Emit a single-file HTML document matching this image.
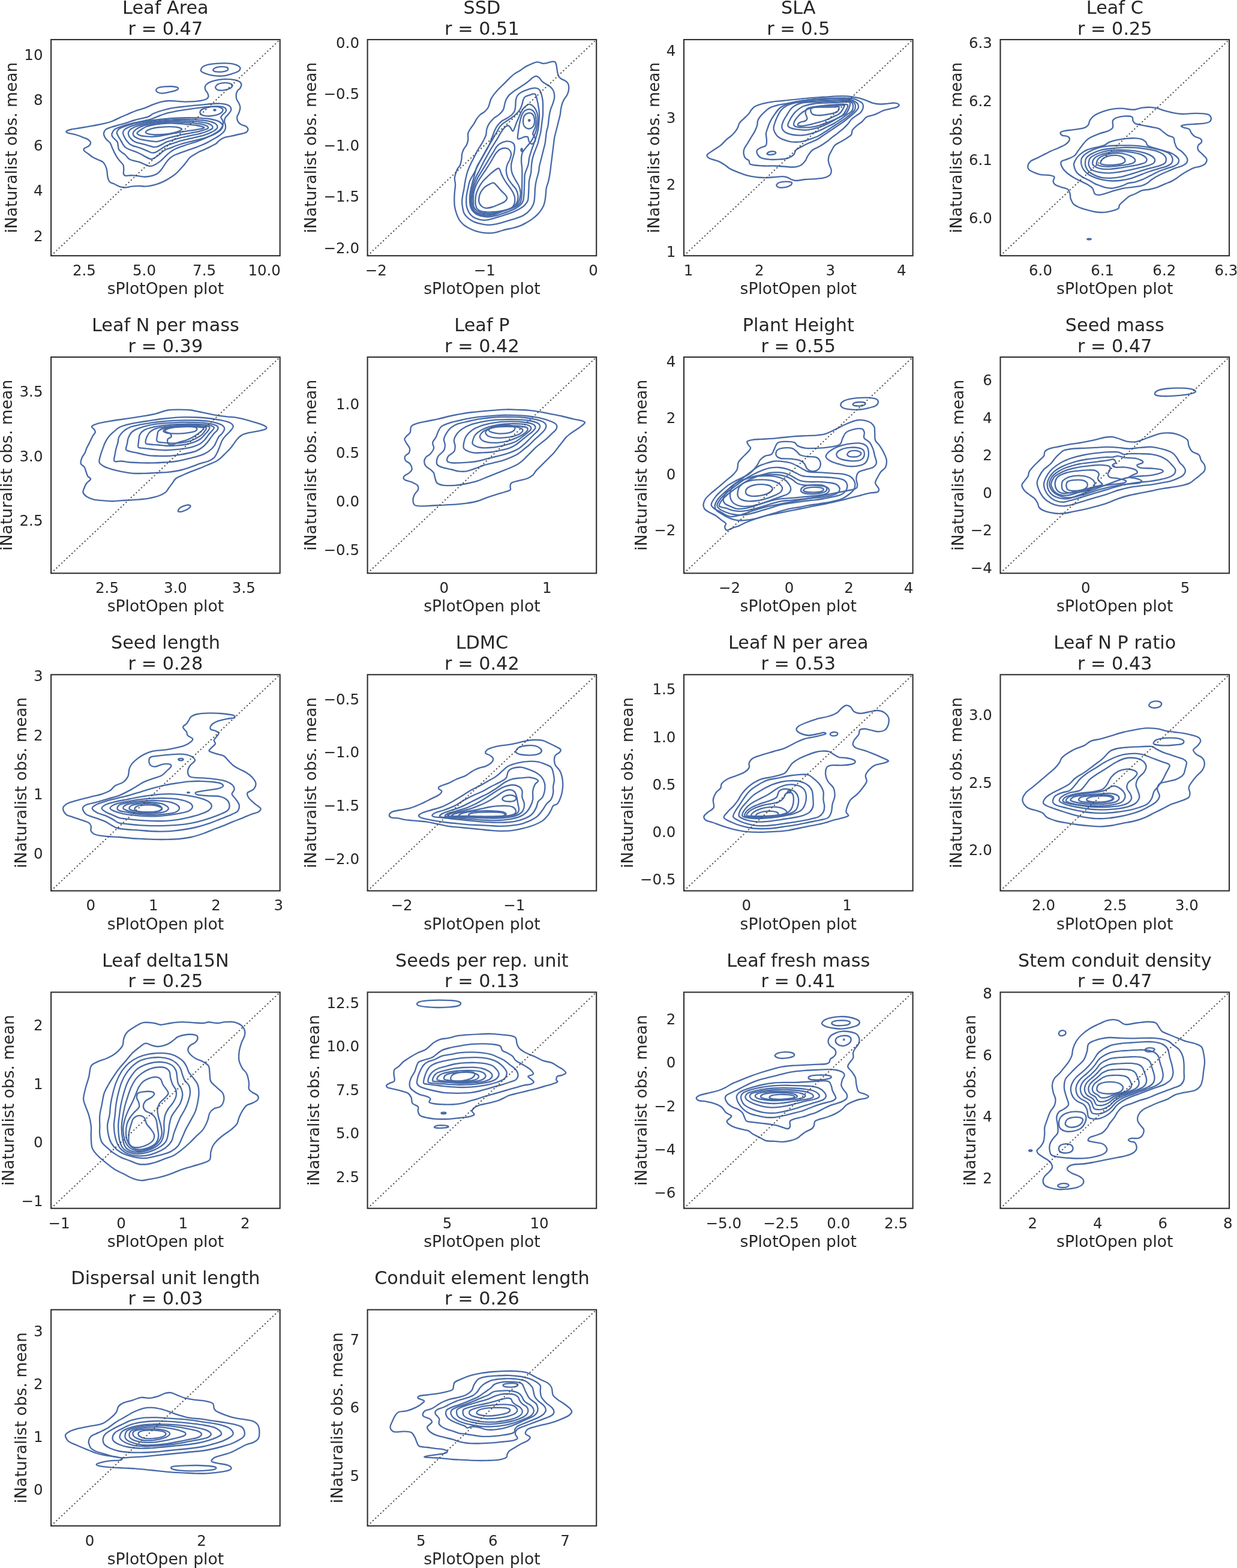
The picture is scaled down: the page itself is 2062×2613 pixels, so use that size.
<!DOCTYPE html>
<html><head><meta charset="utf-8"><title>KDE comparison</title>
<style>html,body{margin:0;padding:0;background:#fff;}svg{display:block;}text{font-family:"DejaVu Sans","Liberation Sans",sans-serif;fill:#262626;}.c{fill:none;stroke:#476aa8;stroke-width:2.35;stroke-linejoin:round;}.fr{fill:none;stroke:#2f2f2f;stroke-width:2.1;}.dg{stroke:#4a4a4a;stroke-width:2.0;stroke-dasharray:2.1 3.8;}.tt{font-size:30.3px;text-anchor:middle;}.lb{font-size:26.6px;text-anchor:middle;}.tx{font-size:24.5px;text-anchor:middle;}.ty{font-size:24.5px;text-anchor:end;}</style></head><body>
<svg xmlns="http://www.w3.org/2000/svg" width="2062" height="2613" viewBox="0 0 2062 2613">
<rect width="2062" height="2613" fill="#fff"/>
<g><path class="c" d="M110.6,218.8C111.6,217.8 115.3,216.5 119.3,215.5C123.3,214.6 129,214 134.8,213C140.6,212.1 147.7,210.9 154.1,209.7C160.5,208.5 167.9,207.2 173.4,205.9C178.9,204.6 182.4,203.7 186.9,202C191.4,200.3 196,197.7 200.5,195.6C205,193.6 209.8,191.6 214,189.8C218.2,188.1 221.1,186.6 225.6,185C230.1,183.4 236.2,181.9 241,180.2C245.9,178.4 250.1,176.1 254.6,174.4C259.1,172.7 263.6,171 268.1,169.9C272.6,168.9 277.1,168.2 281.6,168C286.1,167.8 290.6,168.3 295.1,168.6C299.6,168.8 304.1,169.5 308.7,169.6C313.2,169.6 317.7,169.5 322.2,169.2C326.7,168.8 332.1,168.3 335.7,167.6C339.3,167 341.9,166.3 343.8,165.3C345.7,164.3 346.9,163 347.3,161.4C347.7,159.8 347.1,157.6 346.3,155.6C345.5,153.7 343.2,151.8 342.5,149.8C341.7,147.9 341.4,145.8 341.9,144C342.4,142.3 343.5,141 345.4,139.6C347.2,138.2 349.9,136.9 353.1,135.7C356.3,134.6 360.5,133.5 364.7,132.8C368.9,132.2 373.9,131.8 378.2,131.9C382.6,131.9 387.2,132.5 390.8,133.2C394.3,134 397.5,135 399.5,136.3C401.4,137.6 402.2,139.2 402.4,141C402.5,142.7 401.6,145 400.4,146.8C399.3,148.6 396.7,149.9 395.6,151.8C394.5,153.6 393.8,155.6 393.7,158C393.5,160.3 393.8,163.3 394.6,165.7C395.4,168.1 397.5,170.1 398.5,172.4C399.5,174.8 400.4,177.1 400.4,179.6C400.4,182.1 399.4,184.8 398.5,187.3C397.6,189.9 395.5,192.5 395.2,195.1C394.9,197.6 395.5,200.3 396.6,202.4C397.7,204.5 399.5,206.1 401.8,207.4C404,208.8 408.2,209.3 410.1,210.5C412,211.8 413.1,213.4 413.4,215C413.6,216.5 412.6,218.6 411.4,219.8C410.2,221 408.5,221.4 406.2,222.1C403.9,222.8 400.9,223.3 397.5,224C394.1,224.8 389.8,225.9 385.9,226.7C382.1,227.6 377.6,228 374.3,229.1C371.1,230.2 369,231.6 366.6,233.3C364.2,235 362.4,237.7 359.9,239.5C357.3,241.3 354.2,242.6 351.2,244.1C348.1,245.7 344.7,247.3 341.5,248.8C338.3,250.2 334.7,251.6 331.8,253C328.9,254.5 326.7,255.8 324.1,257.5C321.5,259.1 318.6,260.6 316.4,262.7C314.1,264.8 312.5,267.7 310.6,270C308.7,272.4 307.1,274.5 305.2,276.8C303.2,279 301,281.4 299,283.5C297,285.6 295.5,287.4 293.2,289.3C290.9,291.3 288.7,293 285.5,295.1C282.3,297.2 277.7,300 273.9,301.9C270,303.8 266.2,305.4 262.3,306.7C258.4,308 254.2,309 250.7,309.6C247.2,310.3 244.3,310.6 241,310.6C237.8,310.6 234.9,309.8 231.4,309.8C227.8,309.8 223.6,310.1 219.8,310.6C215.9,311 211.7,312.5 208.2,312.5C204.6,312.5 201.4,311.6 198.5,310.6C195.6,309.6 193.4,307.9 190.8,306.7C188.2,305.5 184.9,305.1 183.1,303.2C181.2,301.4 180.4,298.5 179.6,295.5C178.8,292.6 179,288.5 178.4,285.5C177.9,282.4 177.4,279.9 176.3,277.4C175.2,274.8 174,272.3 171.9,270.4C169.8,268.5 166.6,267.5 163.8,266.2C161,264.8 157.8,263.9 155.1,262.3C152.3,260.7 149.8,258.4 147.3,256.5C144.9,254.6 141.3,252.6 140.2,251.1C139.1,249.5 139.3,248.5 140.6,247.2C141.9,245.9 146.2,245 147.9,243.4C149.7,241.7 151.3,239.4 151,237.6C150.7,235.7 148.4,233.8 146.4,232.3C144.3,230.9 141.2,230.1 138.6,229.1C136.1,228 133.5,226.9 130.9,226C128.3,225.1 126.1,224.4 123.2,223.6C120.3,222.9 115.6,222.5 113.5,221.7C111.4,220.9 109.7,219.8 110.6,218.8Z"/><path class="c" d="M260.4,149.3C260.9,148.3 262,146.8 264.2,146C266.5,145.2 270.3,144.8 273.9,144.4C277.4,144.1 281.9,143.9 285.5,144C289,144.2 293.2,144.8 295.1,145.4C297.1,146 297.4,147 297.1,147.9C296.7,148.8 295.5,149.7 293.2,150.6C290.9,151.5 287.1,152.3 283.5,153.1C280,153.9 275.2,155.2 271.9,155.4C268.7,155.7 266.1,155.1 264.2,154.5C262.4,153.9 261.4,152.6 260.7,151.8C260.1,150.9 259.8,150.2 260.4,149.3Z"/><path class="c" d="M334.7,117C335,115.7 335.5,113.1 337.6,111.6C339.7,110 343.4,108.7 347.3,107.7C351.2,106.8 356,106.2 360.8,105.8C365.6,105.4 371.4,105.2 376.3,105.4C381.1,105.6 386.1,105.9 389.8,106.8C393.5,107.6 396.7,109.2 398.5,110.6C400.3,112 400.7,113.6 400.4,115.1C400.1,116.5 399,118 396.6,119.3C394.1,120.7 389.6,122.1 385.9,123.2C382.2,124.3 378.2,125.5 374.3,126.1C370.5,126.7 366.6,126.8 362.8,126.7C358.9,126.5 354.7,125.9 351.2,125.1C347.6,124.4 344,123.2 341.5,122.2C339,121.3 337.2,120.2 336.1,119.3C335,118.5 334.5,118.3 334.7,117Z"/><path class="c" d="M355.4,115.8C356,114.9 357.7,113.3 359.9,112.6C362,111.8 365.6,111.3 368.5,111.2C371.4,111.1 375.3,111.4 377.2,112C379.2,112.5 380,113.5 380.1,114.5C380.3,115.5 379.8,116.9 378.2,117.8C376.6,118.6 373.2,119.4 370.5,119.7C367.7,120 364.1,119.9 361.8,119.7C359.5,119.5 357.6,119 356.6,118.4C355.5,117.7 354.9,116.8 355.4,115.8Z"/><path class="c" d="M359.3,144.8C359.8,143.7 360.9,141.7 362.8,140.6C364.6,139.5 367.6,138.6 370.5,138.3C373.4,137.9 377.4,137.8 380.1,138.3C382.9,138.7 385.9,139.8 386.9,141C387.9,142.1 387.1,144.1 385.9,145.4C384.8,146.7 382.7,147.8 380.1,148.7C377.6,149.6 373.4,150.4 370.5,150.6C367.6,150.8 364.6,150.4 362.8,149.8C360.9,149.3 360.2,148.2 359.7,147.3C359.1,146.5 358.8,145.9 359.3,144.8Z"/><path class="c" d="M173,221.7C173.4,219.9 174.3,217.5 176.3,215.9C178.3,214.3 181.3,213.3 185,212.1C188.7,210.8 194,209.5 198.5,208.2C203,206.9 207.9,205.6 212.1,204.3C216.2,203 219.8,201.6 223.6,200.5C227.5,199.3 231.4,198.5 235.2,197.6C239.1,196.6 243.6,196 246.8,194.7C250.1,193.4 251.7,191.3 254.6,189.8C257.5,188.4 260.4,187.3 264.2,186C268.1,184.7 272.9,183.2 277.7,182.1C282.6,181 288,180 293.2,179.2C298.4,178.4 303.5,177.9 308.7,177.3C313.8,176.7 319,176.2 324.1,175.7C329.3,175.3 334.7,174.8 339.6,174.4C344.4,173.9 348.6,173.3 353.1,173C357.6,172.7 362.4,172.4 366.6,172.6C370.8,172.9 375.3,173.4 378.2,174.4C381.1,175.3 382.9,176.6 384,178.2C385.1,179.9 385.5,182.1 385,184C384.5,186 382.6,187.9 381.1,189.8C379.6,191.8 377.1,193.5 375.9,195.6C374.7,197.7 374,200.1 374,202.4C374,204.6 375.7,206.9 375.9,209.2C376.1,211.4 376,213.9 375.3,215.9C374.6,217.9 373.2,219.6 371.4,221.3C369.7,223.1 367.4,224.7 364.7,226.5C361.9,228.4 358.2,230.5 355,232.3C351.8,234.2 348.6,235.9 345.4,237.6C342.1,239.2 338.9,240.6 335.7,242C332.5,243.4 329.3,244.7 326,245.9C322.8,247.1 319.6,248 316.4,249.1C313.2,250.3 309.9,251.5 306.7,252.6C303.5,253.8 300.3,254.8 297.1,256.1C293.8,257.4 290.1,258.7 287.4,260.4C284.7,262 282.7,263.9 280.6,266.2C278.5,268.4 276.8,271.1 274.8,273.9C272.9,276.6 271.1,280 269,282.6C267,285.1 265,287.6 262.3,289.3C259.6,291.1 256.2,292.3 252.6,293.2C249.1,294.1 244.9,294.7 241,294.7C237.2,294.7 233.3,293.6 229.4,293.2C225.6,292.8 221.2,292.3 217.9,292.2C214.5,292.2 211.2,293.3 209.2,292.8C207.2,292.3 206.4,291 205.9,289.3C205.4,287.6 206.4,285 206.3,282.6C206.2,280.2 206.4,277.3 205.3,274.8C204.2,272.4 201.3,270.3 199.5,268.1C197.7,265.8 196.2,263.7 194.7,261.3C193.2,258.9 191.7,256.2 190.4,253.6C189.1,251 188.1,248.4 186.9,245.9C185.8,243.3 185.1,240.4 183.5,238.1C181.9,235.9 178.9,234.3 177.3,232.3C175.7,230.4 174.5,228.3 173.8,226.5C173.1,224.8 172.6,223.5 173,221.7Z"/><path class="c" d="M186.6,222.7C187.1,220.7 188.5,217.8 190.8,215.9C193.1,214.1 196.3,213 200.5,211.5C204.6,209.9 210.1,208.2 215.9,206.6C221.7,205.1 229.4,203.7 235.2,202.4C241,201.1 246.2,200.3 250.7,198.9C255.2,197.6 258.1,195.9 262.3,194.3C266.5,192.7 270.7,190.7 275.8,189.3C281,187.8 287.1,186.6 293.2,185.4C299.3,184.2 306.1,183.3 312.5,182.3C319,181.3 325.4,180.4 331.8,179.6C338.3,178.8 345.4,178.1 351.2,177.7C357,177.3 362.6,176.9 366.6,177.3C370.6,177.7 373.6,178.6 375.3,180C377,181.3 377.3,183.6 376.7,185.4C376,187.2 372.9,189.1 371.4,190.8C370,192.5 368.2,193.9 368.2,195.6C368.2,197.4 370.9,199.3 371.4,201.4C372,203.6 372.1,206.3 371.4,208.6C370.8,210.9 369.4,213.3 367.6,215.3C365.8,217.4 363.6,219 360.8,220.7C358.1,222.5 354.7,224.2 351.2,226C347.6,227.7 343.4,229.7 339.6,231.4C335.7,233 331.8,234.5 328,235.8C324.1,237.2 320.2,238.2 316.4,239.5C312.5,240.7 308.7,242 304.8,243.4C300.9,244.7 296.7,246.1 293.2,247.8C289.7,249.5 286.6,251.3 283.5,253.6C280.5,255.8 277.4,258.9 274.8,261.3C272.3,263.7 270.8,265.7 268.1,267.9C265.3,270 261.6,272.8 258.4,274.3C255.2,275.7 253.1,277.5 248.8,276.8C244.4,276.1 237.9,272 232.5,270.2C227.2,268.4 220.5,267.8 216.5,265.8C212.5,263.7 211.8,260.7 208.8,258C205.8,255.4 200.7,253.2 198.5,249.7C196.4,246.2 197.1,240 195.8,237C194.5,233.9 192.2,233 190.8,231.4C189.4,229.8 188,229 187.3,227.5C186.6,226.1 186,224.6 186.6,222.7Z"/><path class="c" d="M194.9,221.9C194.2,219 195.7,217.7 197.2,216.1C198.6,214.5 200.3,213.6 203.6,212.2C206.8,210.9 211.2,209.3 216.5,207.8C221.8,206.3 228.9,204.6 235.2,203.4C241.6,202.1 248.1,201.3 254.6,200.5C261,199.6 267.4,198.8 273.9,198.1C280.3,197.5 286.8,196.9 293.2,196.6C299.6,196.3 306.1,196.2 312.5,196.2C319,196.2 325.4,196.2 331.8,196.6C338.3,197 345.7,197.6 351.2,198.5C356.6,199.5 361.3,200.6 364.7,202.4C368,204.2 370.6,206.9 371.3,209.2C371.9,211.4 370.3,213.8 368.5,215.9C366.8,218 363.7,219.9 360.8,221.7C357.9,223.5 354.7,225.1 351.2,226.5C347.6,228 343.4,229.3 339.6,230.4C335.7,231.5 331.8,232.3 328,233.3C324.1,234.3 320.2,235.2 316.4,236.2C312.5,237.2 308.7,238 304.8,239.1C300.9,240.2 296.7,241.7 293.2,243C289.7,244.3 286.7,245.6 283.5,246.8C280.4,248.1 277.6,248.4 274.5,250.3C271.3,252.2 268,255.7 264.8,258C261.6,260.4 257.8,263.4 255.1,264.4C252.5,265.5 253,266.1 248.8,264.4C244.5,262.7 235.9,257.2 229.4,254.2C223,251.2 214.9,249.9 210.1,246.4C205.4,243 203.6,237.6 201,233.5C198.5,229.4 195.5,224.8 194.9,221.9Z"/><path class="c" d="M205,220.8C205.2,219.2 206.3,217.3 207.6,216C208.8,214.7 210.8,213.8 212.5,212.9C214.2,212 216.1,211.3 217.9,210.6C219.8,209.9 221.7,209.3 223.5,208.8C225.4,208.2 227.3,207.7 229.2,207.2C231.1,206.7 233,206.3 235,205.9C236.9,205.4 238.8,205 240.7,204.6C242.7,204.3 244.6,203.9 246.5,203.6C248.5,203.3 250.4,203 252.4,202.8C254.3,202.5 256.3,202.3 258.2,202C260.2,201.8 262.1,201.5 264.1,201.3C266,201.1 268,200.9 269.9,200.7C271.9,200.5 273.8,200.3 275.8,200.1C277.7,199.9 279.7,199.8 281.6,199.6C283.6,199.5 285.6,199.4 287.5,199.3C289.5,199.1 291.4,199.1 293.4,199C295.4,198.9 297.3,198.9 299.3,198.9C301.3,198.9 303.2,198.9 305.2,198.9C307.2,198.9 309.1,198.9 311.1,199C313,199 315,199 317,199.1C318.9,199.1 320.9,199.2 322.9,199.3C324.8,199.4 326.8,199.5 328.7,199.6C330.7,199.8 332.7,199.9 334.6,200.1C336.6,200.3 338.5,200.4 340.5,200.7C342.4,201 344.4,201.2 346.3,201.6C348.2,202 350.2,202.4 352,203C353.9,203.5 355.8,204.2 357.5,205.1C359.1,206.1 361.1,207.3 361.9,208.8C362.6,210.3 362.5,212.4 361.8,213.9C361.1,215.3 359,216.5 357.4,217.6C355.8,218.7 354.1,219.6 352.3,220.4C350.6,221.3 348.8,222.1 347,222.9C345.2,223.6 343.3,224.2 341.4,224.8C339.6,225.4 337.7,225.9 335.8,226.5C333.9,227 332,227.4 330.1,227.9C328.2,228.3 326.2,228.7 324.3,229.1C322.4,229.6 320.5,230 318.6,230.5C316.7,230.9 314.8,231.4 312.9,231.8C310.9,232.3 309,232.7 307.1,233.1C305.2,233.6 303.3,234.1 301.4,234.6C299.5,235.1 297.7,235.7 295.8,236.3C293.9,236.9 292.1,237.5 290.2,238.2C288.4,238.8 286.5,239.6 284.7,240.2C282.8,240.8 280.9,241.2 279.1,242C277.3,242.7 275.5,243.6 273.9,244.6C272.2,245.6 270.7,246.8 269.1,247.9C267.5,249 265.9,250 264.3,251C262.6,252 260.9,253.2 259.2,253.8C257.4,254.4 255.4,254.8 253.6,254.6C251.7,254.4 249.9,253.4 248.2,252.7C246.4,251.9 244.6,251.1 242.9,250.4C241.1,249.6 239.4,248.8 237.6,248.1C235.8,247.4 234,246.7 232.1,246.1C230.3,245.4 228.4,245 226.5,244.4C224.6,243.9 222.7,243.4 220.9,242.6C219.1,241.9 217.3,241 215.9,239.8C214.4,238.6 213.2,237.1 212,235.6C210.8,234.1 209.7,232.5 208.8,230.9C207.8,229.3 206.8,227.6 206.2,225.9C205.5,224.2 204.7,222.5 205,220.8Z"/><path class="c" d="M214.3,219.9C214.9,218.5 215.9,217 217.1,215.9C218.3,214.8 220,214 221.5,213.2C223,212.3 224.6,211.6 226.2,211C227.8,210.4 229.5,209.8 231.2,209.3C232.8,208.8 234.5,208.4 236.2,208C237.9,207.5 239.5,207.1 241.2,206.8C242.9,206.4 244.6,206 246.3,205.7C248,205.4 249.7,205.1 251.5,204.8C253.2,204.5 254.9,204.3 256.6,204.1C258.3,203.8 260,203.6 261.8,203.4C263.5,203.2 265.2,203 266.9,202.9C268.7,202.7 270.4,202.5 272.1,202.4C273.8,202.2 275.6,202.1 277.3,202C279,201.8 280.7,201.7 282.5,201.6C284.2,201.5 285.9,201.4 287.7,201.4C289.4,201.3 291.1,201.3 292.9,201.2C294.6,201.2 296.3,201.2 298.1,201.2C299.8,201.3 301.5,201.3 303.3,201.3C305,201.4 306.7,201.4 308.5,201.5C310.2,201.6 311.9,201.6 313.6,201.7C315.4,201.8 317.1,201.9 318.8,202C320.6,202.1 322.3,202.2 324,202.3C325.8,202.4 327.5,202.6 329.2,202.7C330.9,202.9 332.7,203.1 334.4,203.3C336.1,203.5 337.8,203.7 339.5,204.1C341.2,204.4 342.9,204.7 344.6,205.2C346.3,205.6 348,206.1 349.5,206.9C351,207.6 352.9,208.5 353.6,209.6C354.4,210.8 354.8,212.5 354.3,213.6C353.7,214.8 351.6,215.7 350.1,216.5C348.7,217.4 347.1,218 345.5,218.7C343.9,219.3 342.3,219.9 340.7,220.5C339,221.1 337.4,221.5 335.7,222C334.1,222.5 332.4,222.9 330.7,223.3C329,223.7 327.3,224 325.6,224.4C323.9,224.7 322.2,225 320.5,225.4C318.8,225.8 317.1,226.1 315.4,226.5C313.7,226.8 312.1,227.2 310.4,227.6C308.7,227.9 307,228.3 305.3,228.7C303.6,229 301.9,229.4 300.2,229.9C298.5,230.3 296.9,230.8 295.2,231.2C293.5,231.7 291.9,232.2 290.2,232.7C288.6,233.2 287,233.8 285.3,234.3C283.7,234.8 281.9,235.1 280.3,235.7C278.7,236.2 277.1,236.9 275.6,237.6C274.1,238.4 272.7,239.3 271.2,240.1C269.7,240.9 268.2,241.7 266.7,242.4C265.1,243.1 263.6,244 262,244.4C260.4,244.9 258.7,245.2 257,245.1C255.4,245.1 253.7,244.4 252.1,244C250.5,243.6 248.9,243.1 247.3,242.6C245.7,242.1 244.2,241.6 242.5,241.2C240.9,240.7 239.3,240.2 237.6,239.8C236,239.4 234.3,239 232.6,238.6C230.9,238.2 229.2,237.9 227.6,237.3C226,236.7 224.4,236.1 223,235.2C221.6,234.3 220.3,233.3 219.2,232.1C218,231 216.7,229.7 215.9,228.4C215,227 214.4,225.4 214.1,224C213.8,222.6 213.8,221.2 214.3,219.9Z"/><path class="c" d="M223.3,218.9C224.1,217.9 225.2,216.8 226.3,215.9C227.5,214.9 228.8,214.2 230.2,213.4C231.5,212.7 232.8,212 234.2,211.4C235.6,210.8 237,210.3 238.5,209.9C239.9,209.4 241.4,209 242.8,208.7C244.3,208.3 245.8,208 247.3,207.7C248.7,207.3 250.2,207 251.7,206.8C253.2,206.5 254.7,206.2 256.2,206C257.7,205.7 259.2,205.5 260.7,205.3C262.2,205.1 263.7,204.9 265.2,204.8C266.7,204.6 268.2,204.5 269.7,204.3C271.2,204.2 272.7,204.1 274.2,204C275.7,203.9 277.2,203.8 278.7,203.7C280.3,203.7 281.8,203.6 283.3,203.5C284.8,203.5 286.3,203.4 287.8,203.4C289.3,203.4 290.8,203.4 292.3,203.4C293.9,203.4 295.4,203.5 296.9,203.5C298.4,203.5 299.9,203.6 301.4,203.7C302.9,203.8 304.4,203.9 305.9,203.9C307.4,204 308.9,204.1 310.5,204.2C312,204.3 313.5,204.4 315,204.5C316.5,204.6 318,204.8 319.5,204.9C321,205 322.5,205.1 324,205.3C325.5,205.4 327,205.6 328.5,205.8C330,205.9 331.5,206.2 333,206.4C334.5,206.7 336,206.9 337.5,207.3C338.9,207.7 340.4,208 341.8,208.6C343.2,209.1 344.9,209.6 345.8,210.4C346.6,211.2 347.5,212.6 347,213.4C346.6,214.3 344.5,214.9 343.1,215.5C341.8,216 340.3,216.5 338.9,216.9C337.5,217.4 336.1,217.8 334.6,218.2C333.2,218.6 331.7,219 330.2,219.3C328.7,219.6 327.3,219.9 325.8,220.2C324.3,220.5 322.8,220.8 321.3,221C319.8,221.3 318.4,221.5 316.9,221.8C315.4,222.1 313.9,222.4 312.4,222.6C310.9,222.9 309.4,223.2 308,223.5C306.5,223.8 305,224.1 303.5,224.4C302,224.7 300.5,225 299.1,225.3C297.6,225.6 296.1,226 294.7,226.3C293.2,226.7 291.7,227 290.3,227.4C288.8,227.8 287.4,228.2 285.9,228.6C284.4,228.9 282.9,229.2 281.5,229.6C280.1,230.1 278.6,230.5 277.2,231C275.8,231.5 274.5,232.1 273.1,232.6C271.8,233.1 270.4,233.6 269,234.1C267.6,234.6 266.2,235.1 264.7,235.4C263.3,235.7 261.8,236 260.3,236.1C258.9,236.1 257.4,235.9 256,235.7C254.5,235.6 253.1,235.4 251.6,235.2C250.2,235 248.7,234.7 247.3,234.5C245.8,234.3 244.4,234 242.9,233.8C241.4,233.5 239.9,233.3 238.4,233C237,232.8 235.5,232.5 234,232.2C232.6,231.8 231.1,231.4 229.8,230.8C228.5,230.2 227.2,229.6 226,228.8C224.8,228 223.4,227.1 222.7,226C222,224.9 221.6,223.4 221.7,222.2C221.8,221 222.6,220 223.3,218.9Z"/><path class="c" d="M228.4,222C228.2,220.9 230,219.9 231.3,218.8C232.6,217.7 233.9,216.8 236,215.5C238.1,214.2 240.7,212.2 244,211C247.3,209.8 251.7,208.8 256,208C260.3,207.2 264.3,206.4 270,206C275.7,205.6 283.3,205.3 290,205.5C296.7,205.7 303.7,206.4 310,207C316.3,207.6 322.9,208.1 328,209C333.1,209.9 340.1,211.4 340.4,212.5C340.7,213.6 335.1,214.7 330,215.7C324.9,216.7 316.7,217.6 310,218.7C303.3,219.8 296.7,221 290,222.2C283.3,223.4 275.8,225.1 270,226C264.2,226.9 259.7,227.6 255,227.8C250.3,228 245.7,227.6 242,227.2C238.3,226.8 234.9,226.2 232.6,225.3C230.3,224.4 228.6,223.1 228.4,222Z"/><path class="c" d="M242.9,220.3C243.1,219 245.6,217 248.7,215.8C251.8,214.5 256.9,213.3 261.6,212.5C266.3,211.8 271.9,211.4 277.1,211.3C282.2,211.1 288.3,211.1 292.5,211.6C296.8,212.2 301.3,213.5 302.6,214.5C303.8,215.5 302.1,216.6 300.2,217.7C298.4,218.8 295.3,219.9 291.2,220.9C287.1,221.9 281.1,223.1 275.8,223.7C270.4,224.3 263.7,224.6 259,224.5C254.3,224.4 250.1,223.9 247.4,223.2C244.7,222.5 242.7,221.5 242.9,220.3Z"/><path class="c" d="M333.5,186.4C333.8,184.9 334.9,183.2 337.5,181.9C340.1,180.6 345.3,179.1 349.4,178.4C353.5,177.7 358.8,177.5 362.3,177.9C365.8,178.3 368.8,179.7 370.3,180.9C371.8,182.1 371.8,183.6 371.3,184.9C370.8,186.2 369.6,187.7 367.3,188.9C365,190.2 361.2,191.7 357.4,192.4C353.6,193.2 348,193.7 344.4,193.4C340.8,193.2 337.3,192.1 335.5,190.9C333.7,189.7 333.2,187.9 333.5,186.4Z"/><path class="c" d="M359.5,183.4C359.5,183.7 359.1,184.1 358.7,184.3C358.3,184.4 357.5,184.4 357.1,184.3C356.7,184.1 356.3,183.7 356.3,183.4C356.3,183.1 356.7,182.7 357.1,182.5C357.5,182.4 358.3,182.4 358.7,182.5C359.1,182.7 359.5,183.1 359.5,183.4Z"/><line class="dg" x1="85.1" y1="426.2" x2="466.7" y2="66"/><rect class="fr" x="85.1" y="66" width="381.6" height="360.2"/><text class="tt" x="275.9" y="23.1">Leaf Area</text><text class="tt" x="275.9" y="57.5">r = 0.47</text><text class="tx" x="140.4" y="459.1">2.5</text><text class="tx" x="240.5" y="459.1">5.0</text><text class="tx" x="340.6" y="459.1">7.5</text><text class="tx" x="440.7" y="459.1">10.0</text><text class="ty" x="71.5" y="401.8">2</text><text class="ty" x="71.5" y="326.2">4</text><text class="ty" x="71.5" y="250.7">6</text><text class="ty" x="71.5" y="175.1">8</text><text class="ty" x="71.5" y="99.5">10</text><text class="lb" x="275.9" y="490.3">sPlotOpen plot</text><text class="lb" transform="translate(28.2,246.1) rotate(-90)">iNaturalist obs. mean</text></g>
<g><path class="c" d="M925.4,103.4C926.8,104.7 927.2,108 927.8,110.6C928.4,113.2 928.5,116.4 929,119C929.5,121.6 929.8,124.2 930.8,126.2C931.8,128.2 933.1,129.6 935,131C936.9,132.4 940.2,133.2 942.2,134.6C944.2,136 946,137.2 947,139.4C948,141.6 948.4,144.8 948.2,147.8C948,150.8 947,154.6 945.8,157.4C944.6,160.2 942.4,162.2 941,164.6C939.6,167 938.4,169 937.4,171.8C936.4,174.6 935.6,178.2 935,181.4C934.4,184.6 934.4,187.8 933.8,191C933.2,194.2 932.2,197.4 931.4,200.6C930.6,203.8 929.8,207 929,210.2C928.2,213.4 927.4,216.6 926.6,219.8C925.8,223 924.8,226.2 924.2,229.4C923.6,232.6 923.4,235.8 923,239C922.6,242.2 922.2,245.4 921.8,248.6C921.4,251.8 921,255 920.6,258.2C920.2,261.4 919.8,264.6 919.4,267.8C919,271 918.6,274.2 918.2,277.4C917.8,280.6 917.7,283 917,287C916.4,291.1 915.3,297.3 914.3,301.7C913.2,306.1 911.5,309.5 910.7,313.4C910,317.3 910,321.6 909.6,325.1C909.2,328.6 909,331.6 908.4,334.5C907.8,337.4 907.2,340 906.1,342.7C904.9,345.4 903.1,348.4 901.4,350.9C899.6,353.4 897.9,355.6 895.5,357.9C893.2,360.3 890.2,362.8 887.3,364.9C884.4,367.1 881.5,368.8 878,370.8C874.4,372.7 870.1,375.1 866.2,376.7C862.3,378.2 858.4,379.2 854.5,380.2C850.6,381.1 846.7,381.5 842.8,382.5C838.9,383.5 835,385 831.1,386C827.2,387 823.7,388.1 819.4,388.4C815.1,388.7 809.8,388.4 805.4,387.8C800.9,387.2 796.4,386.1 792.5,384.8C788.6,383.6 785.2,381.9 781.9,380.2C778.6,378.4 775.3,376.7 772.6,374.3C769.8,372 767.5,369.2 765.5,366.1C763.6,363 762.1,359.3 760.9,355.6C759.6,351.9 758.5,348 757.9,343.9C757.3,339.8 757.3,335.1 757.3,331C757.3,326.9 757.6,323.2 757.9,319.3C758.2,315.4 759.1,311.5 759.1,307.6C759.1,303.7 757.4,300.1 757.9,295.9C758.4,291.6 760.7,285.7 762.2,282.2C763.7,278.8 765.8,277.8 767,275C768.2,272.2 768.9,268.4 769.4,265.4C769.9,262.4 769.4,259.8 770,257C770.6,254.2 771.7,251.2 773,248.6C774.3,246 776.6,244 777.8,241.4C779,238.8 779.8,236.2 780.2,233C780.6,229.8 779.6,225.2 780.2,222.2C780.8,219.2 782.2,217.6 783.8,215C785.4,212.4 788,209.4 789.8,206.6C791.6,203.8 792.8,200.8 794.6,198.2C796.4,195.6 798.4,193 800.6,191C802.8,189 805.6,188.2 807.8,186.2C810,184.2 812.4,181.4 813.8,179C815.2,176.6 815.4,174.2 816.2,171.8C817,169.4 817.4,167 818.6,164.6C819.8,162.2 821.6,159.8 823.4,157.4C825.2,155 827.2,152.6 829.4,150.2C831.6,147.8 834.2,145.4 836.6,143C839,140.6 841.4,138.2 843.8,135.8C846.2,133.4 848.6,130.8 851,128.6C853.4,126.4 855.6,124.4 858.2,122.6C860.8,120.8 863.8,119.6 866.6,117.8C869.4,116 872.4,113.4 875,111.8C877.6,110.2 879.6,109.4 882.2,108.2C884.8,107 888.2,105.4 890.6,104.6C893,103.8 894.2,103.2 896.6,103.4C899,103.6 902.6,105.5 905,105.8C907.4,106.1 908.6,105.7 911,105.2C913.4,104.7 917,103.1 919.4,102.8C921.8,102.5 924,102.1 925.4,103.4Z"/><path class="c" d="M894.2,126.8C896,126.9 897.4,128.3 899,129.8C900.6,131.3 901.8,134 903.8,135.8C905.8,137.6 908.6,139 911,140.6C913.4,142.2 916.2,143.4 918.2,145.4C920.2,147.4 922,149.8 923,152.6C924,155.4 924.4,159 924.2,162.2C924,165.4 922.8,168.6 921.8,171.8C920.8,175 919.2,178.2 918.2,181.4C917.2,184.6 916.4,187.8 915.8,191C915.2,194.2 915,197.4 914.6,200.6C914.2,203.8 914,207 913.4,210.2C912.8,213.4 911.6,216.6 911,219.8C910.4,223 910.2,226.2 909.8,229.4C909.4,232.6 909.2,235.8 908.6,239C908,242.2 907,245.4 906.2,248.6C905.4,251.8 904.6,255 903.8,258.2C903,261.4 902.2,264.6 901.4,267.8C900.6,271 899.6,274.2 899,277.4C898.4,280.6 898.7,283 897.8,287C896.9,291.1 894.7,297.3 893.8,301.7C892.8,306.1 892.4,309.5 892,313.4C891.6,317.3 891.7,321.2 891.4,325.1C891.1,329 891.1,333.3 890.2,336.8C889.4,340.4 887.8,343.5 886.1,346.2C884.5,348.9 882.6,351.1 880.3,353.2C878,355.4 875.4,357.3 872.1,359.1C868.8,360.8 864.3,362.4 860.4,363.8C856.5,365.1 852.6,366.1 848.7,367.3C844.8,368.5 840.9,369.7 837,370.8C833.1,371.9 829.2,373 825.3,373.7C821.4,374.4 817.5,375 813.5,374.9C809.6,374.8 805.7,374 801.8,373.1C797.9,372.3 793.6,371.2 790.1,369.6C786.6,368.1 783.5,366.1 780.8,363.8C778,361.4 775.4,358.9 773.7,355.6C772.1,352.3 771.4,347.4 770.8,343.9C770.2,340.4 770.1,337.6 770.2,334.5C770.3,331.4 770.8,328.6 771.4,325.1C772,321.6 773.1,317.3 773.7,313.4C774.4,309.5 774.6,306.1 775.5,301.7C776.4,297.3 777.6,291.5 779,287C780.4,282.6 782,279 783.8,275C785.6,271 787.8,267 789.8,263C791.8,259 793.8,254.6 795.8,251C797.8,247.4 800,244.4 801.8,241.4C803.6,238.4 805.2,235.8 806.6,233C808,230.2 809.4,227.6 810.2,224.6C811,221.6 810.6,218 811.4,215C812.2,212 813.6,209 815,206.6C816.4,204.2 818.2,202.4 819.8,200.6C821.4,198.8 822.6,197.4 824.6,195.8C826.6,194.2 829.4,193.2 831.8,191C834.2,188.8 837.4,185.6 839,182.6C840.6,179.6 840.6,175.8 841.4,173C842.2,170.2 842.6,168.2 843.8,165.8C845,163.4 846.6,160.8 848.6,158.6C850.6,156.4 853.4,154.4 855.8,152.6C858.2,150.8 860.6,149.4 863,147.8C865.4,146.2 867.8,144.6 870.2,143C872.6,141.4 875.2,139.8 877.4,138.2C879.6,136.6 881.6,134.9 883.4,133.4C885.2,131.9 886.4,130.3 888.2,129.2C890,128.1 892.4,126.7 894.2,126.8Z"/><path class="c" d="M891.8,146.6C893.6,146.8 896.2,147.2 897.8,148.4C899.4,149.6 900.4,151.5 901.4,153.8C902.4,156.1 903.2,159.2 903.8,162.2C904.4,165.2 904.8,168.6 905,171.8C905.2,175 905,178.2 905,181.4C905,184.6 905.2,187.8 905,191C904.8,194.2 904.2,197.4 903.8,200.6C903.4,203.8 903,207 902.6,210.2C902.2,213.4 902,216.6 901.4,219.8C900.8,223 899.8,226.2 899,229.4C898.2,232.6 897.6,235.8 896.6,239C895.6,242.2 894.2,245.4 893,248.6C891.8,251.8 890.4,255 889.4,258.2C888.4,261.4 887.6,264.6 887,267.8C886.4,271 886.1,274.2 885.8,277.4C885.5,280.6 885.8,283 885.2,287C884.6,291.1 882.7,297.3 882,301.7C881.4,306.1 881.7,309.5 881.5,313.4C881.3,317.3 881.2,321.6 880.9,325.1C880.6,328.6 880.8,331.7 879.7,334.5C878.6,337.3 876.7,339.9 874.4,342.1C872.2,344.4 869.2,346.2 866.2,348C863.3,349.7 860.2,351.2 856.9,352.6C853.6,354.1 850,355.5 846.3,356.7C842.6,358 838.5,359.1 834.6,360.3C830.7,361.4 826.8,362.7 822.9,363.8C819,364.8 815.1,366.3 811.2,366.7C807.3,367 803.2,366.7 799.5,365.9C795.8,365 791.9,363.6 789,361.7C786,359.8 783.8,357.4 781.9,354.4C780.1,351.4 778.6,347.2 777.8,343.9C777.1,340.5 777.2,337.6 777.2,334.5C777.2,331.4 777.3,328.6 777.8,325.1C778.3,321.6 779.3,317.3 780.2,313.4C781.1,309.5 781.5,305.7 783.1,301.7C784.7,297.7 787.9,293.1 789.8,289.4C791.7,285.8 793,283 794.6,279.8C796.2,276.6 797.8,273.2 799.4,270.2C801,267.2 802.6,264.6 804.2,261.8C805.8,259 807.4,256.2 809,253.4C810.6,250.6 812.4,247.8 813.8,245C815.2,242.2 816.2,239.6 817.4,236.6C818.6,233.6 819.8,230.2 821,227C822.2,223.8 823.2,220.4 824.6,217.4C826,214.4 827.4,211.6 829.4,209C831.4,206.4 834,203.8 836.6,201.8C839.2,199.8 842.2,198.8 845,197C847.8,195.2 851.2,193.2 853.4,191C855.6,188.8 857.2,186.6 858.2,183.8C859.2,181 859.1,177.2 859.4,174.2C859.7,171.2 859.4,168.4 860,165.8C860.6,163.2 861.5,160.6 863,158.6C864.5,156.6 866.6,155.2 869,153.8C871.4,152.4 874.4,151.3 877.4,150.2C880.4,149.1 884.6,147.8 887,147.2C889.4,146.6 890,146.4 891.8,146.6Z"/><path class="c" d="M891.8,156.8C894,158.2 894.4,163.3 895.4,167C896.4,170.7 897.2,175 897.8,179C898.4,183 898.9,187 899,191C899.1,195 898.7,199 898.4,203C898.1,207 897.9,211 897.2,215C896.5,219 895.4,223 894.2,227C893,231 891.4,235 890,239C888.6,243 887.1,247 885.8,251C884.5,255 883.1,259 882.2,263C881.3,267 881.6,270.5 880.4,275C879.2,279.5 876,285.6 875,290C874,294.4 874.6,297.8 874.4,301.7C874.2,305.6 874,309.5 873.9,313.4C873.7,317.3 873.6,321.6 873.3,325.1C873,328.6 873.1,331.8 872.1,334.5C871.1,337.2 869.6,339.4 867.4,341.5C865.3,343.7 862.3,345.6 859.2,347.4C856.1,349.1 852.4,350.6 848.7,352.1C845,353.5 840.9,354.9 837,356.2C833.1,357.4 828.8,358.8 825.3,359.7C821.7,360.6 819,361.2 815.9,361.4C812.8,361.6 809.6,361.3 806.5,360.8C803.4,360.4 799.9,359.7 797.2,358.5C794.4,357.3 792.2,355.9 790.1,353.8C788.1,351.8 786,349 784.9,346.2C783.7,343.4 783.4,340 783.1,336.8C782.8,333.7 782.9,330.6 783.1,327.5C783.3,324.3 783.7,321.4 784.3,318.1C784.9,314.8 785.7,311.1 786.6,307.6C787.5,304.1 788.2,301.8 789.5,297C790.9,292.2 792.8,283.5 794.6,278.6C796.5,273.8 798.6,271.4 800.6,267.8C802.6,264.2 804.6,260.6 806.6,257C808.6,253.4 810.6,249.6 812.6,246.2C814.6,242.8 816.8,239.6 818.6,236.6C820.4,233.6 821.8,231 823.4,228.2C825,225.4 826.6,222.6 828.2,219.8C829.8,217 831.2,213.8 833,211.4C834.8,209 836.8,207.2 839,205.4C841.2,203.6 843.8,202.2 846.2,200.6C848.6,199 851,197.6 853.4,195.8C855.8,194 858.4,192 860.6,189.8C862.8,187.6 865,185.2 866.6,182.6C868.2,180 869.3,176.8 870.2,174.2C871.1,171.6 871.2,169.1 872,167C872.8,164.9 873.3,163 875,161.6C876.7,160.2 879.4,159.4 882.2,158.6C885,157.8 889.6,155.4 891.8,156.8Z"/><path class="c" d="M882.2,173.6C884.1,173.6 886.4,175.1 888.2,176.6C890,178.1 891.7,180.2 893,182.6C894.3,185 895.4,188 896,191C896.6,194 896.7,197.4 896.6,200.6C896.5,203.8 896,207 895.4,210.2C894.8,213.4 894,216.8 893,219.8C892,222.8 890.8,225.4 889.4,228.2C888,231 886.4,234 884.6,236.6C882.8,239.2 880.4,241.6 878.6,243.8C876.8,246 875.2,247.8 873.8,249.8C872.4,251.8 871,252.8 870.2,255.8C869.4,258.8 869,263.6 869,267.8C869,272 870,276.4 870.2,281C870.4,285.7 870.4,290.5 870.3,295.9C870.3,301.3 870.2,307.6 870,313.4C869.8,319.3 869.8,326.7 869.2,331C868.5,335.3 867.9,336.9 866.2,339.2C864.6,341.4 862.1,342.9 859.2,344.4C856.3,346 852.4,347.2 848.7,348.5C845,349.9 840.9,351.2 837,352.6C833.1,354.1 828.8,356.3 825.3,357.3C821.7,358.4 819,358.8 815.9,359.1C812.8,359.4 809.6,359.5 806.5,359.1C803.4,358.7 799.9,357.9 797.2,356.7C794.4,355.6 792,354 790.1,352.1C788.3,350.1 786.9,347.6 786,345C785.2,342.5 785,339.8 784.9,336.8C784.7,333.9 784.8,330.6 785.1,327.5C785.3,324.3 785.7,321.4 786.4,318.1C787,314.8 787.9,311.1 789,307.6C790,304.1 790.6,301.2 792.5,297C794.3,292.8 797.9,286.5 800,282.2C802.2,278 803.5,275 805.4,271.4C807.3,267.8 809.4,264.2 811.4,260.6C813.4,257 815.4,253.2 817.4,249.8C819.4,246.4 821.4,243.4 823.4,240.2C825.4,237 827.6,233.6 829.4,230.6C831.2,227.6 832.6,224.8 834.2,222.2C835.8,219.6 837.4,217 839,215C840.6,213 842.3,211.1 843.8,210.2C845.3,209.3 846.7,209 848,209.6C849.3,210.2 850.5,212.3 851.6,213.8C852.7,215.3 853.6,218.6 854.6,218.6C855.6,218.6 856.6,216 857.6,213.8C858.6,211.6 859.5,208.2 860.6,205.4C861.7,202.6 863,199.8 864.2,197C865.4,194.2 866.5,191.2 867.8,188.6C869.1,186 870.5,183.4 872,181.4C873.5,179.4 875.1,177.9 876.8,176.6C878.5,175.3 880.3,173.6 882.2,173.6Z"/><path class="c" d="M827.1,245.5C828.8,243.3 830.3,241.1 833.2,239.4C836.1,237.7 841.1,235.7 844.6,235.4C848.1,235.1 852.1,236.3 854.3,237.7C856.5,239 857.3,241.1 857.8,243.7C858.3,246.4 857.9,249.8 857.3,253.3C856.8,256.9 855.2,261.2 854.3,264.8C853.4,268.5 852.2,271.6 852.1,275.4C851.9,279.2 852.2,283.7 853.4,287.7C854.5,291.6 856.8,295.5 858.7,299.1C860.7,302.8 863.4,306.1 864.8,309.6C866.3,313 867.4,316.5 867.6,320.1C867.9,323.7 867.3,327.8 866.5,331C865.7,334.2 864.5,336.8 862.7,339.2C860.9,341.5 858.6,343.3 855.7,345C852.8,346.8 849.1,348.4 845.2,349.7C841.3,351.1 836.4,352.1 832.3,353.2C828.2,354.4 824.3,356.1 820.6,356.7C816.9,357.4 813.4,357.4 810,357.3C806.7,357.2 803.6,356.9 800.7,356.2C797.7,355.4 794.6,354.3 792.5,352.6C790.4,351 789,348.8 788,346.2C787,343.6 786.8,340 786.6,336.8C786.4,333.7 786.6,330.6 786.9,327.5C787.1,324.3 787.6,321.4 788.4,318.1C789.1,314.8 790,311.1 791.3,307.6C792.6,304.1 794,300.7 796,297C797.9,293.3 800.7,289.2 803,285.3C805.4,281.4 807.7,277.5 810,273.6C812.4,269.7 814.9,265.4 817.1,261.9C819.2,258.4 821.2,255.3 822.9,252.5C824.6,249.8 825.4,247.7 827.1,245.5Z"/><path class="c" d="M826.2,256C828.3,253.3 830.4,250.6 833.2,249C836,247.5 840.3,246.7 842.9,246.8C845.6,246.9 847.5,247.8 849,249.5C850.6,251.2 851.9,254.1 852.1,256.9C852.2,259.6 850.9,262.8 849.8,265.8C848.8,268.7 846.5,271.5 845.5,274.5C844.5,277.6 843.6,280.5 843.8,284.1C843.9,287.8 844.9,292.6 846.5,296.4C848.1,300.2 851,303.8 853.4,307C855.7,310.2 858.7,312.6 860.4,315.6C862,318.7 862.9,322 863.3,325.1C863.7,328.3 863.6,331.6 862.7,334.5C861.9,337.4 860.4,340.4 858,342.7C855.7,345 852.2,347 848.7,348.5C845.2,350.1 840.9,351 837,352.1C833.1,353.1 829.2,354.4 825.3,355C821.4,355.6 817.3,355.7 813.5,355.6C809.8,355.5 806.1,355.2 803,354.4C799.9,353.6 797,352.5 794.8,350.9C792.6,349.3 790.9,347.4 789.9,345C788.9,342.7 789.1,339.6 789,336.8C788.8,334.1 788.8,331.6 789,328.6C789.2,325.7 789.3,322.6 790.1,319.3C790.9,316 792.1,312.2 793.6,308.7C795.2,305.2 797.3,301.7 799.5,298.2C801.6,294.7 804.2,291.2 806.5,287.7C808.9,284.1 811.2,280.8 813.5,277.1C815.9,273.4 818.5,268.9 820.6,265.4C822.7,261.9 824.1,258.8 826.2,256Z"/><path class="c" d="M831.5,280.6C833.6,281.4 834.5,287.3 835.8,290C837.1,292.7 837.7,294.3 839.3,297C840.9,299.8 843,303.3 845.2,306.4C847.3,309.5 850.3,312.8 852.2,315.8C854.1,318.7 855.6,321.4 856.6,324C857.7,326.5 858.1,328.4 858.3,331C858.4,333.5 858.3,336.7 857.5,339.2C856.6,341.7 855.6,344.2 853.4,346C851.1,347.7 847.5,348.7 844,349.7C840.5,350.7 836.2,351.5 832.3,352.1C828.4,352.6 824.3,353 820.6,353.2C816.9,353.4 813.4,353.5 810,353.2C806.7,352.9 803.2,352.5 800.7,351.5C798.2,350.5 796.4,349.2 795,347.4C793.7,345.5 793.1,343.1 792.7,340.4C792.3,337.6 792.2,334.1 792.5,331C792.7,327.9 793.3,324.7 794.2,321.6C795.2,318.5 796.7,315.4 798.3,312.2C800,309.1 801.6,306 804.2,302.9C806.7,299.8 810.4,296.4 813.5,293.5C816.7,290.6 819.9,287.5 822.9,285.3C825.9,283.2 829.3,279.9 831.5,280.6Z"/><path class="c" d="M798.3,331C798.6,328.3 799.1,324.7 800.7,321.6C802.2,318.5 805.2,314.7 807.7,312.2C810.2,309.8 813.5,308.2 815.9,307C818.3,305.7 820.6,304.5 822.3,304.6C824.1,304.7 824.4,305.5 826.4,307.6C828.5,309.6 831.9,314 834.6,316.9C837.4,319.9 841.1,322.9 842.8,325.1C844.6,327.4 845.4,328.6 845.2,330.4C845,332.2 843.8,334 841.7,335.7C839.5,337.3 835.8,338.8 832.3,340.4C828.8,341.9 824.3,344 820.6,345C816.9,346.1 813,347 810,346.8C807.1,346.6 804.9,345.3 803,343.9C801.2,342.4 799.7,340.2 798.9,338C798.1,335.9 798,333.7 798.3,331Z"/><path class="c" d="M872,203C872,200.2 872.5,195.8 873.8,193.4C875.1,191 877.6,189.2 879.8,188.6C882,188 885.2,188.4 887,189.8C888.8,191.2 890,194.2 890.6,197C891.2,199.8 891.2,204 890.6,206.6C890,209.2 888.8,211.3 887,212.6C885.2,213.9 882,214.8 879.8,214.4C877.6,214 875.1,212.1 873.8,210.2C872.5,208.3 872,205.8 872,203Z"/><path class="c" d="M863,230.6C862.4,228.4 863.6,222 864.2,217.4C864.8,212.8 865.6,207.4 866.6,203C867.6,198.6 868.8,194.1 870.2,191C871.6,187.9 873,185.9 875,184.4C877,182.9 880,182 882.2,182C884.4,182 886.5,182.9 888.2,184.4C889.9,185.9 891.5,188.3 892.4,191C893.3,193.7 893.6,197.4 893.6,200.6C893.7,203.8 893.4,207.4 892.8,210.2C892.2,213 890.8,215.2 890,217.4C889.3,219.6 887.9,221.4 888.2,223.4C888.5,225.4 891.2,227.4 891.8,229.4C892.4,231.4 892.5,233.7 891.8,235.4C891.1,237.1 889,239.1 887.6,239.6C886.2,240.1 884.5,239.5 883.4,238.4C882.3,237.3 881.6,234.7 881,233C880.4,231.3 881,229 879.8,228.2C878.6,227.4 875.8,227.8 873.8,228.2C871.8,228.6 869.6,230.2 867.8,230.6C866,231 863.6,232.8 863,230.6Z"/><path class="c" d="M883.4,200.6C883.4,201 883.1,201.5 882.8,201.7C882.5,201.8 881.9,201.8 881.6,201.7C881.3,201.5 881,201 881,200.6C881,200.3 881.3,199.8 881.6,199.6C881.9,199.4 882.5,199.4 882.8,199.6C883.1,199.8 883.4,200.3 883.4,200.6Z"/><path class="c" d="M870.8,249.8C870.8,250.4 870.7,251.1 870.5,251.5C870.3,251.8 869.9,252.1 869.6,252.1C869.3,252.1 869,251.8 868.8,251.5C868.6,251.1 868.4,250.4 868.4,249.8C868.4,249.3 868.6,248.6 868.8,248.2C869,247.8 869.3,247.5 869.6,247.5C869.9,247.5 870.3,247.8 870.5,248.2C870.7,248.6 870.8,249.3 870.8,249.8Z"/><line class="dg" x1="612.6" y1="426.2" x2="994.2" y2="66"/><rect class="fr" x="612.6" y="66" width="381.6" height="360.2"/><text class="tt" x="803.4" y="23.1">SSD</text><text class="tt" x="803.4" y="57.5">r = 0.51</text><text class="tx" x="626.7" y="459.1">−2</text><text class="tx" x="807.9" y="459.1">−1</text><text class="tx" x="989.1" y="459.1">0</text><text class="ty" x="599" y="421.8">−2.0</text><text class="ty" x="599" y="336.2">−1.5</text><text class="ty" x="599" y="250.7">−1.0</text><text class="ty" x="599" y="165.2">−0.5</text><text class="ty" x="599" y="79.7">0.0</text><text class="lb" x="803.4" y="490.3">sPlotOpen plot</text><text class="lb" transform="translate(527.4,246.1) rotate(-90)">iNaturalist obs. mean</text></g>
<g><path class="c" d="M1178.8,257.9C1180.3,255.7 1185.9,252.6 1189.6,250C1193.4,247.4 1197.8,245.1 1201.4,242.2C1205,239.2 1207.9,235.3 1211.2,232.4C1214.5,229.4 1218,227.5 1221,224.5C1223.9,221.6 1226.9,218 1228.8,214.7C1230.8,211.4 1230.8,207.9 1232.8,204.9C1234.7,202 1238,199.7 1240.6,197.1C1243.2,194.5 1246.5,191.5 1248.4,189.2C1250.4,186.9 1250.7,185.3 1252.4,183.3C1254,181.4 1255,179.3 1258.3,177.5C1261.5,175.7 1267.1,173.9 1272,172.6C1276.9,171.2 1281.8,170.4 1287.7,169.6C1293.6,168.8 1300.7,168.3 1307.3,167.7C1313.8,167 1320.4,166.3 1326.9,165.7C1333.4,165 1340,164.3 1346.5,163.7C1353,163.1 1359.6,162.6 1366.1,162.2C1372.7,161.7 1379.2,161.1 1385.7,160.8C1392.3,160.5 1399.5,160.1 1405.3,160.2C1411.2,160.3 1416.5,160.8 1421,161.4C1425.6,162 1428.9,162.7 1432.8,163.7C1436.7,164.8 1441,166.3 1444.6,167.7C1448.2,169 1450.8,170.6 1454.4,171.6C1458,172.6 1461.9,173.4 1466.1,173.5C1470.4,173.7 1475.6,172.9 1479.9,172.6C1484.1,172.2 1488.5,171.2 1491.6,171.6C1494.7,171.9 1497.8,173.4 1498.5,174.5C1499.1,175.7 1498,177.3 1495.6,178.4C1493.1,179.6 1487.7,180.4 1483.8,181.4C1479.9,182.4 1475.6,183 1472,184.3C1468.4,185.6 1465.2,187.9 1462.2,189.2C1459.3,190.5 1457.3,191.2 1454.4,192.2C1451.4,193.1 1447.5,193.3 1444.6,195.1C1441.6,196.9 1439.3,200.7 1436.7,203C1434.1,205.2 1431.5,206.5 1428.9,208.8C1426.3,211.1 1422.7,214.1 1421,216.7C1419.4,219.3 1420.7,222.2 1419.1,224.5C1417.4,226.8 1414.2,228.4 1411.2,230.4C1408.3,232.4 1404.7,234.3 1401.4,236.3C1398.1,238.3 1394.2,239.6 1391.6,242.2C1389,244.8 1387.4,249 1385.7,252C1384.1,254.9 1382.6,257.2 1381.8,259.8C1381,262.4 1380.7,265.1 1380.8,267.7C1381,270.3 1382,272.9 1382.8,275.5C1383.6,278.1 1385.6,280.7 1385.7,283.4C1385.9,286 1385.7,289.1 1383.8,291.2C1381.8,293.3 1378.2,295 1374,296.1C1369.7,297.3 1363.5,297.6 1358.3,298.1C1353,298.6 1347.8,298.6 1342.6,299C1337.4,299.5 1330.8,301 1326.9,301C1323,301 1321.7,300 1319,299C1316.4,298.1 1313.8,295.9 1311.2,295.1C1308.6,294.3 1306.6,294.1 1303.4,294.1C1300.1,294.1 1296.2,294.8 1291.6,295.1C1287,295.5 1281.1,296.1 1275.9,296.1C1270.7,296.1 1265.4,295.8 1260.2,295.1C1255,294.5 1249.4,293.5 1244.5,292.2C1239.6,290.9 1235.4,289.1 1230.8,287.3C1226.2,285.5 1220.7,283.4 1217.1,281.4C1213.5,279.4 1212.2,277.5 1209.2,275.5C1206.3,273.6 1203,271.3 1199.4,269.6C1195.8,268 1190.8,266.9 1187.7,265.7C1184.5,264.6 1182.3,264.1 1180.8,262.8C1179.3,261.5 1177.4,260 1178.8,257.9Z"/><path class="c" d="M1239.6,255.9C1239.3,253.3 1239.5,251 1240.6,248.1C1241.7,245.1 1244.5,241.5 1246.5,238.3C1248.4,235 1250.4,231.7 1252.4,228.4C1254.3,225.2 1256.6,221.9 1258.3,218.6C1259.9,215.4 1261.4,211.8 1262.2,208.8C1263,205.9 1262.2,203.6 1263.2,201C1264.1,198.4 1265.9,195.8 1268.1,193.1C1270.2,190.5 1273.3,187.6 1275.9,185.3C1278.5,183 1280.5,181.1 1283.7,179.4C1287,177.8 1290.9,176.6 1295.5,175.5C1300.1,174.4 1306,173.5 1311.2,172.6C1316.4,171.6 1321,170.6 1326.9,169.6C1332.8,168.6 1340,167.5 1346.5,166.7C1353,165.9 1359.6,165.2 1366.1,164.7C1372.7,164.2 1379.2,164 1385.7,163.7C1392.3,163.5 1399.5,163.3 1405.3,163.3C1411.2,163.4 1416.8,163.4 1421,164.1C1425.3,164.8 1428.1,166.2 1430.8,167.7C1433.6,169.1 1436.4,170.6 1437.7,172.6C1439,174.5 1439.2,177 1438.7,179.4C1438.2,181.9 1436.7,185 1434.8,187.3C1432.8,189.6 1429.5,191.2 1426.9,193.1C1424.3,195.1 1421.4,196.7 1419.1,199C1416.8,201.3 1415.5,204.3 1413.2,206.9C1410.9,209.5 1408.3,212.1 1405.3,214.7C1402.4,217.3 1398.5,220.3 1395.5,222.6C1392.6,224.9 1390.6,226.2 1387.7,228.4C1384.7,230.7 1381.5,233.7 1377.9,236.3C1374.3,238.9 1370,241.8 1366.1,244.1C1362.2,246.4 1357.6,247.4 1354.3,250C1351.1,252.6 1348.5,256.9 1346.5,259.8C1344.5,262.8 1344.5,265.1 1342.6,267.7C1340.6,270.3 1338,273.7 1334.7,275.5C1331.5,277.3 1327.5,278.1 1323,278.5C1318.4,278.8 1312.5,277.8 1307.3,277.5C1302.1,277.1 1296.8,276.7 1291.6,276.5C1286.4,276.3 1281.1,276.7 1275.9,276.5C1270.7,276.3 1264.5,276 1260.2,275.5C1256,275 1252.4,274.9 1250.4,273.6C1248.4,272.2 1249.8,269.3 1248.4,267.7C1247.1,266 1244,265.7 1242.6,263.7C1241.1,261.8 1239.9,258.5 1239.6,255.9Z"/><path class="c" d="M1262.2,255.9C1261.2,253.8 1261.2,251.7 1262.2,250C1263.2,248.4 1265.6,247.4 1268.1,246.1C1270.5,244.8 1275.2,244.5 1276.9,242.2C1278.5,239.9 1277.9,235.6 1277.9,232.4C1277.9,229.1 1276.6,225.8 1276.9,222.6C1277.2,219.3 1278.7,216 1279.8,212.8C1281,209.5 1282.1,206.2 1283.7,203C1285.4,199.7 1287,196.7 1289.6,193C1292.2,189.3 1295.8,183.7 1299.4,180.5C1303,177.4 1306.6,175.8 1311.2,173.9C1315.8,172.1 1321,170.8 1326.9,169.6C1332.8,168.4 1340,167.5 1346.5,166.7C1353,166 1359.6,165.3 1366.1,164.9C1372.7,164.5 1379.2,164.4 1385.7,164.2C1392.3,164.1 1399.8,163.7 1405.3,164C1410.9,164.3 1415.1,164.9 1419.1,166.3C1423,167.6 1426.9,169.9 1428.9,172.1C1430.8,174.3 1431.5,176.9 1430.8,179.4C1430.2,181.9 1427.2,184.8 1425,187.3C1422.7,189.7 1420,191.7 1417.1,194.1C1414.2,196.6 1410.6,199.5 1407.3,202C1404,204.4 1401.1,206.4 1397.5,208.8C1393.9,211.3 1389.7,214.1 1385.7,216.7C1381.8,219.3 1377.9,221.9 1374,224.5C1370,227.1 1366.4,230.1 1362.2,232.4C1357.9,234.7 1352.7,236.3 1348.5,238.3C1344.2,240.2 1340.3,242.2 1336.7,244.1C1333.1,246.1 1329.2,247.7 1326.9,250C1324.6,252.3 1325.3,255.6 1323,257.9C1320.7,260.2 1317.4,262.4 1313.2,263.7C1308.9,265.1 1302.7,265.4 1297.5,265.7C1292.2,266 1286.7,266.2 1281.8,265.7C1276.9,265.2 1271.3,264.4 1268.1,262.8C1264.8,261.1 1263.2,258 1262.2,255.9Z"/><path class="c" d="M1289.6,214.7C1289,211.1 1290.6,208.2 1291.6,204.9C1292.6,201.6 1293.9,198.5 1295.5,195.1C1297.1,191.7 1298.8,187.6 1301.4,184.4C1304,181.3 1307,178.4 1311.2,176.2C1315.5,174 1321,172.3 1326.9,171.1C1332.8,169.8 1340,169.3 1346.5,168.7C1353,168.1 1359.6,167.6 1366.1,167.2C1372.7,166.9 1379.2,166.8 1385.7,166.6C1392.3,166.4 1400.1,166 1405.3,166.1C1410.6,166.3 1413.8,166.3 1417.1,167.5C1420.4,168.6 1423.6,170.4 1425,172.9C1426.3,175.4 1425.9,179.6 1425,182.4C1424,185.1 1421.7,186.8 1419.1,189.2C1416.5,191.7 1412.9,194.5 1409.3,197.1C1405.7,199.7 1401.4,202.3 1397.5,204.9C1393.6,207.5 1389.7,210.1 1385.7,212.8C1381.8,215.4 1377.9,218.2 1374,220.6C1370,223.1 1366.4,225.5 1362.2,227.5C1357.9,229.4 1353,230.9 1348.5,232.4C1343.9,233.8 1339.6,235.6 1334.7,236.3C1329.8,236.9 1324,236.9 1319,236.3C1314.1,235.6 1309.2,234 1305.3,232.4C1301.4,230.7 1298.1,229.4 1295.5,226.5C1292.9,223.5 1290.3,218.3 1289.6,214.7Z"/><path class="c" d="M1303.4,212.8C1302.7,209.8 1304,206.4 1305.3,203C1306.6,199.5 1308.6,196.3 1311.2,192.3C1313.8,188.2 1316.8,182.3 1321,178.8C1325.3,175.4 1330.8,172.9 1336.7,171.5C1342.6,170 1349.8,170.4 1356.3,170.1C1362.8,169.7 1369.4,169.5 1375.9,169.2C1382.5,169 1389.7,168.8 1395.5,168.6C1401.4,168.4 1407,167.4 1411.2,168C1415.5,168.6 1419.4,169.5 1421,172.1C1422.7,174.6 1422.3,180.3 1421,183.3C1419.7,186.4 1416.1,187.9 1413.2,190.2C1410.2,192.5 1407,194.6 1403.4,197.1C1399.8,199.5 1395.5,202.6 1391.6,204.9C1387.7,207.2 1384.1,208.7 1379.8,210.8C1375.6,212.9 1370.7,215.7 1366.1,217.7C1361.5,219.6 1357.3,221.3 1352.4,222.6C1347.5,223.9 1341.9,225.2 1336.7,225.5C1331.5,225.8 1325.6,225.3 1321,224.5C1316.4,223.7 1312.2,222.6 1309.2,220.6C1306.3,218.6 1304,215.7 1303.4,212.8Z"/><path class="c" d="M1313.2,208.8C1313.2,206.5 1315.1,202.6 1317.1,199C1319,195.5 1321.3,191.2 1324.9,187.6C1328.5,184 1333.1,179.8 1338.7,177.3C1344.2,174.8 1351.7,173.7 1358.3,172.7C1364.8,171.7 1371.3,171.8 1377.9,171.5C1384.4,171.2 1391.6,171.1 1397.5,170.8C1403.4,170.5 1409.9,169.5 1413.2,169.9C1416.5,170.3 1417.4,170.2 1417.1,173.2C1416.8,176.3 1414.2,184.6 1411.2,188.2C1408.3,191.9 1403.4,192.8 1399.5,195.1C1395.5,197.4 1391.9,199.7 1387.7,202C1383.4,204.3 1378.5,206.9 1374,208.8C1369.4,210.8 1365.1,212.4 1360.2,213.7C1355.3,215 1349.8,216.4 1344.5,216.7C1339.3,217 1333.4,216.4 1328.9,215.7C1324.3,215 1319.7,213.9 1317.1,212.8C1314.5,211.6 1313.2,211.1 1313.2,208.8Z"/><path class="c" d="M1323,206.9C1323.1,204.7 1324.6,201.2 1326.9,198C1329.2,194.9 1332.5,190.8 1336.7,187.7C1340.9,184.6 1346.5,181.4 1352.4,179.4C1358.3,177.5 1365.5,176.9 1372,176.1C1378.5,175.3 1385.7,174.9 1391.6,174.5C1397.5,174.1 1403.7,173.5 1407.3,173.9C1410.9,174.2 1413.5,173.6 1413.2,176.5C1412.9,179.4 1408.6,187.6 1405.3,191.2C1402.1,194.8 1397.8,195.9 1393.6,198C1389.3,200.2 1384.4,202.1 1379.8,203.9C1375.3,205.7 1370.7,207.5 1366.1,208.8C1361.5,210.1 1357.3,211.2 1352.4,211.8C1347.5,212.4 1341.1,212.5 1336.7,212.4C1332.3,212.2 1328.2,211.7 1325.9,210.8C1323.6,209.9 1322.8,209 1323,206.9Z"/><path class="c" d="M1329.8,208.1C1329.7,207 1331.6,205 1333.8,203.9C1335.9,202.8 1340.6,202.5 1342.6,201.4C1344.5,200.2 1345.5,199.3 1345.5,197.1C1345.5,194.9 1342.4,190.8 1342.6,188.1C1342.7,185.3 1343.9,182.3 1346.5,180.6C1349.1,178.9 1353.4,178.7 1358.3,178C1363.2,177.4 1370,177 1375.9,176.7C1381.8,176.4 1388.7,176.3 1393.6,176.1C1398.5,175.9 1403.1,175.2 1405.3,175.4C1407.6,175.6 1408.3,174.9 1407.3,177.2C1406.3,179.5 1402.7,186.2 1399.5,189.2C1396.2,192.2 1391.9,193.1 1387.7,195.1C1383.4,197.1 1378.5,199.4 1374,201C1369.4,202.6 1364.8,203.7 1360.2,204.9C1355.7,206.2 1350.8,207.6 1346.5,208.4C1342.3,209.3 1337.5,210.1 1334.7,210C1332,209.9 1330,209.1 1329.8,208.1Z"/><path class="c" d="M1351.4,181.8C1352.1,179.9 1354.2,179.5 1358.3,178.9C1362.4,178.4 1370.4,178.7 1375.9,178.6C1381.5,178.5 1387.9,178.4 1391.6,178.3C1395.4,178.2 1397.8,176.7 1398.5,178C1399.1,179.3 1398.3,184.3 1395.5,186.3C1392.8,188.3 1386.7,189.2 1381.8,190.2C1376.9,191.2 1370.7,192.2 1366.1,192.2C1361.5,192.2 1356.8,191.9 1354.3,190.2C1351.9,188.5 1350.8,183.7 1351.4,181.8Z"/><path class="c" d="M1278.8,255.5C1279.4,254.8 1281,253.5 1282.8,253C1284.6,252.4 1287.9,252.1 1289.6,252.4C1291.4,252.6 1293,253.6 1293.2,254.3C1293.3,255.1 1292.2,256.3 1290.6,256.9C1289,257.5 1285.6,257.8 1283.7,257.9C1281.9,257.9 1280.3,257.5 1279.4,257.1C1278.6,256.7 1278.3,256.2 1278.8,255.5Z"/><path class="c" d="M1294.5,307.9C1295.3,306.8 1297,304.8 1299.4,304C1301.9,303.1 1306.1,302.7 1309.2,302.6C1312.3,302.5 1316.3,302.8 1318.1,303.4C1319.9,303.9 1320.4,304.8 1320,305.9C1319.7,307 1318.2,308.8 1316.1,309.8C1314,310.9 1310.2,312 1307.3,312.4C1304.3,312.8 1300.5,312.7 1298.5,312.4C1296.4,312.1 1295.8,311.2 1295.1,310.4C1294.5,309.7 1293.8,309 1294.5,307.9Z"/><line class="dg" x1="1140" y1="426.2" x2="1521.6" y2="66"/><rect class="fr" x="1140" y="66" width="381.6" height="360.2"/><text class="tt" x="1330.8" y="23.1">SLA</text><text class="tt" x="1330.8" y="57.5">r = 0.5</text><text class="tx" x="1147.5" y="459.1">1</text><text class="tx" x="1265.9" y="459.1">2</text><text class="tx" x="1384.3" y="459.1">3</text><text class="tx" x="1502.7" y="459.1">4</text><text class="ty" x="1126.4" y="428.1">1</text><text class="ty" x="1126.4" y="316.3">2</text><text class="ty" x="1126.4" y="204.5">3</text><text class="ty" x="1126.4" y="92.8">4</text><text class="lb" x="1330.8" y="490.3">sPlotOpen plot</text><text class="lb" transform="translate(1098.7,246.1) rotate(-90)">iNaturalist obs. mean</text></g>
<g><path class="c" d="M1713.4,276.2C1713.9,273.8 1715.5,270.9 1718.1,268.7C1720.8,266.5 1725.6,264.9 1729.4,263.1C1733.1,261.2 1736.9,259.3 1740.6,257.4C1744.3,255.6 1747.8,253.7 1751.8,251.8C1755.9,249.9 1760.9,248.1 1765,246.2C1769,244.3 1773.2,242.8 1776.2,240.6C1779.2,238.4 1782.1,235.3 1782.8,233.1C1783.4,230.9 1782,228.7 1779.9,227.5C1777.9,226.2 1772.6,226.7 1770.6,225.6C1768.5,224.5 1767.1,222.2 1767.8,220.9C1768.4,219.7 1770.7,218.9 1774.3,218.1C1777.9,217.3 1784,217 1789.3,216.2C1794.6,215.4 1802.1,214.7 1806.2,213.4C1810.2,212.2 1811.8,211.1 1813.7,208.7C1815.5,206.4 1815.5,202.2 1817.4,199.4C1819.3,196.5 1821.2,194.2 1824.9,191.9C1828.7,189.5 1834.9,187 1839.9,185.3C1844.9,183.6 1849.9,182.3 1854.9,181.6C1859.9,180.8 1864.9,180.5 1869.9,180.6C1874.9,180.8 1881.1,182.2 1884.9,182.5C1888.6,182.8 1889.2,183 1892.4,182.5C1895.5,182 1899.8,180.3 1903.6,179.7C1907.3,179.1 1910.8,178.7 1914.8,178.7C1918.9,178.8 1923.6,179.3 1928,180.2C1932.3,181.2 1936.4,183.1 1941.1,184.4C1945.7,185.7 1951.1,187.2 1956.1,188.1C1961,189.1 1966,189.8 1971,190C1976,190.1 1981,189.2 1986,189.1C1991,188.9 1996.3,188.7 2001,189.1C2005.7,189.4 2011.2,189.7 2014.1,190.9C2017.1,192.2 2018.5,194.5 2018.8,196.5C2019.1,198.6 2018.3,201.5 2016,203.1C2013.7,204.7 2009.1,205.3 2004.8,205.9C2000.4,206.5 1994.5,206.5 1989.8,206.9C1985.1,207.2 1980.1,207.3 1976.7,207.8C1973.2,208.3 1969.8,208.9 1969.2,209.7C1968.5,210.4 1970.7,211.5 1972.9,212.5C1975.1,213.4 1980.1,213.7 1982.3,215.3C1984.5,216.8 1984.5,219.8 1986,221.8C1987.6,223.9 1989.2,225.9 1991.7,227.5C1994.1,229 1999.1,229.6 2001,231.2C2002.9,232.8 2003.5,235 2002.9,236.8C2002.3,238.7 1998.2,240.3 1997.3,242.4C1996.3,244.6 1996,247.4 1997.3,249.9C1998.5,252.4 2002.4,254.9 2004.8,257.4C2007.1,259.9 2010.5,262.4 2011.3,264.9C2012.1,267.4 2011.2,270.4 2009.4,272.4C2007.7,274.5 2004.3,275.9 2001,277.1C1997.7,278.4 1993.5,278.5 1989.8,279.9C1986,281.3 1982,283.7 1978.5,285.5C1975.1,287.4 1972,289.3 1969.2,291.2C1966.4,293 1964.5,294.9 1961.7,296.8C1958.9,298.7 1955.4,300.8 1952.3,302.4C1949.2,304 1946.7,304.6 1942.9,306.1C1939.2,307.7 1934.2,310.2 1929.8,311.8C1925.5,313.3 1921.1,314.6 1916.7,315.5C1912.3,316.5 1907.7,316.1 1903.6,317.4C1899.5,318.6 1895.8,321.4 1892.4,323C1888.9,324.6 1886.1,324.9 1883,326.8C1879.9,328.6 1876.4,331.8 1873.6,334.3C1870.8,336.7 1867.7,339.6 1866.1,341.7C1864.6,343.9 1866.1,345.8 1864.3,347.4C1862.4,348.9 1858.9,350 1854.9,351.1C1850.8,352.2 1844.9,353.6 1839.9,353.9C1834.9,354.2 1829.9,353.8 1824.9,353C1819.9,352.2 1814.3,350.5 1809.9,349.2C1805.5,348 1802.1,347.1 1798.7,345.5C1795.2,343.9 1791.7,342.4 1789.3,339.9C1787,337.4 1785.6,333.3 1784.6,330.5C1783.7,327.7 1784.5,325.5 1783.7,323C1782.9,320.5 1782.4,317.4 1779.9,315.5C1777.4,313.6 1772.1,313 1768.7,311.8C1765.3,310.5 1761.5,309.6 1759.3,308C1757.1,306.5 1755.9,304.6 1755.6,302.4C1755.3,300.2 1758.4,296.6 1757.5,294.9C1756.5,293.2 1753.7,292.7 1750,292.1C1746.2,291.5 1739.3,291.9 1735,291.2C1730.6,290.4 1727,288.8 1723.7,287.4C1720.5,286 1717,284.6 1715.3,282.7C1713.6,280.9 1713,278.5 1713.4,276.2Z"/><path class="c" d="M1768.7,274.3C1768.2,272.1 1767.8,270.2 1769.6,268.7C1771.5,267.1 1776.4,266.5 1779.9,264.9C1783.5,263.4 1788.4,261.5 1791.2,259.3C1794,257.1 1794.9,254.3 1796.8,251.8C1798.7,249.3 1800.2,247.1 1802.4,244.3C1804.6,241.5 1807.4,237.5 1809.9,235C1812.4,232.5 1813.7,231.4 1817.4,229.3C1821.2,227.3 1827.4,224.6 1832.4,222.8C1837.4,220.9 1843.6,219.8 1847.4,218.1C1851.1,216.4 1853.6,215.3 1854.9,212.5C1856.1,209.7 1853.9,203.9 1854.9,201.2C1855.8,198.6 1857.4,197.8 1860.5,196.5C1863.6,195.3 1869.2,194 1873.6,193.7C1878,193.4 1884.2,193.4 1886.7,194.7C1889.2,195.9 1887.7,199.4 1888.6,201.2C1889.5,203.1 1889.9,204.7 1892.4,205.9C1894.9,207.2 1899.2,207.8 1903.6,208.7C1908,209.7 1913.9,210.6 1918.6,211.5C1923.3,212.5 1928.3,212.9 1931.7,214.3C1935.1,215.7 1936.7,218.1 1939.2,220C1941.7,221.8 1943.9,224 1946.7,225.6C1949.5,227.1 1954.2,227.5 1956.1,229.3C1957.9,231.2 1957,234 1957.9,236.8C1958.9,239.6 1959.5,243.4 1961.7,246.2C1963.9,249 1968.2,250.9 1971,253.7C1973.9,256.5 1977.3,260.2 1978.5,263.1C1979.8,265.9 1979.8,268.4 1978.5,270.6C1977.3,272.7 1974.2,274.6 1971,276.2C1967.9,277.7 1963.9,278.4 1959.8,279.9C1955.7,281.5 1951.1,283.7 1946.7,285.5C1942.3,287.4 1937.9,289 1933.6,291.2C1929.2,293.3 1924.2,296.2 1920.5,298.7C1916.7,301.2 1914.2,304.3 1911.1,306.1C1908,308 1905.5,309 1901.7,309.9C1898,310.8 1893.3,311.1 1888.6,311.8C1883.9,312.4 1878.6,312.7 1873.6,313.6C1868.6,314.6 1863.6,316 1858.6,317.4C1853.6,318.8 1848,320.8 1843.6,322.1C1839.3,323.3 1835.5,324.7 1832.4,324.9C1829.3,325 1826.8,324.9 1824.9,323C1823,321.1 1823,316.1 1821.2,313.6C1819.3,311.1 1816.8,309.9 1813.7,308C1810.5,306.1 1806.2,304.3 1802.4,302.4C1798.7,300.5 1794.9,299 1791.2,296.8C1787.4,294.6 1783.1,291.8 1779.9,289.3C1776.8,286.8 1774.3,284.3 1772.4,281.8C1770.6,279.3 1769.2,276.5 1768.7,274.3Z"/><path class="c" d="M1790.2,272.4C1790.9,269.6 1792.9,265.9 1794.9,263.1C1797,260.2 1799.6,257.7 1802.4,255.6C1805.2,253.4 1808,251.5 1811.8,249.9C1815.5,248.4 1820.2,247.4 1824.9,246.2C1829.6,244.9 1835.8,244 1839.9,242.4C1844,240.9 1845.5,238.4 1849.3,236.8C1853,235.3 1857.7,234.1 1862.4,233.1C1867.1,232.1 1872.4,231.3 1877.4,230.8C1882.4,230.4 1888,230.1 1892.4,230.3C1896.7,230.5 1900.6,231 1903.6,232.1C1906.6,233.2 1908.6,235.1 1910.2,236.8C1911.7,238.5 1910.9,240.9 1913,242.4C1915,244 1918.6,244.9 1922.3,246.2C1926.1,247.4 1931.1,248.7 1935.4,249.9C1939.8,251.2 1944.8,252.3 1948.6,253.7C1952.3,255.1 1955.3,256.5 1957.9,258.4C1960.6,260.2 1963.5,262.6 1964.5,264.9C1965.4,267.3 1965,270.4 1963.5,272.4C1962.1,274.5 1959.2,275.7 1956.1,277.1C1952.9,278.5 1948.9,279.4 1944.8,280.9C1940.8,282.3 1936.1,283.7 1931.7,285.5C1927.3,287.4 1923,289.9 1918.6,292.1C1914.2,294.3 1909.8,296.8 1905.5,298.7C1901.1,300.5 1896.4,302.2 1892.4,303.3C1888.3,304.4 1884.9,304.1 1881.1,305.2C1877.4,306.3 1874.2,308.5 1869.9,309.9C1865.5,311.3 1859.3,313.2 1854.9,313.6C1850.5,314.1 1847.4,313.5 1843.6,312.7C1839.9,311.9 1835.5,310.1 1832.4,309C1829.3,307.9 1827.7,307.6 1824.9,306.1C1822.1,304.7 1819,302.4 1815.5,300.5C1812.1,298.7 1807.7,297.1 1804.3,294.9C1800.9,292.7 1797.1,289.9 1794.9,287.4C1792.7,284.9 1792,282.4 1791.2,279.9C1790.4,277.4 1789.6,275.2 1790.2,272.4Z"/><path class="c" d="M1802.4,273.4C1802,270.1 1801.5,266.3 1803.4,263.1C1805.2,259.8 1809.4,256.3 1813.7,253.7C1817.9,251 1823,248.8 1828.7,247.1C1834.3,245.4 1841.1,244.2 1847.4,243.4C1853.6,242.6 1859.9,242.6 1866.1,242.4C1872.4,242.3 1878.6,242.2 1884.9,242.4C1891.1,242.7 1897.3,243.2 1903.6,243.9C1909.8,244.7 1916.7,246 1922.3,247.1C1928,248.3 1932.9,249.5 1937.3,250.9C1941.7,252.3 1945.7,253.5 1948.6,255.6C1951.4,257.6 1953.4,260.4 1954.2,263.1C1955,265.7 1954.8,269.1 1953.2,271.5C1951.7,273.8 1948.4,275.5 1944.8,277.1C1941.2,278.7 1936.4,279.4 1931.7,280.9C1927,282.3 1921.7,283.8 1916.7,285.5C1911.7,287.3 1906.7,289.3 1901.7,291.2C1896.7,293 1892,295.2 1886.7,296.8C1881.4,298.3 1875.5,299.7 1869.9,300.5C1864.3,301.3 1858.3,301.6 1853,301.5C1847.7,301.3 1842.7,300.5 1838,299.6C1833.3,298.7 1829,297.4 1824.9,295.8C1820.8,294.3 1816.8,292.4 1813.7,290.2C1810.5,288 1808,285.5 1806.2,282.7C1804.3,279.9 1802.9,276.6 1802.4,273.4Z"/><path class="c" d="M1809,273.4C1809,270.6 1808.8,266 1810.9,263.1C1812.9,260.1 1816.9,257.7 1821.2,255.6C1825.4,253.4 1830.5,251.3 1836.1,249.9C1841.8,248.5 1848.6,247.8 1854.9,247.1C1861.1,246.4 1867.4,246 1873.6,245.8C1879.9,245.7 1886.1,245.8 1892.4,246.2C1898.6,246.6 1905.2,247.5 1911.1,248.4C1917,249.4 1923.3,250.3 1928,251.8C1932.6,253.3 1936.5,255.2 1939.2,257.4C1941.8,259.6 1943.6,262.4 1943.9,264.9C1944.2,267.4 1943.4,270.4 1941.1,272.4C1938.7,274.5 1934.2,275.7 1929.8,277.1C1925.5,278.5 1919.8,279.4 1914.8,280.9C1909.8,282.3 1904.8,284 1899.8,285.5C1894.9,287.1 1890.2,288.7 1884.9,290.2C1879.6,291.8 1873.6,293.8 1868,294.9C1862.4,296 1856.4,296.6 1851.1,296.8C1845.8,296.9 1840.5,296.6 1836.1,295.8C1831.8,295.1 1828.3,293.7 1824.9,292.1C1821.5,290.5 1817.9,288.5 1815.5,286.5C1813.2,284.4 1811.9,282.1 1810.9,279.9C1809.8,277.7 1809,276.2 1809,273.4Z"/><path class="c" d="M1814.6,272.4C1814.8,269.8 1815.1,265.7 1817.4,263.1C1819.8,260.4 1824.3,258.4 1828.7,256.5C1833,254.6 1838,252.9 1843.6,251.8C1849.3,250.7 1856.1,250.2 1862.4,249.9C1868.6,249.7 1874.9,249.8 1881.1,250.3C1887.4,250.8 1894.2,251.6 1899.8,252.8C1905.5,253.9 1910.8,255.6 1914.8,257.4C1918.9,259.3 1922.8,261.7 1924.2,264C1925.6,266.3 1925.1,269.5 1923.3,271.5C1921.4,273.5 1917.2,274.8 1913,276.2C1908.7,277.6 1903,278.7 1898,279.9C1893,281.1 1888.3,282.2 1883,283.3C1877.7,284.4 1871.7,285.6 1866.1,286.5C1860.5,287.3 1854.6,288.2 1849.3,288.3C1844,288.5 1839,288.2 1834.3,287.4C1829.6,286.6 1824.1,285.1 1821.2,283.7C1818.2,282.3 1817.6,280.9 1816.5,279C1815.4,277.1 1814.4,275.1 1814.6,272.4Z"/><path class="c" d="M1821.2,272.4C1821,269.9 1822.4,265.6 1824.9,263.1C1827.4,260.6 1831.8,259 1836.1,257.4C1840.5,255.9 1845.8,254.5 1851.1,253.7C1856.4,252.8 1862.4,252.4 1868,252.4C1873.6,252.4 1879.2,252.8 1884.9,253.7C1890.5,254.5 1897.3,255.7 1901.7,257.4C1906.1,259.2 1909.8,261.8 1911.1,264C1912.3,266.2 1911.4,268.8 1909.2,270.6C1907,272.3 1902.3,273.2 1898,274.3C1893.6,275.4 1888.3,276.2 1883,277.1C1877.7,278 1871.4,279.1 1866.1,279.9C1860.8,280.7 1856.1,281.5 1851.1,281.8C1846.1,282 1840.4,282 1836.1,281.4C1831.9,280.8 1828.3,279.5 1825.8,278C1823.3,276.5 1821.3,274.9 1821.2,272.4Z"/><path class="c" d="M1827.7,272.4C1827.9,270.6 1829.1,266.3 1831.5,264C1833.8,261.7 1837.9,259.8 1841.8,258.4C1845.7,257 1850.2,256 1854.9,255.6C1859.6,255.1 1865.2,254.9 1869.9,255.6C1874.6,256.2 1879.4,257.7 1883,259.3C1886.6,260.9 1890.2,263.1 1891.4,264.9C1892.7,266.8 1892.2,269.1 1890.5,270.6C1888.8,272 1885.2,273 1881.1,273.9C1877.1,274.9 1871.1,275.5 1866.1,276.2C1861.1,276.8 1855.8,277.5 1851.1,277.7C1846.5,277.8 1841.5,277.5 1838,277.1C1834.6,276.7 1832.2,276 1830.5,275.2C1828.8,274.5 1827.6,274.3 1827.7,272.4Z"/><path class="c" d="M1834.3,271.5C1834.6,270.1 1835.8,266.8 1838,264.9C1840.2,263.1 1843.6,261.2 1847.4,260.2C1851.1,259.2 1856.6,258.7 1860.5,258.9C1864.4,259.2 1868.3,260.1 1870.8,261.6C1873.3,263 1875.5,265.9 1875.5,267.7C1875.5,269.6 1873.6,271.3 1870.8,272.4C1868,273.6 1863.2,274.3 1858.6,274.7C1854.1,275.1 1847.4,275.1 1843.6,274.9C1839.9,274.6 1837.7,273.9 1836.1,273.4C1834.6,272.8 1834,272.9 1834.3,271.5Z"/><path class="c" d="M1818.7,398.5C1818.7,398.7 1818.3,399 1817.8,399.1C1817.3,399.3 1816.3,399.4 1815.5,399.4C1814.8,399.4 1813.8,399.3 1813.3,399.1C1812.7,399 1812.3,398.7 1812.3,398.5C1812.3,398.3 1812.7,398 1813.3,397.9C1813.8,397.7 1814.8,397.6 1815.5,397.6C1816.3,397.6 1817.3,397.7 1817.8,397.9C1818.3,398 1818.7,398.3 1818.7,398.5Z"/><line class="dg" x1="1667.5" y1="426.2" x2="2049.1" y2="66"/><rect class="fr" x="1667.5" y="66" width="381.6" height="360.2"/><text class="tt" x="1858.3" y="23.1">Leaf C</text><text class="tt" x="1858.3" y="57.5">r = 0.25</text><text class="tx" x="1734.5" y="459.1">6.0</text><text class="tx" x="1837.7" y="459.1">6.1</text><text class="tx" x="1940.8" y="459.1">6.2</text><text class="tx" x="2043.9" y="459.1">6.3</text><text class="ty" x="1653.9" y="371.8">6.0</text><text class="ty" x="1653.9" y="274.5">6.1</text><text class="ty" x="1653.9" y="177.1">6.2</text><text class="ty" x="1653.9" y="79.8">6.3</text><text class="lb" x="1858.3" y="490.3">sPlotOpen plot</text><text class="lb" transform="translate(1602.8,246.1) rotate(-90)">iNaturalist obs. mean</text></g>
<g><path class="c" d="M153,710.6C154.1,709 158.6,707.2 163.6,705.7C168.6,704.3 176.5,703 183,701.9C189.4,700.8 195.8,699.9 202.3,699C208.7,698 215.2,697 221.6,696.1C228,695.1 234.5,694.3 240.9,693.2C247.4,692.1 253.8,690.9 260.2,689.3C266.7,687.7 273.1,684.7 279.6,683.5C286,682.4 292.4,682.6 298.9,682.6C305.3,682.6 311.8,682.7 318.2,683.5C324.6,684.3 331.1,686.1 337.5,687.4C344,688.7 350.4,690.1 356.8,691.3C363.3,692.4 369.7,693.3 376.2,694.1C382.6,695 389,695 395.5,696.1C401.9,697.2 408.4,699.1 414.8,700.9C421.2,702.7 429.3,704.9 434.1,706.7C438.9,708.5 442.5,710.1 443.8,711.5C445.1,713 444.1,714.3 441.8,715.4C439.6,716.5 434.8,717.3 430.3,718.3C425.7,719.3 419.3,720.1 414.8,721.2C410.3,722.3 406.4,723.3 403.2,725.1C400,726.8 397.7,729.4 395.5,731.8C393.2,734.2 391.6,737 389.7,739.6C387.8,742.1 386.1,744.7 383.9,747.3C381.6,749.9 378.7,752.4 376.2,755C373.6,757.6 371,760.5 368.4,762.7C365.9,765 364.2,766.6 360.7,768.5C357.2,770.5 351.7,772.4 347.2,774.3C342.7,776.3 338.5,778.2 333.7,780.1C328.8,782.1 323,784 318.2,785.9C313.4,787.9 308.9,789.8 304.7,791.7C300.5,793.6 296,795.3 293.1,797.5C290.2,799.8 289.2,802.7 287.3,805.2C285.4,807.8 283.4,810.4 281.5,813C279.6,815.5 278.6,818.4 275.7,820.7C272.8,822.9 268.6,824.9 264.1,826.5C259.6,828.1 253.8,829.4 248.6,830.4C243.5,831.3 238.3,831.8 233.2,832.3C228,832.8 222.9,832.9 217.7,833.3C212.6,833.6 207.4,833.9 202.3,834.2C197.1,834.5 192,835.2 186.8,835.2C181.7,835.2 176.5,834.7 171.4,834.2C166.2,833.7 160.4,833.4 155.9,832.3C151.4,831.2 147.2,829.4 144.3,827.5C141.4,825.5 139.2,823.1 138.5,820.7C137.9,818.3 139.5,815.5 140.5,813C141.4,810.4 142.5,807.7 144.3,805.2C146.1,802.8 150.8,800.4 151.1,798.5C151.4,796.5 147.5,795.7 146.3,793.6C145,791.6 144.3,788.5 143.4,785.9C142.4,783.3 141.9,780.4 140.5,778.2C139,775.9 135.3,775 134.7,772.4C134,769.8 135.5,765.6 136.6,762.7C137.7,759.8 140.1,757.6 141.4,755C142.7,752.4 143.2,749.9 144.3,747.3C145.4,744.7 146.9,742.1 148.2,739.6C149.5,737 150.9,734.1 152,731.8C153.2,729.6 153.8,728 154.9,726C156.1,724.1 158.5,722 158.8,720.2C159.1,718.5 157.8,717 156.9,715.4C155.9,713.8 151.9,712.2 153,710.6Z"/><path class="c" d="M165.6,770.5C164.6,767.4 166.5,762.7 167.5,758.9C168.5,755 170.1,750.8 171.4,747.3C172.7,743.7 173.6,740.8 175.2,737.6C176.8,734.4 178.8,730.9 181,728C183.3,725.1 185.9,722.8 188.8,720.2C191.7,717.7 194.6,714.6 198.4,712.5C202.3,710.4 206.5,709.1 211.9,707.7C217.4,706.2 224.8,704.9 231.3,703.8C237.7,702.7 244.1,701.9 250.6,700.9C257,699.9 263.5,698.8 269.9,698C276.3,697.2 282.8,696.6 289.2,696.1C295.7,695.6 302.1,695.2 308.5,695.1C315,695 321.4,695.2 327.9,695.5C334.3,695.8 340.7,696.3 347.2,697C353.6,697.8 360.7,698.8 366.5,699.9C372.3,701.1 378.3,702 382,703.8C385.7,705.6 388.4,708.2 388.7,710.6C389,713 386,715.7 383.9,718.3C381.8,720.9 378.4,723.5 376.2,726C373.9,728.6 372,730.9 370.4,733.8C368.8,736.7 367.8,740.2 366.5,743.4C365.2,746.6 364.2,749.9 362.6,753.1C361,756.3 359.4,760.2 356.8,762.7C354.3,765.3 351,766.9 347.2,768.5C343.3,770.1 338.5,770.8 333.7,772.4C328.8,774 324,776.3 318.2,778.2C312.4,780.1 305.3,782.5 298.9,784C292.4,785.4 286,786.2 279.6,786.9C273.1,787.5 266.7,787.5 260.2,787.9C253.8,788.2 247.4,788.7 240.9,788.8C234.5,789 228,789.3 221.6,788.8C215.2,788.3 208.1,787 202.3,785.9C196.5,784.8 191.7,783.5 186.8,782.1C182,780.6 176.8,779.2 173.3,777.2C169.8,775.3 166.5,773.5 165.6,770.5Z"/><path class="c" d="M190.7,768.5C188.9,766.6 191.2,760.5 191.7,756.9C192.1,753.4 192.8,750.5 193.6,747.3C194.4,744.1 195.7,740.8 196.5,737.6C197.3,734.4 196.8,731.2 198.4,728C200,724.7 202.9,721 206.1,718.3C209.4,715.6 213.2,713.3 217.7,711.5C222.2,709.8 227.7,708.8 233.2,707.7C238.7,706.5 244.5,705.6 250.6,704.8C256.7,703.9 263.5,703.1 269.9,702.5C276.3,701.8 282.8,701.3 289.2,700.9C295.7,700.6 302.1,700.4 308.5,700.3C315,700.3 321.4,700.3 327.9,700.5C334.3,700.8 341.7,701.2 347.2,701.9C352.7,702.6 356.8,703.6 360.7,704.8C364.6,705.9 368.1,707 370.4,708.6C372.6,710.2 374.2,712.2 374.2,714.4C374.2,716.7 372,719.9 370.4,722.2C368.8,724.4 366.2,725.7 364.6,728C363,730.2 362,733.1 360.7,735.7C359.4,738.3 358.8,740.8 356.8,743.4C354.9,746 352,748.9 349.1,751.1C346.2,753.4 343,755.3 339.5,756.9C335.9,758.5 332.4,759.5 327.9,760.8C323.4,762.1 317.9,763.4 312.4,764.7C306.9,766 301.1,767.6 295,768.5C288.9,769.5 282.1,770 275.7,770.5C269.3,770.9 262.8,771.3 256.4,771.4C249.9,771.6 243.5,771.6 237.1,771.4C230.6,771.3 223.5,770.9 217.7,770.5C211.9,770 206.8,768.9 202.3,768.5C197.8,768.2 192.5,770.5 190.7,768.5Z"/><path class="c" d="M210,749.2C209.4,747.1 211.3,742.8 211.9,739.6C212.6,736.3 212.6,733.1 213.9,729.9C215.2,726.7 217.1,722.8 219.7,720.2C222.2,717.7 225.1,716.2 229.3,714.4C233.5,712.7 239.6,710.9 244.8,709.6C249.9,708.3 254.4,707.5 260.2,706.7C266,705.9 273.1,705.3 279.6,704.8C286,704.3 292.4,704 298.9,703.8C305.3,703.6 311.8,703.7 318.2,703.8C324.6,703.9 331.7,703.9 337.5,704.4C343.3,704.9 348.8,705.7 353,706.7C357.2,707.7 361,709 362.6,710.6C364.2,712.2 363.6,714.4 362.6,716.4C361.7,718.3 358.8,719.9 356.8,722.2C354.9,724.4 353,727.3 351,729.9C349.1,732.5 347.5,735 345.2,737.6C343,740.2 340.4,743.1 337.5,745.3C334.6,747.6 331.7,749.5 327.9,751.1C324,752.8 319.2,753.9 314.3,755C309.5,756.1 304.4,757.1 298.9,757.9C293.4,758.7 287.3,759.5 281.5,759.8C275.7,760.2 269.9,760 264.1,759.8C258.3,759.7 252.5,759.7 246.7,758.9C240.9,758.1 234.5,756.1 229.3,755C224.2,753.9 219,753.1 215.8,752.1C212.6,751.1 210.7,751.3 210,749.2Z"/><path class="c" d="M230.3,744.4C230,742.3 230.8,737.1 231.3,733.8C231.7,730.4 231.6,727 233.2,724.1C234.8,721.2 237.1,718.5 240.9,716.4C244.8,714.3 250.6,712.8 256.4,711.5C262.2,710.2 269.3,709.4 275.7,708.6C282.1,707.9 288.6,707.4 295,707.1C301.5,706.8 307.9,706.7 314.3,706.7C320.8,706.7 327.9,706.8 333.7,707.1C339.5,707.4 345.2,707.7 349.1,708.6C353,709.5 356.2,710.9 356.8,712.5C357.5,714.1 354.6,716.2 353,718.3C351.4,720.4 349.1,722.6 347.2,725.1C345.2,727.5 343.6,730.4 341.4,732.8C339.1,735.2 336.9,737.6 333.7,739.6C330.4,741.5 326.2,743.1 322.1,744.4C317.9,745.7 313.4,746.5 308.5,747.3C303.7,748.1 298.6,748.7 293.1,749.2C287.6,749.7 281.5,750.2 275.7,750.2C269.9,750.2 263.8,749.7 258.3,749.2C252.8,748.7 247,747.8 242.9,747.3C238.7,746.8 235.3,746.8 233.2,746.3C231.1,745.8 230.6,746.5 230.3,744.4Z"/><path class="c" d="M242.9,738.6C241.9,736.5 243.5,731.2 244.8,728C246.1,724.7 247.7,721.7 250.6,719.3C253.5,716.9 257.3,714.9 262.2,713.5C267,712 273.4,711.3 279.6,710.6C285.7,709.8 292.4,709.3 298.9,709C305.3,708.7 311.8,708.5 318.2,708.6C324.6,708.7 332.4,709.1 337.5,709.6C342.7,710.1 347.5,710.2 349.1,711.5C350.7,712.8 348.5,715.2 347.2,717.3C345.9,719.4 343.6,721.7 341.4,724.1C339.1,726.5 336.6,729.7 333.7,731.8C330.8,733.9 327.9,735.2 324,736.7C320.1,738.1 315.3,739.6 310.5,740.5C305.6,741.5 300.2,742 295,742.4C289.9,742.9 284.7,743.2 279.6,743C274.4,742.9 268.9,741.9 264.1,741.5C259.3,741.1 254.1,741 250.6,740.5C247,740 243.8,740.7 242.9,738.6Z"/><path class="c" d="M261.2,733.8C260.9,732 261.7,728.6 262.2,726C262.7,723.5 262.2,720.4 264.1,718.3C266,716.2 269.3,714.7 273.8,713.5C278.3,712.2 285,711.5 291.2,711C297.3,710.4 304,710.2 310.5,710.2C316.9,710.1 324.3,710.1 329.8,710.6C335.3,711 341.4,711.6 343.3,712.9C345.2,714.2 342.7,716.3 341.4,718.3C340.1,720.3 338.2,723 335.6,725.1C333,727.2 329.5,729.1 325.9,730.9C322.4,732.6 318.5,734.5 314.3,735.7C310.1,736.9 305.6,737.5 300.8,738C296,738.5 290.2,738.7 285.4,738.6C280.5,738.5 275.4,737.9 271.8,737.6C268.3,737.3 265.9,737.3 264.1,736.7C262.3,736 261.5,735.5 261.2,733.8Z"/><path class="c" d="M279.6,737.6C279.2,736.2 278.6,733.4 279.6,731.8C280.5,730.2 284.7,729.6 285.4,728C286,726.3 285,723.6 283.4,722.2C281.8,720.7 276.7,720.4 275.7,719.3C274.7,718.1 275.1,716.6 277.6,715.4C280.2,714.2 285.7,712.9 291.2,712.1C296.6,711.4 304,711.1 310.5,711C316.9,710.9 325,711.1 329.8,711.5C334.6,712 338.8,712 339.5,713.5C340.1,714.9 336.2,718 333.7,720.2C331.1,722.5 327.5,724.9 324,727C320.5,729.1 316.6,731.2 312.4,732.8C308.2,734.4 303.1,735.3 298.9,736.7C294.7,738 290.2,740.5 287.3,741.1C284.4,741.7 282.8,741.1 281.5,740.5C280.2,739.9 279.9,739.1 279.6,737.6Z"/><path class="c" d="M272.8,717.3C273.8,716.3 275.2,714.6 279.6,713.5C283.9,712.3 292.4,711.1 298.9,710.6C305.3,710.1 313.4,710.1 318.2,710.6C323,711.1 326.6,712.2 327.9,713.5C329.1,714.8 328.2,717 325.9,718.3C323.7,719.6 318.8,720.5 314.3,721.2C309.8,721.9 304.4,722.4 298.9,722.6C293.4,722.7 285.7,722.6 281.5,722.2C277.3,721.7 275.2,720.7 273.8,719.8C272.3,719 271.8,718.4 272.8,717.3Z"/><path class="c" d="M296.9,850.6C297.4,849.5 298.6,847.3 300.8,845.8C303.1,844.4 307.9,842.6 310.5,841.9C313,841.3 315.1,841.5 316.3,841.9C317.4,842.4 317.9,843.7 317.2,844.8C316.6,846 314.8,847.4 312.4,848.7C310,850 305.2,851.9 302.7,852.6C300.3,853.2 298.9,852.9 297.9,852.6C296.9,852.3 296.5,851.8 296.9,850.6Z"/><line class="dg" x1="85.1" y1="955.3" x2="466.7" y2="595.1"/><rect class="fr" x="85.1" y="595.1" width="381.6" height="360.2"/><text class="tt" x="275.9" y="552.2">Leaf N per mass</text><text class="tt" x="275.9" y="586.6">r = 0.39</text><text class="tx" x="178.5" y="988.2">2.5</text><text class="tx" x="292.4" y="988.2">3.0</text><text class="tx" x="406.3" y="988.2">3.5</text><text class="ty" x="71.5" y="876.1">2.5</text><text class="ty" x="71.5" y="768.6">3.0</text><text class="ty" x="71.5" y="661">3.5</text><text class="lb" x="275.9" y="1019.4">sPlotOpen plot</text><text class="lb" transform="translate(20.4,775.2) rotate(-90)">iNaturalist obs. mean</text></g>
<g><path class="c" d="M685.6,710.4C687.5,707.9 690.6,707.1 695,705.7C699.3,704.3 705.9,703.2 711.8,702C717.8,700.7 724.3,699.6 730.6,698.2C736.8,696.8 743.1,695 749.3,693.5C755.6,692.1 761.8,690.9 768,689.8C774.3,688.7 780.5,687.8 786.8,687C793,686.2 799.3,685.7 805.5,685.1C811.8,684.6 817.7,684.1 824.3,683.6C830.8,683.1 838.6,682.4 844.9,682.3C851.1,682.2 855.8,682.6 861.7,682.9C867.7,683.1 874.2,683.1 880.5,683.6C886.7,684.1 892.9,685 899.2,686.1C905.4,687.1 911.7,688.5 917.9,689.8C924.2,691 930.4,692.1 936.7,693.5C942.9,695 949.5,696.8 955.4,698.2C961.3,699.6 969.1,700.7 972.3,702C975.4,703.2 975.4,703.9 974.1,705.7C972.9,707.6 968.2,710.7 964.8,713.2C961.3,715.7 957,718.2 953.5,720.7C950.1,723.2 947,725.4 944.2,728.2C941.3,731 939.2,734.5 936.7,737.6C934.2,740.7 931.4,744.1 929.2,746.9C927,749.8 925.7,751.9 923.5,754.4C921.4,756.9 918.6,759.4 916.1,761.9C913.6,764.4 911.1,766.9 908.6,769.4C906.1,771.9 903.6,774.4 901.1,776.9C898.6,779.4 895.8,781.9 893.6,784.4C891.4,786.9 890.4,789.7 888,791.9C885.5,794.1 882.6,796 878.6,797.5C874.5,799.1 868,800 863.6,801.3C859.2,802.5 854.5,803.5 852.4,805C850.2,806.6 850.8,808.8 850.5,810.6C850.2,812.5 852,814.7 850.5,816.3C848.9,817.8 844.9,818.8 841.1,820C837.4,821.3 833,822.2 828,823.8C823,825.3 816.4,827.5 811.1,829.4C805.8,831.3 801.8,833.4 796.1,835C790.5,836.6 783.7,837.8 777.4,838.7C771.2,839.7 764.9,840.1 758.7,840.6C752.4,841.1 746.2,841.2 739.9,841.6C733.7,841.9 727.5,842.2 721.2,842.5C715,842.8 707.5,843.6 702.5,843.4C697.5,843.3 693.6,843.3 691.2,841.6C688.9,839.8 688.4,836.1 688.4,833.1C688.4,830.2 689.8,826.6 691.2,823.8C692.6,820.9 696.1,818.8 696.9,816.3C697.6,813.8 697.8,811 695.9,808.8C694,806.6 689.2,804.7 685.6,803.1C682,801.6 676.4,801 674.4,799.4C672.3,797.8 672.2,795.7 673.4,793.8C674.7,791.9 679.7,790 681.9,788.2C684,786.3 686.2,785 686.5,782.5C686.9,780 685.5,775.7 683.7,773.2C682,770.7 677.6,769.7 676.2,767.6C674.8,765.4 674.4,762.2 675.3,760.1C676.2,757.9 680.6,756.6 681.9,754.4C683.1,752.2 683.4,749.4 682.8,746.9C682.2,744.4 679.5,741.9 678.1,739.4C676.7,736.9 674.4,734.1 674.4,732C674.4,729.8 676.6,728.2 678.1,726.3C679.7,724.5 682.5,723.4 683.7,720.7C685,718.1 683.7,712.9 685.6,710.4Z"/><path class="c" d="M707.2,769.4C707.2,766.9 708.2,764.1 710,761.9C711.7,759.7 715.3,758.8 717.5,756.3C719.6,753.8 722.5,750.1 723.1,746.9C723.7,743.8 720.6,740.7 721.2,737.6C721.8,734.5 725.3,731.3 726.8,728.2C728.4,725.1 729,721.8 730.6,718.8C732.1,715.9 733.1,712.7 736.2,710.4C739.3,708.1 744,706.5 749.3,704.8C754.6,703.1 761.8,701.5 768,700.1C774.3,698.7 780.5,697.4 786.8,696.4C793,695.4 799.3,694.7 805.5,694.1C811.8,693.5 818,693 824.3,692.6C830.5,692.2 836.7,691.7 843,691.7C849.2,691.6 855.5,691.9 861.7,692.2C868,692.5 874.2,692.9 880.5,693.5C886.7,694.2 892.9,695 899.2,696.4C905.4,697.8 913.2,700.1 917.9,702C922.6,703.9 925.7,705.4 927.3,707.6C928.9,709.8 928.5,712.6 927.3,715.1C926,717.6 922.3,720.1 919.8,722.6C917.3,725.1 915.1,727.6 912.3,730.1C909.5,732.6 906.1,735.1 902.9,737.6C899.8,740.1 896.4,742.6 893.6,745.1C890.8,747.6 888.6,750.1 886.1,752.6C883.6,755.1 881.1,757.6 878.6,760.1C876.1,762.6 873.6,765.4 871.1,767.6C868.6,769.7 866.7,771.3 863.6,773.2C860.5,775 857.3,776.6 852.4,778.8C847.4,781 839.9,783.8 833.6,786.3C827.4,788.8 821.1,791.3 814.9,793.8C808.6,796.3 802.4,799.2 796.1,801.3C789.9,803.3 783.7,804.7 777.4,806C771.2,807.2 764.9,808.3 758.7,808.8C752.4,809.2 744.9,809.4 739.9,808.8C734.9,808.1 731.2,807.2 728.7,805C726.2,802.8 725.9,798.5 725,795.7C724,792.8 724.3,790.3 723.1,788.2C721.8,786 719.6,784.4 717.5,782.5C715.3,780.7 711.7,779.1 710,776.9C708.2,774.7 707.2,771.9 707.2,769.4Z"/><path class="c" d="M727.8,770.4C727.8,767.7 728.5,763.3 730.6,760.1C732.6,756.8 738.1,753.8 739.9,750.7C741.8,747.6 741.8,744.4 741.8,741.3C741.8,738.2 739.6,735.1 739.9,732C740.3,728.8 741.8,725.7 743.7,722.6C745.6,719.5 748.1,715.9 751.2,713.2C754.3,710.6 757.4,708.5 762.4,706.7C767.4,704.8 774.9,703.4 781.2,702C787.4,700.6 793.6,699.2 799.9,698.2C806.1,697.2 812.4,696.5 818.6,696C824.9,695.4 831.1,695 837.4,694.9C843.6,694.7 849.9,694.7 856.1,694.9C862.3,695 868.6,695.3 874.8,696C881.1,696.7 888.3,697.9 893.6,699.2C898.9,700.5 903.9,702 906.7,703.9C909.5,705.7 910.4,708.1 910.4,710.4C910.4,712.7 908.6,715.4 906.7,717.9C904.8,720.4 902,722.7 899.2,725.4C896.4,728 892.6,731.2 889.8,733.8C887,736.5 885.1,738.8 882.3,741.3C879.5,743.8 876.1,746.3 873,748.8C869.8,751.3 867,754.1 863.6,756.3C860.2,758.5 856.7,760.1 852.4,761.9C848,763.8 842.4,766 837.4,767.6C832.4,769.1 827.4,770 822.4,771.3C817.4,772.5 812.4,773.5 807.4,775C802.4,776.6 797.4,778.9 792.4,780.7C787.4,782.4 782.1,784.6 777.4,785.3C772.7,786.1 768.4,785.8 764.3,785.3C760.2,784.9 757.1,783.5 753.1,782.5C749,781.6 743.7,780.8 739.9,779.7C736.2,778.6 732.6,777.5 730.6,776C728.5,774.4 727.8,773 727.8,770.4Z"/><path class="c" d="M745.6,768.5C744.6,766.6 745.6,762.7 747.4,760.1C749.3,757.4 754.9,755.4 756.8,752.6C758.7,749.8 758.7,746.3 758.7,743.2C758.7,740.1 756.5,736.9 756.8,733.8C757.1,730.7 758.4,727.6 760.6,724.5C762.7,721.3 765.9,717.9 769.9,715.1C774,712.3 779.3,709.6 784.9,707.6C790.5,705.6 797.4,704.2 803.6,702.9C809.9,701.7 816.1,700.7 822.4,700.1C828.6,699.5 834.9,699.3 841.1,699.2C847.4,699 853.6,698.9 859.8,699.2C866.1,699.4 873,699.7 878.6,700.5C884.2,701.3 890,702.4 893.6,703.9C897.2,705.3 899.5,707.3 900.1,709.5C900.8,711.7 899,714.5 897.3,717C895.6,719.5 892.3,722 889.8,724.5C887.3,727 884.8,729.5 882.3,732C879.8,734.5 877.6,736.9 874.8,739.4C872,741.9 868.9,744.8 865.5,746.9C862,749.1 858.3,750.8 854.2,752.6C850.2,754.3 845.8,755.8 841.1,757.2C836.4,758.7 831.1,759.7 826.1,761C821.1,762.2 816.1,763.5 811.1,764.7C806.1,766 801.1,767.6 796.1,768.5C791.2,769.4 786.2,769.9 781.2,770.4C776.2,770.8 770.9,771.1 766.2,771.3C761.5,771.5 756.5,771.8 753.1,771.3C749.6,770.8 746.5,770.4 745.6,768.5Z"/><path class="c" d="M772.7,746C772.1,743.5 772.9,739 773.7,735.7C774.4,732.4 775.2,729.5 777.4,726.3C779.6,723.2 783,719.6 786.8,717C790.5,714.3 794.9,712.3 799.9,710.4C804.9,708.5 810.8,707 816.8,705.7C822.7,704.5 829.2,703.5 835.5,702.9C841.7,702.4 848,702.3 854.2,702.4C860.5,702.4 867.3,702.8 873,703.5C878.6,704.2 884.7,705.2 888,706.7C891.2,708.1 892.6,710.3 892.6,712.3C892.6,714.3 890.3,716.5 888,718.8C885.6,721.2 881.7,723.8 878.6,726.3C875.5,728.8 872.3,731.3 869.2,733.8C866.1,736.3 863.3,739.1 859.8,741.3C856.4,743.5 853,745.4 848.6,746.9C844.2,748.5 838.6,749.6 833.6,750.7C828.6,751.8 823.6,752.9 818.6,753.5C813.6,754.1 808.6,754.3 803.6,754.4C798.6,754.6 793,755.1 788.7,754.4C784.3,753.8 780.1,752.1 777.4,750.7C774.8,749.3 773.4,748.5 772.7,746Z"/><path class="c" d="M787.7,739.4C787.1,737.6 787.9,734.5 788.7,732C789.4,729.5 790.2,727 792.4,724.5C794.6,722 798,719.2 801.8,717C805.5,714.8 809.9,712.9 814.9,711.3C819.9,709.8 825.8,708.5 831.7,707.6C837.7,706.7 844.2,706.3 850.5,706.1C856.7,705.9 863.9,706.1 869.2,706.7C874.5,707.2 879.7,708.1 882.3,709.5C885,710.9 885.8,713.1 885.1,715.1C884.5,717.1 881.2,719.3 878.6,721.6C875.9,724 872.3,726.8 869.2,729.1C866.1,731.5 863.6,733.8 859.8,735.7C856.1,737.6 851.4,739 846.7,740.4C842,741.8 836.7,743.2 831.7,744.1C826.7,745.1 821.8,745.7 816.8,746C811.8,746.3 805.8,746.5 801.8,746C797.7,745.5 794.7,744.3 792.4,743.2C790.1,742.1 788.3,741.3 787.7,739.4Z"/><path class="c" d="M799.9,728.2C799.6,725.9 801.5,722.9 803.6,720.7C805.8,718.5 809,716.7 813,715.1C817.1,713.5 822.4,711.9 828,711C833.6,710 840.5,709.6 846.7,709.5C853,709.3 860.2,709.5 865.5,710C870.8,710.6 876.4,711.5 878.6,712.8C880.8,714.2 879.8,716 878.6,717.9C877.3,719.8 874.2,722.4 871.1,724.5C868,726.5 863.9,728.4 859.8,730.1C855.8,731.8 851.4,733.5 846.7,734.8C842,736 836.7,737.1 831.7,737.6C826.7,738 821.1,738 816.8,737.6C812.4,737.1 808.3,736.3 805.5,734.8C802.7,733.2 800.2,730.5 799.9,728.2Z"/><path class="c" d="M809.3,720.7C809.3,718.7 811.8,716.6 814.9,715.1C818,713.6 823,712.4 828,711.7C833,711 839.2,710.8 844.9,710.8C850.5,710.8 857.3,710.8 861.7,711.7C866.1,712.6 870,714.4 871.1,716C872.2,717.7 870.5,719.9 868.3,721.6C866.1,723.4 862.2,725.1 858,726.3C853.8,727.6 848,728.6 843,729.1C838,729.7 832.7,730 828,729.7C823.3,729.4 818,728.8 814.9,727.3C811.8,725.8 809.3,722.7 809.3,720.7Z"/><path class="c" d="M814.9,717C814.9,715.4 817.4,712.7 820.5,711.3C823.6,709.9 828.9,709 833.6,708.5C838.3,708.1 844.5,707.9 848.6,708.5C852.7,709.2 856.7,710.7 858,712.3C859.2,713.8 858,716.3 856.1,717.9C854.2,719.5 850.8,720.9 846.7,721.6C842.7,722.4 836.1,722.7 831.7,722.6C827.4,722.4 823.3,721.6 820.5,720.7C817.7,719.8 814.9,718.5 814.9,717Z"/><line class="dg" x1="612.6" y1="955.3" x2="994.2" y2="595.1"/><rect class="fr" x="612.6" y="595.1" width="381.6" height="360.2"/><text class="tt" x="803.4" y="552.2">Leaf P</text><text class="tt" x="803.4" y="586.6">r = 0.42</text><text class="tx" x="740.2" y="988.2">0</text><text class="tx" x="911.9" y="988.2">1</text><text class="ty" x="599" y="924.9">−0.5</text><text class="ty" x="599" y="843.8">0.0</text><text class="ty" x="599" y="762.8">0.5</text><text class="ty" x="599" y="681.7">1.0</text><text class="lb" x="803.4" y="1019.4">sPlotOpen plot</text><text class="lb" transform="translate(527.4,775.2) rotate(-90)">iNaturalist obs. mean</text></g>
<g><path class="c" d="M1172.5,840.5C1172.8,837.7 1174.1,834.2 1176.2,831.1C1178.4,828 1182.2,824.9 1185.6,821.7C1189,818.6 1192.8,815.8 1196.9,812.4C1200.9,808.9 1205.9,804.6 1210,801.1C1214,797.7 1218.1,794.9 1221.2,791.8C1224.3,788.6 1227.1,785.8 1228.7,782.4C1230.3,779 1229.3,774.3 1230.6,771.2C1231.8,768 1233.7,766.5 1236.2,763.7C1238.7,760.9 1243.1,757.1 1245.6,754.3C1248.1,751.5 1250.9,749 1251.2,746.8C1251.5,744.6 1248.4,743.1 1247.4,741.2C1246.5,739.3 1244.3,737 1245.6,735.6C1246.8,734.2 1250.9,733.4 1254.9,732.8C1259,732.1 1264.6,732.1 1269.9,731.8C1275.2,731.5 1280.8,731.3 1286.8,730.9C1292.7,730.4 1299.3,729.6 1305.5,729C1311.8,728.4 1318,727.6 1324.3,727.1C1330.5,726.7 1336.7,726.5 1343,726.2C1349.2,725.9 1356.4,725.7 1361.7,725.3C1367,724.8 1370.8,724.5 1374.8,723.4C1378.9,722.3 1382.3,720.4 1386.1,718.7C1389.8,717 1393.6,715 1397.3,713.1C1401.1,711.2 1404.8,709.2 1408.6,707.5C1412.3,705.7 1416.1,704 1419.8,702.8C1423.5,701.5 1427.3,700.3 1431,700C1434.8,699.7 1438.8,700.1 1442.3,700.9C1445.7,701.7 1449.2,702.9 1451.7,704.6C1454.1,706.4 1456.2,708.6 1457.3,711.2C1458.4,713.9 1457.9,716.8 1458.2,720.6C1458.5,724.3 1457.7,729.9 1459.1,733.7C1460.6,737.4 1464.1,739.3 1466.6,743.1C1469.1,746.8 1472.3,752.1 1474.1,756.2C1476,760.2 1477.6,763.7 1477.9,767.4C1478.2,771.2 1477.6,775.5 1476,778.7C1474.4,781.8 1470.7,783.3 1468.5,786.1C1466.3,789 1464.5,792.4 1462.9,795.5C1461.3,798.6 1458.8,801.8 1459.1,804.9C1459.5,808 1464.1,811.8 1464.8,814.3C1465.4,816.7 1465.4,818.6 1462.9,819.9C1460.4,821.1 1454.5,820.8 1449.8,821.7C1445.1,822.7 1439.8,824.2 1434.8,825.5C1429.8,826.7 1424.8,828 1419.8,829.2C1414.8,830.5 1409.8,831.7 1404.8,833C1399.8,834.2 1395.4,835.5 1389.8,836.7C1384.2,838 1377.3,839.2 1371.1,840.5C1364.8,841.7 1358.6,843 1352.4,844.2C1346.1,845.5 1339.9,846.7 1333.6,848C1327.4,849.2 1321.1,850.5 1314.9,851.7C1308.6,853 1302.4,854.2 1296.1,855.5C1289.9,856.7 1283.7,857.7 1277.4,859.2C1271.2,860.8 1264.3,863 1258.7,864.8C1253.1,866.7 1248.1,868.6 1243.7,870.5C1239.3,872.3 1236.2,874.5 1232.4,876.1C1228.7,877.6 1224.6,878.6 1221.2,879.8C1217.8,881.1 1214,883.9 1211.8,883.6C1209.7,883.3 1208.4,879.8 1208.1,878C1207.8,876.1 1210.9,874.2 1210,872.3C1209,870.5 1205.3,868.9 1202.5,866.7C1199.7,864.5 1196.5,861.4 1193.1,859.2C1189.7,857 1185,855.5 1181.9,853.6C1178.7,851.7 1175.9,850.2 1174.4,848C1172.8,845.8 1172.2,843.3 1172.5,840.5Z"/><path class="c" d="M1401.4,673.7C1401.8,671.9 1403.6,669.7 1406.7,668.1C1409.7,666.6 1415.1,665.2 1419.8,664.4C1424.5,663.5 1429.8,663.1 1434.8,662.9C1439.8,662.6 1445.4,662.5 1449.8,662.9C1454.1,663.3 1458.7,664 1461,665.3C1463.4,666.6 1464.1,669.1 1463.8,670.9C1463.5,672.8 1462.1,675 1459.1,676.5C1456.2,678.1 1450.7,679.3 1446,680.3C1441.3,681.3 1436,682.4 1431,682.7C1426,683 1420.4,682.7 1416.1,682.2C1411.7,681.6 1407.2,680.8 1404.8,679.4C1402.4,678 1401.1,675.6 1401.4,673.7Z"/><path class="c" d="M1421.7,673.7C1422,673 1423.2,671.5 1425.4,670.9C1427.6,670.3 1432.1,670 1434.8,670C1437.4,670 1440.1,670.3 1441.3,670.9C1442.6,671.5 1442.9,672.9 1442.3,673.7C1441.7,674.6 1439.8,675.5 1437.6,676C1435.4,676.5 1431.5,676.6 1429.2,676.5C1426.8,676.5 1424.8,676.1 1423.5,675.6C1422.3,675.1 1421.4,674.5 1421.7,673.7Z"/><path class="c" d="M1185.6,840.5C1185.9,837 1190.3,831.1 1193.1,827.4C1195.9,823.6 1199,821.1 1202.5,818C1205.9,814.9 1210,811.3 1213.7,808.6C1217.5,806 1221.2,804.1 1225,802.1C1228.7,800 1232.4,798.3 1236.2,796.5C1239.9,794.6 1244.3,792.9 1247.4,790.8C1250.6,788.8 1252.4,786.9 1254.9,784.3C1257.4,781.6 1260.4,777.9 1262.4,774.9C1264.5,771.9 1264.9,769 1267.1,766.5C1269.3,764 1272.3,761.6 1275.5,759.9C1278.8,758.2 1283.3,759.8 1286.8,756.2C1290.2,752.6 1292.1,741.7 1296.1,738.4C1300.2,735 1306.5,736.1 1311.1,735.9C1315.8,735.8 1321.1,736.2 1324.3,737.4C1327.4,738.6 1326.7,741.5 1329.9,743.1C1333,744.6 1337.7,746.2 1343,746.8C1348.3,747.4 1355.5,747.1 1361.7,746.8C1368,746.6 1374.2,746.2 1380.5,745.3C1386.7,744.4 1395.1,743.7 1399.2,741.2C1403.3,738.6 1402.9,733.4 1404.8,729.9C1406.7,726.5 1407.3,723 1410.4,720.6C1413.6,718.1 1419.2,716.3 1423.5,715.3C1427.9,714.3 1433.8,713.7 1436.7,714.6C1439.5,715.5 1440.2,718 1440.8,720.6C1441.4,723.1 1438.9,727.1 1440.4,729.9C1441.9,732.8 1447.3,734.3 1449.8,737.4C1452.3,740.6 1454,744.9 1455.4,748.7C1456.8,752.4 1457.3,756.2 1458.2,759.9C1459.1,763.7 1461.5,768 1461,771.2C1460.6,774.3 1458.5,776.7 1455.4,778.7C1452.3,780.6 1446.3,781.4 1442.3,782.8C1438.2,784.2 1433.5,784.6 1431,787.1C1428.5,789.5 1427.6,793.8 1427.3,797.4C1427,801 1429.5,805.8 1429.2,808.6C1428.9,811.5 1428.9,813 1425.4,814.6C1422,816.2 1414.5,817.1 1408.6,818.4C1402.6,819.6 1396.1,820.9 1389.8,822.1C1383.6,823.4 1377.3,824.6 1371.1,825.9C1364.8,827.1 1358.6,828.4 1352.4,829.6C1346.1,830.9 1339.9,832.1 1333.6,833.4C1327.4,834.6 1321.1,835.9 1314.9,837.1C1308.6,838.4 1302.4,839.6 1296.1,840.9C1289.9,842.1 1283.7,843.1 1277.4,844.6C1271.2,846.1 1264.3,848.1 1258.7,849.8C1253.1,851.6 1248.4,853.5 1243.7,855.1C1239,856.7 1234.6,858.2 1230.6,859.2C1226.5,860.2 1222.8,861.2 1219.3,861.1C1215.9,860.9 1213.1,859.7 1210,858.3C1206.8,856.9 1203.7,854.4 1200.6,852.7C1197.5,850.9 1193.7,850 1191.2,848C1188.7,845.9 1185.3,843.9 1185.6,840.5Z"/><path class="c" d="M1293.3,756.2C1293.5,754.3 1293.8,751.2 1296.1,749.6C1298.5,748 1303.3,746.8 1307.4,746.4C1311.4,746 1317.1,746.2 1320.5,747.2C1323.9,748.2 1325.8,750.6 1328,752.4C1330.2,754.2 1330.8,756.6 1333.6,758C1336.4,759.4 1340.5,760.2 1344.9,760.9C1349.2,761.5 1356.3,760.7 1359.8,761.8C1363.4,762.9 1365.2,764.9 1366.4,767.4C1367.7,769.9 1368.1,774 1367.3,776.8C1366.6,779.5 1364.2,782.5 1361.7,783.9C1359.2,785.3 1355.2,785.8 1352.4,785.2C1349.5,784.6 1346.7,782.6 1344.9,780.5C1343,778.5 1343,775.2 1341.1,773C1339.2,770.8 1337.4,768.8 1333.6,767.4C1329.9,766 1323.9,765.2 1318.6,764.6C1313.3,764 1305.7,764.7 1301.8,764C1297.9,763.4 1296.6,762.2 1295.2,760.9C1293.8,759.5 1293.2,758 1293.3,756.2Z"/><path class="c" d="M1376.7,760.9C1376.4,758.2 1379.2,755.1 1382.3,752.4C1385.5,749.8 1390.4,747 1395.4,744.9C1400.4,742.9 1406.4,741.3 1412.3,740.2C1418.2,739.2 1425.7,737.9 1431,738.4C1436.4,738.8 1441.3,740.4 1444.2,743.1C1447,745.7 1447.6,750.6 1447.9,754.3C1448.2,758 1447.3,762.4 1446,765.5C1444.8,768.7 1443.5,771.2 1440.4,773C1437.3,774.9 1432,776.2 1427.3,776.8C1422.6,777.4 1417.3,777.4 1412.3,776.8C1407.3,776.2 1402,774.4 1397.3,773C1392.6,771.6 1387.6,770.4 1384.2,768.3C1380.8,766.3 1377,763.5 1376.7,760.9Z"/><path class="c" d="M1394.5,756.2C1395.1,754 1397.5,751.3 1401.1,749.6C1404.7,747.9 1411.1,746.4 1416.1,745.9C1421,745.3 1427.1,745.6 1431,746.4C1434.9,747.2 1437.9,748.3 1439.5,750.6C1441,752.8 1441.2,757.3 1440.4,759.9C1439.6,762.6 1437.9,765.1 1434.8,766.5C1431.7,767.9 1426.4,768.3 1421.7,768.3C1417,768.3 1410.7,767.4 1406.7,766.5C1402.6,765.5 1399.3,764.4 1397.3,762.7C1395.3,761 1393.9,758.4 1394.5,756.2Z"/><path class="c" d="M1412.3,757.1C1412.6,755.9 1413.9,753.5 1416.1,752.4C1418.2,751.4 1422.5,750.8 1425.4,750.9C1428.4,751.1 1432.3,752.2 1433.9,753.4C1435.4,754.5 1435.6,756.4 1434.8,757.7C1434,758.9 1431.7,760.2 1429.2,760.9C1426.7,761.5 1422.3,761.6 1419.8,761.4C1417.3,761.3 1415.4,760.6 1414.2,759.9C1412.9,759.2 1412,758.4 1412.3,757.1Z"/><path class="c" d="M1191.7,842.2C1192.2,839 1194.7,834.5 1197.3,831C1199.9,827.5 1203.6,824.4 1207.2,821.2C1210.7,817.9 1214.6,814.4 1218.4,811.3C1222.1,808.3 1225.9,805.7 1229.6,802.9C1233.4,800.1 1237.1,797.3 1240.9,794.5C1244.6,791.7 1248.4,788.8 1252.1,786C1255.9,783.2 1259.1,780 1263.4,777.6C1267.6,775.3 1272.7,773.5 1277.4,772C1282.1,770.5 1286.8,768.9 1291.5,768.5C1296.1,768 1300.8,768.6 1305.5,769.2C1310.2,769.8 1314.9,770.3 1319.6,772C1324.2,773.6 1328.9,776.7 1333.6,779C1338.3,781.4 1341.8,784.6 1347.7,786C1353.5,787.4 1361.7,787 1368.7,787.4C1375.8,787.9 1383.5,788.4 1389.8,788.8C1396.1,789.3 1402,789.3 1406.7,790.3C1411.4,791.2 1414.9,792.1 1417.9,794.5C1421,796.8 1424,800.8 1424.9,804.3C1425.9,807.8 1425.2,812.3 1423.5,815.5C1421.9,818.8 1418.4,821.4 1415.1,824C1411.8,826.6 1408.1,829.1 1403.9,831C1399.6,832.9 1394.5,834 1389.8,835.2C1385.1,836.4 1380.4,837.2 1375.8,838C1371.1,838.8 1366.4,839.4 1361.7,840.1C1357,840.8 1352.3,841.4 1347.7,842.2C1343,843.1 1338.3,844.2 1333.6,845.1C1328.9,845.9 1324.2,846.2 1319.6,847.2C1314.9,848.1 1310.2,849.4 1305.5,850.7C1300.8,852 1296.1,853.5 1291.5,854.9C1286.8,856.3 1282.1,857.7 1277.4,859.1C1272.7,860.5 1268,862.1 1263.4,863.3C1258.7,864.5 1254,865.4 1249.3,866.1C1244.6,866.8 1239.5,867.5 1235.3,867.5C1231,867.5 1227.8,867.1 1224,866.1C1220.3,865.2 1216.3,863.6 1212.8,861.9C1209.3,860.3 1206,858.2 1202.9,856.3C1199.9,854.4 1196.4,853 1194.5,850.7C1192.6,848.3 1191.2,845.5 1191.7,842.2Z"/><path class="c" d="M1195.2,842.2C1195.3,839.4 1198.4,835 1200.8,831.7C1203.3,828.4 1206.6,825.6 1210,822.6C1213.4,819.5 1217.5,816.4 1221.2,813.4C1225,810.5 1228.7,807.7 1232.4,805C1236.2,802.3 1239.7,799.7 1243.7,797.3C1247.7,794.8 1251.9,792.5 1256.3,790.3C1260.8,788 1265.7,785.7 1270.4,783.9C1275.1,782.2 1279.7,780.5 1284.4,779.7C1289.1,778.9 1293.8,778.7 1298.5,779C1303.2,779.4 1308.1,780.4 1312.5,781.8C1317,783.2 1321,785.6 1325.2,787.4C1329.4,789.3 1332.9,791.9 1337.8,793.1C1342.7,794.2 1348.8,794.1 1354.7,794.5C1360.5,794.8 1366.6,794.8 1373,795.2C1379.3,795.5 1387,795.8 1392.6,796.6C1398.2,797.4 1403.4,798.1 1406.7,800.1C1410,802.1 1411.8,805.5 1412.3,808.5C1412.8,811.6 1411.4,815.7 1409.5,818.4C1407.6,821 1404.8,823 1401.1,824.7C1397.3,826.3 1391.7,827.1 1387,828.2C1382.3,829.2 1377.6,830.2 1373,831C1368.3,831.8 1363.6,832.5 1358.9,833.1C1354.2,833.7 1349.5,833.9 1344.9,834.5C1340.2,835.1 1335.5,835.9 1330.8,836.6C1326.1,837.3 1321.4,838 1316.7,838.7C1312.1,839.4 1307.4,839.8 1302.7,840.8C1298,841.9 1293.3,843.6 1288.6,845.1C1284,846.5 1279.3,847.9 1274.6,849.3C1269.9,850.7 1265.2,852.2 1260.5,853.5C1255.9,854.8 1250.9,856.2 1246.5,857C1242,857.8 1238.1,858.4 1233.8,858.4C1229.6,858.4 1225.2,857.8 1221.2,857C1217.2,856.2 1213.5,854.9 1210,853.5C1206.5,852.1 1202.6,850.4 1200.1,848.6C1197.7,846.7 1195.1,845.1 1195.2,842.2Z"/><path class="c" d="M1198.7,842.2C1199,840.1 1202,835.5 1204.3,832.4C1206.7,829.4 1209.5,826.8 1212.8,824C1216.1,821.2 1220.3,818.2 1224,815.5C1227.8,812.9 1231.5,810.3 1235.3,807.8C1239,805.4 1242.5,802.9 1246.5,800.8C1250.5,798.7 1254.7,796.9 1259.1,795.2C1263.6,793.4 1268.5,791.5 1273.2,790.3C1277.9,789 1282.6,787.9 1287.2,787.4C1291.9,787 1296.8,787 1301.3,787.4C1305.7,787.9 1310.2,788.8 1313.9,790.3C1317.7,791.7 1320.5,794.1 1323.8,795.9C1327.1,797.6 1329.6,799.6 1333.6,800.8C1337.6,802 1342.5,802.5 1347.7,802.9C1352.8,803.3 1358.9,802.7 1364.5,802.9C1370.1,803.1 1376.5,803.6 1381.4,804.3C1386.3,805 1391,805.5 1394,807.1C1397.1,808.8 1399.2,811.8 1399.6,814.1C1400.1,816.5 1398.9,819.3 1396.8,821.2C1394.7,823 1391,824.2 1387,825.4C1383,826.6 1377.6,827.5 1373,828.2C1368.3,828.9 1363.6,829.1 1358.9,829.6C1354.2,830.1 1349.5,830.5 1344.9,831C1340.2,831.5 1335.5,831.9 1330.8,832.4C1326.1,832.9 1321.4,833.3 1316.7,833.8C1312.1,834.3 1307.4,834.4 1302.7,835.2C1298,836 1293.3,837.4 1288.6,838.7C1284,840 1279.3,841.5 1274.6,842.9C1269.9,844.4 1265.2,845.9 1260.5,847.2C1255.9,848.4 1250.9,849.9 1246.5,850.7C1242,851.5 1238.1,852.1 1233.8,852.1C1229.6,852.1 1225,851.5 1221.2,850.7C1217.5,849.9 1214.4,848.1 1211.4,847.2C1208.3,846.2 1205,845.9 1202.9,845.1C1200.8,844.2 1198.5,844.4 1198.7,842.2Z"/><path class="c" d="M1205.7,832.4C1206,829.4 1207.9,824.7 1210,821.2C1212.1,817.7 1215.1,814.3 1218.4,811.3C1221.7,808.4 1225.4,805.8 1229.6,803.6C1233.8,801.4 1238.5,799.7 1243.7,798C1248.8,796.2 1254.9,794.2 1260.5,793.1C1266.2,791.9 1271.8,791.3 1277.4,791C1283,790.6 1288.9,790.5 1294.3,791C1299.7,791.4 1305.3,792.4 1309.7,793.8C1314.2,795.2 1317.7,797.4 1321,799.4C1324.2,801.4 1326.1,804.2 1329.4,805.7C1332.7,807.2 1336.4,808.1 1340.6,808.5C1344.9,809 1350,808.3 1354.7,808.5C1359.4,808.7 1364.8,809.1 1368.7,809.6C1372.7,810.2 1376.3,810.8 1378.6,812C1380.8,813.3 1382.1,815.3 1382.1,817C1382.1,818.6 1380.6,820.6 1378.6,821.9C1376.6,823.2 1373.9,823.9 1370.1,824.7C1366.4,825.5 1361,826 1356.1,826.5C1351.2,827 1345.6,827.4 1340.6,827.9C1335.7,828.4 1331.3,828.9 1326.6,829.3C1321.9,829.7 1317.2,829.9 1312.5,830.3C1307.9,830.7 1303.2,831 1298.5,831.7C1293.8,832.4 1289.1,833.3 1284.4,834.5C1279.7,835.7 1275.1,837.2 1270.4,838.7C1265.7,840.3 1261,842.2 1256.3,843.6C1251.6,845.1 1247,846.5 1242.3,847.2C1237.6,847.9 1232.4,848.4 1228.2,847.9C1224,847.3 1220.3,845.1 1217,843.6C1213.7,842.2 1210.4,841.3 1208.6,839.4C1206.7,837.6 1205.5,835.5 1205.7,832.4Z"/><path class="c" d="M1217,824C1217.2,820.7 1217.9,816 1219.8,812.7C1221.7,809.5 1224.7,806.6 1228.2,804.3C1231.7,802 1236.2,800.3 1240.9,798.7C1245.6,797 1250.7,795.4 1256.3,794.5C1262,793.5 1268.7,793.2 1274.6,793.1C1280.5,792.9 1286.1,792.8 1291.5,793.8C1296.8,794.7 1302.9,796.5 1306.9,798.7C1310.9,800.9 1313.5,804.3 1315.3,807.1C1317.2,809.9 1318.4,813 1318.2,815.5C1317.9,818.1 1316.3,820.7 1313.9,822.6C1311.6,824.4 1307.9,825.4 1304.1,826.8C1300.4,828.2 1295.9,829.4 1291.5,831C1287,832.6 1282.1,835 1277.4,836.6C1272.7,838.3 1268,839.7 1263.4,840.8C1258.7,842 1254,843.2 1249.3,843.6C1244.6,844.1 1239.5,844.4 1235.3,843.6C1231,842.9 1226.8,841.3 1224,839.4C1221.2,837.6 1219.6,835 1218.4,832.4C1217.2,829.8 1216.8,827.3 1217,824Z"/><path class="c" d="M1229.6,821.2C1230,818.5 1230.6,814.1 1232.4,811.3C1234.3,808.5 1237.1,806.2 1240.9,804.3C1244.6,802.4 1249.8,800.9 1254.9,800.1C1260.1,799.3 1266.2,799.2 1271.8,799.4C1277.4,799.6 1284,800.2 1288.6,801.5C1293.3,802.8 1297.3,805 1299.9,807.1C1302.5,809.2 1304.1,811.8 1304.1,814.1C1304.1,816.5 1302.5,819.1 1299.9,821.2C1297.3,823.3 1292.9,825 1288.6,826.8C1284.4,828.5 1279.3,830.4 1274.6,831.7C1269.9,833 1265.2,833.9 1260.5,834.5C1255.9,835.1 1250.7,835.6 1246.5,835.2C1242.3,834.9 1237.9,833.7 1235.3,832.4C1232.6,831.1 1231.3,829.4 1230.3,827.5C1229.4,825.6 1229.3,823.9 1229.6,821.2Z"/><path class="c" d="M1243,818.4C1243.2,816.5 1244.3,814.4 1246.5,812.7C1248.7,811.1 1252.6,809.5 1256.3,808.5C1260.1,807.6 1265,807.1 1269,807.1C1273,807.1 1277.2,807.6 1280.2,808.5C1283.3,809.5 1286.3,811.1 1287.2,812.7C1288.2,814.4 1287.5,816.6 1285.8,818.4C1284.2,820.1 1280.7,822 1277.4,823.3C1274.1,824.6 1270.1,825.5 1266.2,826.1C1262.2,826.7 1257,827.1 1253.5,826.8C1250,826.4 1246.8,825.4 1245.1,824C1243.3,822.6 1242.7,820.2 1243,818.4Z"/><path class="c" d="M1335,817C1335,815.5 1336,813.4 1337.8,812C1339.7,810.7 1342.7,809.5 1346.3,808.8C1349.8,808.1 1354.9,807.9 1358.9,807.8C1362.9,807.8 1367.1,807.8 1370.1,808.5C1373.2,809.2 1375.9,810.6 1377.2,812C1378.5,813.4 1378.6,815.5 1377.9,817C1377.2,818.4 1375.6,819.5 1373,820.5C1370.3,821.4 1365.9,822.1 1361.7,822.6C1357.5,823 1351.6,823.3 1347.7,823C1343.7,822.7 1339.9,821.9 1337.8,820.9C1335.7,819.9 1335,818.4 1335,817Z"/><path class="c" d="M1339.2,817C1339.6,816.2 1340.6,814.7 1342.7,813.9C1344.9,813.1 1348.5,812.5 1351.9,812.2C1355.3,811.9 1359.8,811.9 1363.1,812.2C1366.4,812.5 1370,813 1371.5,813.9C1373.1,814.7 1373,816.3 1372.3,817.2C1371.5,818.2 1369.8,819 1367.3,819.5C1364.9,820 1361,820.2 1357.5,820.3C1354,820.4 1349.1,820.3 1346.3,820C1343.4,819.8 1341.8,819.2 1340.6,818.6C1339.5,818.1 1338.9,817.7 1339.2,817Z"/><line class="dg" x1="1140" y1="955.3" x2="1521.6" y2="595.1"/><rect class="fr" x="1140" y="595.1" width="381.6" height="360.2"/><text class="tt" x="1330.8" y="552.2">Plant Height</text><text class="tt" x="1330.8" y="586.6">r = 0.55</text><text class="tx" x="1216.1" y="988.2">−2</text><text class="tx" x="1315.6" y="988.2">0</text><text class="tx" x="1415.1" y="988.2">2</text><text class="tx" x="1514.6" y="988.2">4</text><text class="ty" x="1126.4" y="892.4">−2</text><text class="ty" x="1126.4" y="798.5">0</text><text class="ty" x="1126.4" y="704.5">2</text><text class="ty" x="1126.4" y="610.6">4</text><text class="lb" x="1330.8" y="1019.4">sPlotOpen plot</text><text class="lb" transform="translate(1078.2,775.2) rotate(-90)">iNaturalist obs. mean</text></g>
<g><path class="c" d="M1703.4,808.6C1703.4,805.8 1706.4,803.6 1708.1,801.1C1709.8,798.6 1712.5,796.1 1713.7,793.6C1715,791.1 1714,788.9 1715.6,786.1C1717.2,783.3 1720.3,779.9 1723.1,776.8C1725.9,773.6 1729.7,770.2 1732.5,767.4C1735.3,764.6 1738.4,762.4 1740,759.9C1741.5,757.4 1740.3,754.4 1741.8,752.4C1743.4,750.4 1745.3,749.1 1749.3,747.7C1753.4,746.3 1760.3,745.2 1766.2,744C1772.1,742.7 1778.7,741.3 1784.9,740.2C1791.2,739.1 1797.4,738.5 1803.7,737.4C1809.9,736.3 1816.2,735.1 1822.4,733.7C1828.6,732.3 1835.8,729.9 1841.1,729C1846.4,728.1 1849.9,727.6 1854.3,728.1C1858.6,728.5 1863.3,730.6 1867.4,731.8C1871.4,733.1 1874.5,734.8 1878.6,735.6C1882.7,736.3 1887.3,737 1891.7,736.5C1896.1,736 1900.2,734.3 1904.8,732.7C1909.5,731.2 1914.8,728.8 1919.8,727.1C1924.8,725.4 1929.8,723.4 1934.8,722.4C1939.8,721.5 1945.4,721.3 1949.8,721.5C1954.2,721.7 1957.3,722.3 1961,723.4C1964.8,724.5 1969.2,726.3 1972.3,728.1C1975.4,729.8 1978.2,731.2 1979.8,733.7C1981.3,736.2 1980.4,739.9 1981.7,743C1982.9,746.2 1984.5,749.9 1987.3,752.4C1990.1,754.9 1996,755.5 1998.5,758C2001,760.5 2000.7,764.6 2002.3,767.4C2003.8,770.2 2006.9,772.1 2007.9,774.9C2008.8,777.7 2009.1,781.5 2007.9,784.3C2006.6,787.1 2003.2,789.3 2000.4,791.8C1997.6,794.3 1993.8,797.1 1991,799.3C1988.2,801.4 1986.6,803.3 1983.5,804.9C1980.4,806.4 1976.7,807.5 1972.3,808.6C1967.9,809.7 1962.9,810.5 1957.3,811.4C1951.7,812.4 1944.8,813.1 1938.6,814.2C1932.3,815.3 1926.1,816.7 1919.8,818C1913.6,819.2 1907.3,820.5 1901.1,821.7C1894.8,823 1888.6,823.9 1882.4,825.5C1876.1,827 1869.9,828.9 1863.6,831.1C1857.4,833.3 1851.1,836.4 1844.9,838.6C1838.6,840.8 1832.4,842.5 1826.1,844.2C1819.9,845.9 1813.7,847.5 1807.4,848.9C1801.2,850.3 1794.3,851.6 1788.7,852.6C1783.1,853.7 1778.7,855 1773.7,855.5C1768.7,855.9 1764,856.1 1758.7,855.5C1753.4,854.8 1746.2,853.3 1741.8,851.7C1737.5,850.1 1734.5,848.3 1732.5,846.1C1730.4,843.9 1730.9,841.1 1729.7,838.6C1728.4,836.1 1727,833.3 1725,831.1C1722.9,828.9 1720.3,827.7 1717.5,825.5C1714.7,823.3 1710.5,820.8 1708.1,818C1705.8,815.2 1703.4,811.4 1703.4,808.6Z"/><path class="c" d="M1728.7,804.9C1728.7,800.8 1730.6,797.4 1732.5,793.6C1734.3,789.9 1736.8,785.8 1740,782.4C1743.1,779 1748.1,776.1 1751.2,773C1754.3,769.9 1756.2,766.5 1758.7,763.7C1761.2,760.8 1763.7,758.3 1766.2,756.2C1768.7,754 1769.9,751.9 1773.7,750.5C1777.4,749.1 1783.1,748.4 1788.7,747.7C1794.3,747.1 1801.2,747.1 1807.4,746.8C1813.7,746.5 1819.9,746.2 1826.1,745.9C1832.4,745.5 1838.6,744.9 1844.9,744.9C1851.1,744.9 1857.4,745.4 1863.6,745.9C1869.9,746.3 1876.1,747.7 1882.4,747.7C1888.6,747.7 1894.8,746.3 1901.1,745.9C1907.3,745.4 1913.6,744.4 1919.8,744.9C1926.1,745.4 1932.9,747.1 1938.6,748.7C1944.2,750.2 1949.8,752.1 1953.5,754.3C1957.3,756.5 1958.9,759 1961,761.8C1963.2,764.6 1964.8,768.6 1966.7,771.1C1968.5,773.6 1970.7,774.6 1972.3,776.8C1973.8,779 1976,781.8 1976,784.3C1976,786.8 1974.5,789.6 1972.3,791.8C1970.1,793.9 1966.7,795.7 1962.9,797.4C1959.2,799.1 1954.5,800.8 1949.8,802.1C1945.1,803.3 1939.8,803.9 1934.8,804.9C1929.8,805.8 1925.4,806.9 1919.8,807.7C1914.2,808.5 1907.3,808.8 1901.1,809.6C1894.8,810.3 1888.6,811.1 1882.4,812.4C1876.1,813.6 1869.9,815.2 1863.6,817C1857.4,818.9 1851.1,821.6 1844.9,823.6C1838.6,825.6 1832.4,827.4 1826.1,829.2C1819.9,831.1 1813.7,833 1807.4,834.8C1801.2,836.7 1794.3,839.1 1788.7,840.5C1783.1,841.9 1778.7,843.1 1773.7,843.3C1768.7,843.4 1763.4,842.8 1758.7,841.4C1754,840 1749,837.2 1745.6,834.8C1742.2,832.5 1740.3,830.2 1738.1,827.4C1735.9,824.5 1734,821.7 1732.5,818C1730.9,814.2 1728.7,808.9 1728.7,804.9Z"/><path class="c" d="M1740,806.7C1740.3,803.3 1741.8,799.3 1743.7,795.5C1745.6,791.8 1748.1,787.7 1751.2,784.3C1754.3,780.8 1758.7,777.5 1762.4,774.9C1766.2,772.2 1769.3,770.4 1773.7,768.3C1778.1,766.3 1783.1,764.4 1788.7,762.7C1794.3,761 1801.2,759.3 1807.4,758C1813.7,756.8 1819.9,756 1826.1,755.2C1832.4,754.4 1838.6,753.7 1844.9,753.3C1851.1,753 1858.9,752.7 1863.6,753.3C1868.3,754 1869.9,756.6 1873,757.1C1876.1,757.6 1877.7,756.3 1882.4,756.2C1887,756 1894.8,756 1901.1,756.2C1907.3,756.3 1914.2,756.3 1919.8,757.1C1925.4,757.9 1930.4,759.1 1934.8,760.8C1939.2,762.6 1942.9,765.1 1946.1,767.4C1949.2,769.7 1951.4,772.4 1953.5,774.9C1955.7,777.4 1958.5,779.9 1959.2,782.4C1959.8,784.9 1959.2,787.7 1957.3,789.9C1955.4,792.1 1952,793.9 1947.9,795.5C1943.9,797.1 1938.2,798.2 1932.9,799.3C1927.6,800.3 1922,801.3 1916.1,802.1C1910.1,802.8 1903.6,803.2 1897.3,803.9C1891.1,804.7 1884.9,805.5 1878.6,806.7C1872.4,808 1866.1,809.7 1859.9,811.4C1853.6,813.1 1847.4,815.2 1841.1,817C1834.9,818.9 1828.6,820.8 1822.4,822.7C1816.2,824.5 1809.9,826.4 1803.7,828.3C1797.4,830.2 1790.6,832.5 1784.9,833.9C1779.3,835.3 1774.6,836.9 1769.9,836.7C1765.3,836.6 1760.6,834.8 1756.8,833C1753.1,831.1 1750,828.3 1747.5,825.5C1745,822.7 1743.1,819.2 1741.8,816.1C1740.6,813 1739.7,810.2 1740,806.7Z"/><path class="c" d="M1745.6,806.7C1745.7,803 1747.5,798.9 1749.3,795.5C1751.2,792.1 1753.7,788.9 1756.8,786.1C1759.9,783.3 1764,780.8 1768.1,778.6C1772.1,776.5 1776.5,774.7 1781.2,773C1785.9,771.3 1791.2,769.6 1796.2,768.3C1801.2,767.1 1806.2,766.3 1811.2,765.5C1816.2,764.7 1820.8,764.3 1826.1,763.7C1831.5,763 1838.3,762.1 1843,761.8C1847.7,761.5 1850.8,762.1 1854.3,761.8C1857.7,761.5 1860.2,759.8 1863.6,759.9C1867.1,760.1 1870.2,762.1 1874.9,762.7C1879.5,763.3 1887,762.9 1891.7,763.7C1896.4,764.4 1900.8,766.2 1903,767.4C1905.1,768.6 1906.1,769.9 1904.8,771.1C1903.6,772.4 1896.1,773.5 1895.5,774.9C1894.8,776.3 1897,778.6 1901.1,779.6C1905.1,780.5 1914.2,780 1919.8,780.5C1925.4,781 1931.7,781.5 1934.8,782.4C1937.9,783.3 1939.5,784.9 1938.6,786.1C1937.6,787.4 1933.3,788.8 1929.2,789.9C1925.1,791 1919.5,792.1 1914.2,792.7C1908.9,793.3 1902.7,793.2 1897.3,793.6C1892,794.1 1887.3,794.6 1882.4,795.5C1877.4,796.4 1872.4,797.7 1867.4,799.3C1862.4,800.8 1857.4,803 1852.4,804.9C1847.4,806.7 1842.4,808.6 1837.4,810.5C1832.4,812.4 1827.4,814.2 1822.4,816.1C1817.4,818 1812.4,819.9 1807.4,821.7C1802.4,823.6 1797.1,825.8 1792.4,827.4C1787.7,828.9 1783.7,830.6 1779.3,831.1C1774.9,831.6 1770.3,831.1 1766.2,830.2C1762.1,829.2 1757.9,827.5 1755,825.5C1752,823.5 1750,821.1 1748.4,818C1746.8,814.9 1745.4,810.5 1745.6,806.7Z"/><path class="c" d="M1749.3,806.7C1749.2,803 1751.2,798.6 1753.1,795.5C1755,792.4 1757.5,790.4 1760.6,788C1763.7,785.7 1767.8,783.3 1771.8,781.5C1775.9,779.6 1780.2,778.2 1784.9,776.8C1789.6,775.4 1794.9,774 1799.9,773C1804.9,772.1 1809.9,771.8 1814.9,771.1C1819.9,770.5 1824.9,769.9 1829.9,769.3C1834.9,768.6 1840.5,768 1844.9,767.4C1849.3,766.8 1853.6,764.9 1856.1,765.5C1858.6,766.2 1860.2,769.6 1859.9,771.1C1859.6,772.7 1854.3,773.6 1854.3,774.9C1854.3,776.1 1856.4,778 1859.9,778.6C1863.3,779.3 1869.6,778 1874.9,778.6C1880.2,779.3 1888.3,780.8 1891.7,782.4C1895.2,784 1896.1,786.4 1895.5,788C1894.8,789.6 1890.2,790.5 1888,791.8C1885.8,793 1881.4,794.6 1882.4,795.5C1883.3,796.4 1890.2,796.4 1893.6,797.4C1897,798.3 1902,799.9 1903,801.1C1903.9,802.4 1902.7,803.9 1899.2,804.9C1895.8,805.8 1888,806.1 1882.4,806.7C1876.7,807.4 1870.8,807.8 1865.5,808.6C1860.2,809.4 1855.5,810.3 1850.5,811.4C1845.5,812.5 1840.5,813.8 1835.5,815.2C1830.5,816.6 1825.5,818.3 1820.5,819.9C1815.5,821.4 1810.5,823.1 1805.5,824.5C1800.5,825.9 1795.2,827.5 1790.6,828.3C1785.9,829.1 1781.8,829.7 1777.4,829.2C1773.1,828.8 1768.2,827.4 1764.3,825.5C1760.4,823.6 1756.5,821.1 1754,818C1751.5,814.9 1749.5,810.5 1749.3,806.7Z"/><path class="c" d="M1752.1,806.7C1752.5,803.5 1754.8,798.3 1756.8,795.5C1758.9,792.7 1761.2,791.8 1764.3,789.9C1767.4,788 1771.5,785.8 1775.6,784.3C1779.6,782.7 1784,781.6 1788.7,780.5C1793.4,779.4 1798.7,778.5 1803.7,777.7C1808.7,776.9 1813.7,776.3 1818.7,775.8C1823.6,775.4 1828.6,774.7 1833.6,774.9C1838.6,775.1 1845.8,775.5 1848.6,776.8C1851.4,778 1850.8,780.2 1850.5,782.4C1850.2,784.6 1846.8,787.7 1846.8,789.9C1846.8,792.1 1847.7,794.3 1850.5,795.5C1853.3,796.8 1859.2,796.4 1863.6,797.4C1868,798.3 1875.2,799.9 1876.7,801.1C1878.3,802.4 1875.8,803.9 1873,804.9C1870.2,805.8 1864.6,806.1 1859.9,806.7C1855.2,807.4 1849.9,807.8 1844.9,808.6C1839.9,809.4 1834.9,810.3 1829.9,811.4C1824.9,812.5 1819.9,813.8 1814.9,815.2C1809.9,816.6 1804.9,818.3 1799.9,819.9C1794.9,821.4 1789.6,823.6 1784.9,824.5C1780.2,825.5 1775.9,825.9 1771.8,825.5C1767.8,825 1763.4,823.5 1760.6,821.7C1757.8,820 1756.4,817.7 1755,815.2C1753.5,812.7 1751.8,810 1752.1,806.7Z"/><path class="c" d="M1758.7,804.9C1758.9,801.4 1760.3,798 1762.4,795.5C1764.6,793 1768.1,791.4 1771.8,789.9C1775.6,788.3 1780.2,787.1 1784.9,786.1C1789.6,785.2 1794.9,784.7 1799.9,784.3C1804.9,783.8 1810.5,783.3 1814.9,783.3C1819.3,783.3 1823.3,783.2 1826.1,784.3C1829,785.4 1831.1,787.7 1831.8,789.9C1832.4,792.1 1829.6,795.2 1829.9,797.4C1830.2,799.6 1832.4,801.3 1833.6,803C1834.9,804.7 1838.6,806.4 1837.4,807.7C1836.1,809 1830.5,809.7 1826.1,810.9C1821.8,812 1816.2,813.4 1811.2,814.6C1806.2,815.9 1801.2,817.2 1796.2,818.4C1791.2,819.5 1785.6,821.2 1781.2,821.7C1776.8,822.3 1773.2,822.7 1769.9,821.7C1766.7,820.8 1763.4,818.9 1761.5,816.1C1759.6,813.3 1758.5,808.3 1758.7,804.9Z"/><path class="c" d="M1769.9,810.5C1769.9,807.8 1769.6,803.8 1771.8,801.1C1774,798.5 1778.4,796 1783.1,794.6C1787.7,793.2 1794.6,792.5 1799.9,792.7C1805.2,792.8 1810.8,793.8 1814.9,795.5C1819,797.2 1823,800.2 1824.3,803C1825.5,805.8 1824.6,809.9 1822.4,812.4C1820.2,814.9 1815.8,816.6 1811.2,818C1806.5,819.4 1799.6,820.3 1794.3,820.8C1789,821.3 1783.1,821.4 1779.3,820.8C1775.6,820.2 1773.4,818.8 1771.8,817C1770.3,815.3 1769.9,813.1 1769.9,810.5Z"/><path class="c" d="M1777.4,809.6C1777.3,807.4 1777.4,804.6 1779.3,803C1781.2,801.4 1784.6,800.7 1788.7,800.2C1792.7,799.7 1799.8,799.4 1803.7,800.2C1807.6,801 1810.8,802.8 1812.1,804.9C1813.3,806.9 1812.9,810.3 1811.2,812.4C1809.4,814.4 1805.5,816.1 1801.8,817C1798,818 1792.3,818.1 1788.7,818C1785.1,817.8 1782.1,817.5 1780.2,816.1C1778.4,814.7 1777.6,811.7 1777.4,809.6Z"/><path class="c" d="M1925.1,655C1925.7,653.6 1927.6,651.6 1931.1,650.3C1934.6,649.1 1940.4,648.1 1946.1,647.5C1951.7,646.9 1958.5,646.5 1964.8,646.6C1971,646.6 1978.8,647 1983.5,647.9C1988.2,648.7 1992,650.4 1992.9,651.6C1993.8,652.8 1992,654 1989.1,655C1986.3,656 1981.3,657 1976,657.8C1970.7,658.6 1963.5,659.3 1957.3,659.7C1951,660.1 1943.6,660.4 1938.6,660.2C1933.6,660.1 1929.6,659.6 1927.3,658.7C1925.1,657.9 1924.4,656.4 1925.1,655Z"/><line class="dg" x1="1667.5" y1="955.3" x2="2049.1" y2="595.1"/><rect class="fr" x="1667.5" y="595.1" width="381.6" height="360.2"/><text class="tt" x="1858.3" y="552.2">Seed mass</text><text class="tt" x="1858.3" y="586.6">r = 0.47</text><text class="tx" x="1809.9" y="988.2">0</text><text class="tx" x="1975.6" y="988.2">5</text><text class="ty" x="1653.9" y="954.9">−4</text><text class="ty" x="1653.9" y="892.3">−2</text><text class="ty" x="1653.9" y="829.8">0</text><text class="ty" x="1653.9" y="767.3">2</text><text class="ty" x="1653.9" y="704.7">4</text><text class="ty" x="1653.9" y="642.2">6</text><text class="lb" x="1858.3" y="1019.4">sPlotOpen plot</text><text class="lb" transform="translate(1605.7,775.2) rotate(-90)">iNaturalist obs. mean</text></g>
<g><path class="c" d="M105,1347.2C105.3,1344.2 107.8,1341.6 111.9,1339.2C116.1,1336.9 123.6,1335.1 129.9,1333.3C136.2,1331.4 143.1,1329.9 149.8,1328.3C156.4,1326.6 164,1325.1 169.7,1323.3C175.3,1321.5 179.9,1319.7 183.6,1317.3C187.2,1315 187.9,1311.7 191.6,1309.4C195.2,1307.1 201.8,1306.1 205.5,1303.4C209.1,1300.8 211.8,1297.1 213.5,1293.5C215.1,1289.8 214.5,1284.8 215.4,1281.5C216.4,1278.2 217.4,1276.2 219.4,1273.6C221.4,1270.9 224.1,1268.2 227.4,1265.6C230.7,1262.9 234.7,1259.9 239.3,1257.6C244,1255.3 249.3,1253 255.3,1251.7C261.2,1250.3 269.2,1250.5 275.2,1249.7C281.1,1248.8 285.8,1247.8 291.1,1246.7C296.4,1245.5 302.4,1244.5 307,1242.7C311.7,1240.9 316.6,1237.7 318.9,1235.7C321.3,1233.7 321.9,1232.4 320.9,1230.8C319.9,1229.1 314.6,1227.6 313,1225.8C311.3,1224 312.3,1222.1 311,1219.8C309.7,1217.5 305,1214.2 305,1211.8C305,1209.5 309.3,1207.9 311,1205.9C312.6,1203.9 313.6,1201.9 315,1199.9C316.3,1197.9 316.6,1195.6 318.9,1193.9C321.3,1192.3 323.9,1190.9 328.9,1190C333.9,1189 342.2,1188.5 348.8,1188.4C355.4,1188.2 362.1,1188.4 368.7,1189C375.3,1189.6 385,1190.8 388.6,1191.9C392.3,1193.1 392.3,1194.9 390.6,1195.9C388.9,1196.9 383.3,1196.9 378.7,1197.9C374,1198.9 367.1,1200.2 362.7,1201.9C358.4,1203.6 354.8,1205.7 352.8,1207.9C350.8,1210 349.8,1213.2 350.8,1214.8C351.8,1216.5 356.4,1216.7 358.8,1217.8C361.1,1219 364.4,1220.1 364.7,1221.8C365.1,1223.5 362.1,1225.8 360.7,1227.8C359.4,1229.8 357.1,1231.8 356.8,1233.7C356.4,1235.7 359.8,1237.4 358.8,1239.7C357.8,1242 352.5,1245.7 350.8,1247.7C349.1,1249.7 347.5,1250.3 348.8,1251.7C350.1,1253 354.8,1254.3 358.8,1255.6C362.7,1257 369,1257.6 372.7,1259.6C376.3,1261.6 378,1264.9 380.7,1267.6C383.3,1270.2 385.6,1273.2 388.6,1275.5C391.6,1277.9 394.9,1279.5 398.6,1281.5C402.2,1283.5 406.9,1285.2 410.5,1287.5C414.2,1289.8 417.8,1292.5 420.5,1295.4C423.1,1298.4 426.1,1302.1 426.4,1305.4C426.8,1308.7 424.8,1312.7 422.5,1315.4C420.1,1318 413.8,1319 412.5,1321.3C411.2,1323.6 412.5,1326.3 414.5,1329.3C416.5,1332.3 421.1,1336.2 424.4,1339.2C427.8,1342.2 433.4,1344.9 434.4,1347.2C435.4,1349.5 433.1,1351.5 430.4,1353.2C427.8,1354.8 422.8,1355.5 418.5,1357.1C414.2,1358.8 409.5,1361.1 404.5,1363.1C399.6,1365.1 393.6,1367.1 388.6,1369.1C383.6,1371.1 379.7,1373.1 374.7,1375.1C369.7,1377.1 364.7,1378.7 358.8,1381C352.8,1383.4 345.5,1386.7 338.9,1389C332.2,1391.3 325.6,1393.5 318.9,1395C312.3,1396.5 305.7,1397.3 299,1398C292.4,1398.6 285.8,1398.8 279.1,1398.9C272.5,1399.1 265.9,1399.1 259.2,1398.9C252.6,1398.8 246,1398.3 239.3,1398C232.7,1397.6 226.1,1397.5 219.4,1397C212.8,1396.5 206.2,1395.5 199.5,1395C192.9,1394.5 186.3,1394.6 179.6,1394C173,1393.3 164.4,1392.5 159.7,1391C155.1,1389.5 153.1,1387.3 151.8,1385C150.4,1382.7 152.4,1379.4 151.8,1377.1C151.1,1374.7 151.1,1373.1 147.8,1371.1C144.5,1369.1 136.5,1366.8 131.8,1365.1C127.2,1363.5 123.6,1362.5 119.9,1361.1C116.3,1359.8 112.4,1359.5 110,1357.1C107.5,1354.8 104.6,1350.2 105,1347.2Z"/><path class="c" d="M137.8,1347.2C137.8,1344.5 140.1,1342.9 143.8,1341.2C147.4,1339.6 153.7,1338.9 159.7,1337.2C165.7,1335.6 173,1333.3 179.6,1331.3C186.3,1329.3 192.9,1328 199.5,1325.3C206.2,1322.6 212.8,1319 219.4,1315.4C226.1,1311.7 233.4,1306.4 239.3,1303.4C245.3,1300.4 250.3,1299.3 255.3,1297.4C260.2,1295.6 265.2,1294.8 269.2,1292.5C273.2,1290.1 276.5,1286 279.1,1283.5C281.8,1281 284.4,1279.2 285.1,1277.5C285.8,1275.9 285.4,1274.2 283.1,1273.6C280.8,1272.9 275.2,1272.9 271.2,1273.6C267.2,1274.2 262.6,1277.2 259.2,1277.5C255.9,1277.9 253.1,1277.2 251.3,1275.5C249.4,1273.9 248.3,1269.9 248.3,1267.6C248.3,1265.3 248.8,1262.9 251.3,1261.6C253.8,1260.3 257.9,1260.3 263.2,1259.6C268.5,1259 277.1,1258.1 283.1,1257.6C289.1,1257.1 294.4,1256.6 299,1256.6C303.7,1256.6 307.3,1256.8 311,1257.6C314.6,1258.5 318.6,1259.9 320.9,1261.6C323.3,1263.3 325.6,1265.3 324.9,1267.6C324.3,1269.9 318.9,1272.6 317,1275.5C315,1278.5 313,1282.3 313,1285.5C313,1288.6 313,1292.6 317,1294.5C320.9,1296.3 329.9,1295.8 336.9,1296.4C343.8,1297.1 352.5,1297.6 358.8,1298.4C365.1,1299.3 370,1299.9 374.7,1301.4C379.3,1302.9 384,1305.1 386.6,1307.4C389.3,1309.7 390.6,1312.7 390.6,1315.4C390.6,1318 386.3,1320.7 386.6,1323.3C387,1326 390.6,1328.3 392.6,1331.3C394.6,1334.3 397.9,1337.9 398.6,1341.2C399.2,1344.5 398.6,1348.5 396.6,1351.2C394.6,1353.8 391.6,1354.8 386.6,1357.1C381.6,1359.5 373,1362.6 366.7,1365.1C360.4,1367.6 355.1,1369.9 348.8,1372.1C342.5,1374.2 335.5,1376.4 328.9,1378C322.3,1379.7 315.6,1380.9 309,1382C302.4,1383.1 295.7,1384 289.1,1384.6C282.5,1385.2 275.8,1385.5 269.2,1385.6C262.6,1385.7 255.9,1385.4 249.3,1385C242.6,1384.7 236,1383.9 229.4,1383.4C222.7,1382.9 215.1,1382.6 209.5,1382C203.8,1381.5 199.5,1381.2 195.5,1380C191.6,1378.9 188.9,1376.9 185.6,1375.1C182.3,1373.2 179.9,1371.1 175.6,1369.1C171.3,1367.1 165,1365.1 159.7,1363.1C154.4,1361.1 147.4,1359.8 143.8,1357.1C140.1,1354.5 137.8,1349.9 137.8,1347.2Z"/><path class="c" d="M153.7,1347.2C153.4,1345 156.1,1343.2 159.7,1341.2C163.4,1339.2 169.7,1337.1 175.6,1335.3C181.6,1333.4 188.9,1331.9 195.5,1330.3C202.2,1328.6 208.8,1327.1 215.4,1325.3C222.1,1323.5 228.7,1321.3 235.4,1319.3C242,1317.3 248.6,1315.2 255.3,1313.4C261.9,1311.5 268.5,1309.8 275.2,1308.4C281.8,1307 288.4,1306 295.1,1305C301.7,1304 308.3,1302.9 315,1302.4C321.6,1301.9 328.2,1301.7 334.9,1301.8C341.5,1301.9 349.1,1302.3 354.8,1303C360.4,1303.7 365.9,1304.6 368.7,1305.8C371.5,1307 372.7,1308.9 371.7,1310.4C370.7,1311.8 367.5,1313.2 362.7,1314.4C357.9,1315.5 348.8,1316.3 342.8,1317.3C336.9,1318.3 329.2,1319.2 326.9,1320.3C324.6,1321.5 325.3,1323.3 328.9,1324.3C332.6,1325.3 342.5,1325.8 348.8,1326.3C355.1,1326.8 361.7,1326.1 366.7,1327.3C371.7,1328.5 376,1330.6 378.7,1333.3C381.3,1335.9 382.6,1340.2 382.6,1343.2C382.6,1346.2 381.3,1348.9 378.7,1351.2C376,1353.5 371.4,1355.2 366.7,1357.1C362.1,1359.1 356.8,1361.1 350.8,1363.1C344.8,1365.1 337.5,1367.4 330.9,1369.1C324.3,1370.8 317.6,1372.1 311,1373.1C304.4,1374.1 297.7,1374.6 291.1,1375.1C284.4,1375.6 277.8,1375.9 271.2,1376.1C264.5,1376.2 257.9,1376.2 251.3,1376.1C244.6,1375.9 238,1375.6 231.4,1375.1C224.7,1374.6 217.1,1373.7 211.5,1373.1C205.8,1372.4 201.5,1372.4 197.5,1371.1C193.6,1369.8 191.2,1367.1 187.6,1365.1C183.9,1363.1 179.9,1361 175.6,1359.1C171.3,1357.3 165.4,1356.2 161.7,1354.2C158.1,1352.2 154.1,1349.4 153.7,1347.2Z"/><path class="c" d="M169.7,1347.2C169.5,1345.2 172,1343.1 175.6,1341.2C179.3,1339.4 185.6,1337.7 191.6,1336.2C197.5,1334.8 204.8,1333.6 211.5,1332.3C218.1,1330.9 224.7,1329.4 231.4,1328.3C238,1327.1 244.6,1326.1 251.3,1325.3C257.9,1324.5 264.5,1323.6 271.2,1323.3C277.8,1323 284.4,1323 291.1,1323.3C297.7,1323.6 304.4,1324.3 311,1325.3C317.6,1326.3 324.9,1327.6 330.9,1329.3C336.9,1330.9 343.2,1332.9 346.8,1335.3C350.5,1337.6 352.8,1340.6 352.8,1343.2C352.8,1345.9 350.1,1348.9 346.8,1351.2C343.5,1353.5 338.2,1355.3 332.9,1357.1C327.6,1359 321.3,1360.6 315,1362.1C308.7,1363.6 301.7,1365.1 295.1,1366.1C288.4,1367.1 281.8,1367.8 275.2,1368.1C268.5,1368.4 261.9,1368.3 255.3,1368.1C248.6,1367.9 242,1367.6 235.4,1367.1C228.7,1366.6 221.4,1365.8 215.4,1365.1C209.5,1364.4 204.2,1364.3 199.5,1363.1C194.9,1362 191.4,1359.8 187.6,1358.1C183.8,1356.5 179.6,1355 176.6,1353.2C173.6,1351.3 169.8,1349.2 169.7,1347.2Z"/><path class="c" d="M183.6,1347.2C183.3,1345.4 186.3,1342.9 189.6,1341.2C192.9,1339.6 198.5,1338.4 203.5,1337.2C208.5,1336.1 213.5,1335.2 219.4,1334.3C225.4,1333.3 232.7,1332.3 239.3,1331.7C246,1331 252.6,1330.5 259.2,1330.3C265.9,1330 272.5,1329.9 279.1,1330.3C285.8,1330.6 293.1,1331.1 299,1332.3C305,1333.4 311.3,1335.3 315,1337.2C318.6,1339.2 320.9,1341.9 320.9,1344.2C320.9,1346.5 318.3,1349.4 315,1351.2C311.7,1353 306.3,1354 301,1355.2C295.7,1356.3 289.4,1357.3 283.1,1358.1C276.8,1359 269.9,1359.8 263.2,1360.1C256.6,1360.5 249.9,1360.4 243.3,1360.1C236.7,1359.9 229.7,1359.4 223.4,1358.7C217.1,1358.1 210.8,1357.2 205.5,1356.2C200.2,1355.1 195.2,1353.7 191.6,1352.2C187.9,1350.7 183.9,1349 183.6,1347.2Z"/><path class="c" d="M195.5,1347.2C195.5,1345.5 196.9,1342.7 199.5,1341.2C202.2,1339.7 206.8,1339.2 211.5,1338.2C216.1,1337.3 221.7,1336.3 227.4,1335.7C233,1335 239.3,1334.5 245.3,1334.3C251.3,1334 257.2,1333.9 263.2,1334.3C269.2,1334.6 275.8,1335.1 281.1,1336.2C286.4,1337.4 292.1,1339.4 295.1,1341.2C298,1343.1 299.4,1345.2 299,1347.2C298.7,1349.2 296.4,1351.7 293.1,1353.2C289.8,1354.7 284.4,1355.4 279.1,1356.2C273.8,1356.9 267.2,1357.5 261.2,1357.7C255.3,1358 249.3,1358 243.3,1357.7C237.3,1357.5 231,1356.9 225.4,1356.2C219.8,1355.4 213.8,1354 209.5,1353.2C205.2,1352.3 201.8,1352.2 199.5,1351.2C197.2,1350.2 195.5,1348.9 195.5,1347.2Z"/><path class="c" d="M205.5,1347.2C204.7,1345.5 206.8,1343 209.5,1341.6C212.1,1340.2 216.8,1339.6 221.4,1338.8C226.1,1338.1 232,1337.5 237.3,1337.2C242.6,1337 248,1336.9 253.3,1337.2C258.6,1337.6 264.9,1338.1 269.2,1339.2C273.5,1340.4 277.3,1342.6 279.1,1344.2C281,1345.9 281.1,1347.7 280.1,1349.2C279.1,1350.7 276.7,1352.2 273.2,1353.2C269.7,1354.2 264.2,1354.8 259.2,1355.2C254.3,1355.6 248.6,1355.7 243.3,1355.6C238,1355.4 232.2,1355 227.4,1354.4C222.6,1353.7 218.1,1352.8 214.5,1351.6C210.8,1350.4 206.3,1348.9 205.5,1347.2Z"/><path class="c" d="M215.4,1347.2C215.4,1345.9 216.8,1343.4 219.4,1342.2C222.1,1341 226.7,1340.3 231.4,1339.8C236,1339.3 242.3,1339.1 247.3,1339.2C252.3,1339.4 257.6,1339.8 261.2,1340.8C264.9,1341.8 268.2,1343.6 269.2,1345.2C270.2,1346.8 269.2,1348.9 267.2,1350.2C265.2,1351.4 261.2,1352.3 257.2,1352.8C253.3,1353.3 248,1353.3 243.3,1353.2C238.7,1353.1 233.4,1352.7 229.4,1352.2C225.4,1351.7 221.7,1351 219.4,1350.2C217.1,1349.4 215.4,1348.5 215.4,1347.2Z"/><path class="c" d="M224.4,1348.2C224.6,1346.9 225.9,1344.7 228.4,1343.6C230.9,1342.5 235.2,1342 239.3,1341.6C243.5,1341.3 249,1341.2 253.3,1341.6C257.6,1342.1 262.4,1343.2 265.2,1344.2C268,1345.2 270.2,1346.4 270.2,1347.6C270.2,1348.8 268.4,1350.6 265.2,1351.6C262.1,1352.6 255.9,1353.2 251.3,1353.6C246.6,1353.9 241.3,1353.9 237.3,1353.6C233.4,1353.2 229.5,1352.5 227.4,1351.6C225.2,1350.7 224.2,1349.5 224.4,1348.2Z"/><path class="c" d="M305.6,1265.6C305.6,1266 305.1,1266.6 304.4,1266.9C303.7,1267.2 302.4,1267.4 301.4,1267.4C300.4,1267.4 299.2,1267.2 298.5,1266.9C297.8,1266.6 297.2,1266 297.2,1265.6C297.2,1265.2 297.8,1264.6 298.5,1264.3C299.2,1264 300.4,1263.8 301.4,1263.8C302.4,1263.8 303.7,1264 304.4,1264.3C305.1,1264.6 305.6,1265.2 305.6,1265.6Z"/><path class="c" d="M316,1320.7C316,1320.9 315.5,1321.1 315,1321.2C314.5,1321.2 313.5,1321.2 313,1321.2C312.5,1321.1 312,1320.9 312,1320.7C312,1320.6 312.5,1320.4 313,1320.3C313.5,1320.2 314.5,1320.2 315,1320.3C315.5,1320.4 316,1320.6 316,1320.7Z"/><line class="dg" x1="85.1" y1="1484.5" x2="466.7" y2="1124.3"/><rect class="fr" x="85.1" y="1124.3" width="381.6" height="360.2"/><text class="tt" x="275.9" y="1081.4">Seed length</text><text class="tt" x="275.9" y="1115.8">r = 0.28</text><text class="tx" x="151.4" y="1517.4">0</text><text class="tx" x="255.7" y="1517.4">1</text><text class="tx" x="360.1" y="1517.4">2</text><text class="tx" x="464.4" y="1517.4">3</text><text class="ty" x="71.5" y="1430.9">0</text><text class="ty" x="71.5" y="1332.4">1</text><text class="ty" x="71.5" y="1233.9">2</text><text class="ty" x="71.5" y="1135.4">3</text><text class="lb" x="275.9" y="1548.6">sPlotOpen plot</text><text class="lb" transform="translate(43.8,1304.4) rotate(-90)">iNaturalist obs. mean</text></g>
<g><path class="c" d="M648.9,1358C649.2,1356.4 651.3,1354 654.3,1352.7C657.3,1351.3 661.7,1351 666.8,1350C671.8,1349 678.7,1348.2 684.6,1346.4C690.6,1344.6 696.5,1342 702.5,1339.3C708.5,1336.6 715.6,1332.7 720.4,1330.4C725.1,1328 728.4,1326.9 731.1,1325C733.8,1323.1 736.4,1320.5 736.4,1318.8C736.4,1317 731.7,1315.6 731.1,1314.3C730.5,1312.9 730.2,1312.2 732.9,1310.7C735.5,1309.2 742.4,1307.4 747.1,1305.4C751.9,1303.3 756.7,1300.3 761.4,1298.2C766.2,1296.1 771.5,1294.9 775.7,1292.9C779.9,1290.8 782.9,1287.8 786.4,1285.7C790,1283.6 793.3,1281.8 797.1,1280.4C801,1278.9 806.1,1278.3 809.6,1276.8C813.2,1275.3 816.5,1273.5 818.6,1271.4C820.7,1269.3 822.4,1266.4 822.1,1264.3C821.8,1262.2 818.9,1260.4 816.8,1258.9C814.7,1257.4 810.5,1256.8 809.6,1255.4C808.8,1253.9 809.9,1251.5 811.4,1250C812.9,1248.5 815,1247.6 818.6,1246.4C822.1,1245.2 828.1,1243.8 832.9,1242.9C837.6,1242 842.4,1241.8 847.1,1241.1C851.9,1240.3 856.7,1239.4 861.4,1238.4C866.2,1237.4 871,1235.7 875.7,1234.8C880.5,1233.9 885.2,1233.2 890,1233C894.8,1232.9 899.8,1232.9 904.3,1233.9C908.7,1235 912.9,1237.5 916.8,1239.3C920.7,1241.1 924.5,1243 927.5,1244.6C930.5,1246.3 933.8,1247.6 934.6,1249.1C935.5,1250.6 934.3,1251.9 932.9,1253.6C931.4,1255.2 927.2,1256.8 925.7,1258.9C924.2,1261 923.9,1263.4 923.9,1266.1C923.9,1268.8 924.2,1272 925.7,1275C927.2,1278 931.1,1281 932.9,1283.9C934.6,1286.9 935.5,1289.3 936.4,1292.9C937.3,1296.4 938.1,1301.2 938.2,1305.4C938.4,1309.5 937.9,1314 937.3,1317.9C936.7,1321.7 936,1325 934.6,1328.6C933.3,1332.1 931.4,1336.9 929.3,1339.3C927.2,1341.7 923.9,1341.1 922.1,1342.9C920.4,1344.6 920.1,1347.3 918.6,1350C917.1,1352.7 915.6,1356 913.2,1358.9C910.8,1361.9 908.2,1365.2 904.3,1367.9C900.4,1370.5 895.4,1372.9 890,1375C884.6,1377.1 878.1,1378.9 872.1,1380.4C866.2,1381.8 860.2,1383.2 854.3,1383.9C848.3,1384.7 842.4,1384.8 836.4,1384.8C830.5,1384.8 824.5,1384.4 818.6,1383.9C812.6,1383.5 806.7,1382.7 800.7,1382.1C794.8,1381.5 788.8,1381 782.9,1380.4C776.9,1379.8 771,1379.2 765,1378.6C759,1378 753.1,1377.7 747.1,1376.8C741.2,1375.9 735.2,1374.4 729.3,1373.2C723.3,1372 717.4,1370.5 711.4,1369.6C705.5,1368.8 699.5,1368.5 693.6,1367.9C687.6,1367.3 680.8,1366.8 675.7,1366.1C670.7,1365.3 667.1,1364 663.2,1363.4C659.3,1362.8 654.9,1363.4 652.5,1362.5C650.1,1361.6 648.6,1359.7 648.9,1358Z"/><path class="c" d="M698,1358.9C698.5,1357.6 700.9,1356 704.3,1354.5C707.7,1353 713.2,1351.6 718.6,1350C723.9,1348.4 730.5,1347 736.4,1344.6C742.4,1342.3 748.3,1339 754.3,1335.7C760.2,1332.4 766.8,1328.3 772.1,1325C777.5,1321.7 781.7,1318.8 786.4,1316.1C791.2,1313.4 796.2,1311.3 800.7,1308.9C805.2,1306.5 809,1304.2 813.2,1301.8C817.4,1299.4 821.8,1297.3 825.7,1294.6C829.6,1292 832.9,1288.7 836.4,1285.7C840,1282.7 842.7,1279.2 847.1,1276.8C851.6,1274.4 857.6,1272.8 863.2,1271.4C868.9,1270.1 875.4,1269 881.1,1268.8C886.7,1268.5 892.7,1268.9 897.1,1269.6C901.6,1270.4 904.3,1271.7 907.9,1273.2C911.4,1274.7 916.2,1276.2 918.6,1278.6C921,1281 921.2,1283.9 922.1,1287.5C923,1291.1 923.9,1296.1 923.9,1300C923.9,1303.9 922.4,1307.1 922.1,1310.7C921.8,1314.3 922.7,1317.9 922.1,1321.4C921.5,1325 920.4,1329.2 918.6,1332.1C916.8,1335.1 913.8,1336.3 911.4,1339.3C909,1342.3 907,1346.4 904.3,1350C901.6,1353.6 898.9,1357.7 895.4,1360.7C891.8,1363.7 887.3,1365.8 882.9,1367.9C878.4,1369.9 873.9,1371.9 868.6,1373.2C863.2,1374.6 856.7,1375.3 850.7,1375.9C844.8,1376.5 838.8,1376.8 832.9,1376.8C826.9,1376.8 821,1376.2 815,1375.9C809,1375.6 803.1,1375.3 797.1,1375C791.2,1374.7 785.2,1374.6 779.3,1374.1C773.3,1373.7 767.4,1372.9 761.4,1372.3C755.5,1371.7 749.5,1371.3 743.6,1370.5C737.6,1369.8 731.1,1368.8 725.7,1367.9C720.4,1367 715.4,1366.1 711.4,1365.2C707.4,1364.3 703.8,1363.5 701.6,1362.5C699.4,1361.5 697.6,1360.3 698,1358.9Z"/><path class="c" d="M720.4,1358.9C720.4,1357.7 722.4,1356 725.7,1354.5C729,1353 734.6,1351.9 740,1350C745.4,1348.1 751.9,1345.8 757.9,1342.9C763.8,1339.9 770.4,1335.1 775.7,1332.1C781.1,1329.2 785.2,1327.2 790,1325C794.8,1322.8 799.5,1321.1 804.3,1318.8C809,1316.4 813.8,1313.2 818.6,1310.7C823.3,1308.2 828.7,1306 832.9,1303.6C837,1301.2 841.2,1299.4 843.6,1296.4C846,1293.5 845.4,1288.4 847.1,1285.7C848.9,1283 850.7,1281.5 854.3,1280.4C857.9,1279.2 864.1,1278.3 868.6,1278.6C873,1278.9 876.9,1280.7 881.1,1282.1C885.2,1283.6 890,1285.4 893.6,1287.5C897.1,1289.6 900.1,1291.7 902.5,1294.6C904.9,1297.6 907,1301.5 907.9,1305.4C908.8,1309.2 908.5,1314 907.9,1317.9C907.3,1321.7 906.1,1325.6 904.3,1328.6C902.5,1331.5 898.9,1332.7 897.1,1335.7C895.4,1338.7 895.4,1342.9 893.6,1346.4C891.8,1350 889.7,1354.2 886.4,1357.1C883.2,1360.1 878.7,1362.4 873.9,1364.3C869.2,1366.2 863.5,1367.7 857.9,1368.8C852.2,1369.8 846,1370.2 840,1370.5C834,1370.8 828.1,1370.7 822.1,1370.5C816.2,1370.4 810.2,1370.1 804.3,1369.6C798.3,1369.2 792.4,1368.5 786.4,1367.9C780.5,1367.3 774.5,1366.7 768.6,1366.1C762.6,1365.5 756.1,1364.9 750.7,1364.3C745.4,1363.7 740.6,1362.9 736.4,1362.5C732.3,1362.1 728.4,1362.2 725.7,1361.6C723,1361 720.4,1360.1 720.4,1358.9Z"/><path class="c" d="M732.9,1359.8C733.2,1358.8 735.2,1356.8 738.2,1355.4C741.2,1353.9 745.7,1352.7 750.7,1350.9C755.8,1349.1 762.6,1347.2 768.6,1344.6C774.5,1342.1 781.1,1338.4 786.4,1335.7C791.8,1333 796,1331 800.7,1328.6C805.5,1326.2 810.2,1324.1 815,1321.4C819.8,1318.8 824.8,1315.5 829.3,1312.5C833.8,1309.5 837.6,1306 841.8,1303.6C846,1301.2 849.8,1299.4 854.3,1298.2C858.8,1297 863.8,1296.9 868.6,1296.4C873.3,1296 878.7,1295.2 882.9,1295.5C887,1295.8 891.2,1297.2 893.6,1298.2C896,1299.3 897.4,1300.3 897.1,1301.8C896.8,1303.3 893.3,1304.5 891.8,1307.1C890.3,1309.8 888.8,1313.7 888.2,1317.9C887.6,1322 888.8,1328 888.2,1332.1C887.6,1336.3 886.4,1339.3 884.6,1342.9C882.9,1346.4 880.5,1350.6 877.5,1353.6C874.5,1356.5 871.2,1358.8 866.8,1360.7C862.3,1362.6 856.4,1364.1 850.7,1365.2C845.1,1366.2 838.8,1366.7 832.9,1367C826.9,1367.3 821,1367.1 815,1367C809,1366.8 803.1,1366.5 797.1,1366.1C791.2,1365.7 785.2,1365.1 779.3,1364.6C773.3,1364.2 766.8,1363.8 761.4,1363.4C756.1,1363 751.3,1362.8 747.1,1362.5C743,1362.2 738.8,1362.1 736.4,1361.6C734,1361.2 732.6,1360.9 732.9,1359.8Z"/><path class="c" d="M741.8,1359.8C741.5,1358.9 744.2,1356.7 747.1,1355.4C750.1,1354 754.6,1353.3 759.6,1351.8C764.7,1350.3 771.8,1348.5 777.5,1346.4C783.2,1344.3 788.8,1341.7 793.6,1339.3C798.3,1336.9 801.9,1334.7 806.1,1332.1C810.2,1329.6 814.4,1326.8 818.6,1324.1C822.7,1321.4 827.2,1318.3 831.1,1316.1C834.9,1313.8 837.9,1312.1 841.8,1310.7C845.7,1309.4 850.4,1308 854.3,1308C858.2,1308 862.3,1309.1 865,1310.7C867.7,1312.4 869.5,1314.9 870.4,1317.9C871.2,1320.8 869.8,1325 870.4,1328.6C871,1332.1 873.6,1335.7 873.9,1339.3C874.2,1342.9 873.6,1347 872.1,1350C870.7,1353 868.6,1355.2 865,1357.1C861.4,1359.1 856.1,1360.6 850.7,1361.6C845.4,1362.6 838.8,1363.1 832.9,1363.4C826.9,1363.7 821,1363.5 815,1363.4C809,1363.3 803.1,1363.1 797.1,1362.9C791.2,1362.6 785.2,1362.4 779.3,1362.1C773.3,1361.9 766.5,1361.8 761.4,1361.6C756.4,1361.4 752.2,1361.4 748.9,1361.1C745.7,1360.8 742.1,1360.8 741.8,1359.8Z"/><path class="c" d="M747.1,1359.8C745.7,1359 749.5,1356.5 752.5,1355.4C755.5,1354.2 759.9,1353.9 765,1352.7C770.1,1351.5 777.5,1349.9 782.9,1348.2C788.2,1346.6 792.7,1344.6 797.1,1342.9C801.6,1341.1 805.5,1339.6 809.6,1337.5C813.8,1335.4 818.3,1332.7 822.1,1330.4C826,1328 829.6,1325.3 832.9,1323.2C836.1,1321.1 838.8,1319 841.8,1317.9C844.8,1316.7 848,1315.8 850.7,1316.1C853.4,1316.4 856.1,1317.6 857.9,1319.6C859.6,1321.7 860.5,1325.3 861.4,1328.6C862.3,1331.8 862.6,1335.7 863.2,1339.3C863.8,1342.9 865.6,1347 865,1350C864.4,1353 862.6,1355.4 859.6,1357.1C856.7,1358.8 851.9,1359.4 847.1,1360.2C842.4,1360.9 836.7,1361.4 831.1,1361.6C825.4,1361.8 819.2,1361.7 813.2,1361.6C807.3,1361.5 801.3,1361.4 795.4,1361.2C789.4,1361.1 783.2,1360.9 777.5,1360.7C771.8,1360.6 766.5,1360.5 761.4,1360.4C756.4,1360.2 748.6,1360.7 747.1,1359.8Z"/><path class="c" d="M752.5,1359.8C751.6,1359.2 754.9,1357.3 757.9,1356.2C760.8,1355.2 765.6,1354.5 770.4,1353.6C775.1,1352.7 781.4,1351.8 786.4,1350.9C791.5,1350 796,1349.2 800.7,1348.2C805.5,1347.2 810.2,1345.8 815,1345C819.8,1344.2 824.5,1343.6 829.3,1343.2C834,1342.9 839.4,1342.6 843.6,1342.9C847.7,1343.1 851.6,1343.5 854.3,1344.6C857,1345.8 859,1348.1 859.6,1350C860.2,1351.9 859.9,1354.7 857.9,1356.2C855.8,1357.8 851.6,1358.6 847.1,1359.3C842.7,1360 836.7,1360.1 831.1,1360.4C825.4,1360.6 819.2,1360.7 813.2,1360.7C807.3,1360.7 801.3,1360.5 795.4,1360.4C789.4,1360.2 782.9,1360.1 777.5,1360C772.1,1359.9 767.4,1360 763.2,1360C759,1360 753.4,1360.4 752.5,1359.8Z"/><path class="c" d="M765,1358.9C764.4,1358 767.1,1356.4 770.4,1355.4C773.6,1354.3 779.3,1353.3 784.6,1352.7C790,1352 796.5,1351.6 802.5,1351.4C808.5,1351.2 814.7,1351.2 820.4,1351.4C826,1351.6 832.6,1351.9 836.4,1352.7C840.3,1353.5 843,1355.1 843.6,1356.2C844.2,1357.4 843,1358.5 840,1359.3C837,1360 831.1,1360.4 825.7,1360.7C820.4,1361 813.8,1361 807.9,1361.1C801.9,1361.1 795.7,1361.1 790,1361.1C784.3,1361 778.1,1361.1 773.9,1360.7C769.8,1360.4 765.6,1359.8 765,1358.9Z"/><path class="c" d="M781.1,1358C781.1,1357.1 783.2,1355.7 786.4,1355C789.7,1354.3 795.4,1353.9 800.7,1353.6C806.1,1353.3 812.9,1353.2 818.6,1353.2C824.2,1353.3 830.8,1353.3 834.6,1353.9C838.5,1354.6 841.5,1356.1 841.8,1357.1C842.1,1358.2 840.3,1359.6 836.4,1360.4C832.6,1361.1 824.5,1361.4 818.6,1361.6C812.6,1361.8 806.1,1361.8 800.7,1361.6C795.4,1361.5 789.7,1361.3 786.4,1360.7C783.2,1360.1 781.1,1359 781.1,1358Z"/><path class="c" d="M837.3,1331.2C837.6,1330 839.6,1327.8 841.8,1326.8C844,1325.7 848,1325 850.7,1325C853.4,1325 856.2,1325.7 857.9,1326.8C859.5,1327.8 860.8,1329.9 860.5,1331.2C860.2,1332.6 858.3,1334.1 856.1,1334.8C853.8,1335.6 849.8,1335.8 847.1,1335.7C844.5,1335.6 841.6,1335 840,1334.3C838.4,1333.5 837,1332.5 837.3,1331.2Z"/><path class="c" d="M859.6,1251.8C860.2,1250.2 862,1247.1 865,1245.5C868,1244 873,1242.9 877.5,1242.5C882,1242.1 887.9,1242.1 891.8,1242.9C895.7,1243.7 898.9,1245.7 900.7,1247.3C902.5,1249 903.4,1251 902.5,1252.7C901.6,1254.3 898.6,1256.2 895.4,1257.1C892.1,1258.1 887.3,1258.5 882.9,1258.6C878.4,1258.6 872.1,1258.1 868.6,1257.5C865,1256.9 862.9,1256 861.4,1255C859.9,1254 859,1253.4 859.6,1251.8Z"/><line class="dg" x1="612.6" y1="1484.5" x2="994.2" y2="1124.3"/><rect class="fr" x="612.6" y="1124.3" width="381.6" height="360.2"/><text class="tt" x="803.4" y="1081.4">LDMC</text><text class="tt" x="803.4" y="1115.8">r = 0.42</text><text class="tx" x="669.5" y="1517.4">−2</text><text class="tx" x="857.4" y="1517.4">−1</text><text class="ty" x="599" y="1439.7">−2.0</text><text class="ty" x="599" y="1351">−1.5</text><text class="ty" x="599" y="1262.3">−1.0</text><text class="ty" x="599" y="1173.6">−0.5</text><text class="lb" x="803.4" y="1548.6">sPlotOpen plot</text><text class="lb" transform="translate(527.4,1304.4) rotate(-90)">iNaturalist obs. mean</text></g>
<g><path class="c" d="M1173.6,1360.1C1174.2,1357.8 1177.5,1355.8 1180.2,1353.4C1182.9,1351 1188.3,1349.3 1189.7,1345.8C1191.2,1342.3 1188.2,1336.6 1188.8,1332.5C1189.4,1328.3 1191.5,1324.2 1193.5,1321C1195.6,1317.9 1199.6,1316 1201.2,1313.4C1202.7,1310.9 1201.2,1308.4 1203.1,1305.8C1205,1303.3 1208.5,1300.4 1212.6,1298.2C1216.7,1296 1223,1294.4 1227.8,1292.5C1232.6,1290.6 1237.6,1289 1241.1,1286.8C1244.6,1284.6 1247.5,1281.7 1248.7,1279.2C1250,1276.6 1247.8,1274.1 1248.7,1271.6C1249.7,1269 1250.9,1266.2 1254.4,1264C1257.9,1261.7 1264,1260.1 1269.7,1258.2C1275.4,1256.3 1282.3,1254.4 1288.7,1252.5C1295,1250.6 1301.4,1249.4 1307.7,1246.8C1314.1,1244.3 1321.4,1239.8 1326.8,1237.3C1332.1,1234.8 1335.3,1233.1 1340.1,1231.6C1344.8,1230.1 1350.2,1229.5 1355.3,1228.4C1360.4,1227.3 1367,1225.9 1370.5,1224.9C1374.1,1224 1376.3,1223.2 1376.6,1222.5C1376.9,1221.8 1374.7,1220.7 1372.4,1220.8C1370.1,1220.9 1367,1222.2 1362.9,1223C1358.8,1223.8 1352.4,1225.7 1347.7,1225.5C1342.9,1225.4 1337.7,1223.6 1334.4,1222.1C1331,1220.6 1328.3,1218.3 1327.7,1216.4C1327.1,1214.5 1328.2,1212.6 1330.6,1210.7C1332.9,1208.8 1336.9,1207 1342,1205C1347,1202.9 1354.3,1200.2 1361,1198.3C1367.7,1196.4 1376.2,1195.3 1381.9,1193.5C1387.6,1191.8 1391.8,1190.1 1395.3,1187.8C1398.7,1185.6 1400.3,1182.3 1402.9,1180.2C1405.4,1178.2 1407.9,1175.8 1410.5,1175.5C1413,1175.1 1415.9,1176.6 1418.1,1178.3C1420.3,1180.1 1420.9,1184.2 1423.8,1185.9C1426.7,1187.7 1430.8,1188.8 1435.2,1188.8C1439.7,1188.8 1446,1186.7 1450.4,1185.9C1454.9,1185.1 1458.1,1183.9 1461.9,1184C1465.7,1184.2 1470.1,1185 1473.3,1186.9C1476.4,1188.8 1479.6,1192.1 1480.9,1195.4C1482.2,1198.8 1481.8,1203.4 1480.9,1206.9C1479.9,1210.4 1478,1214.3 1475.2,1216.4C1472.3,1218.4 1467.9,1219.2 1463.8,1219.2C1459.6,1219.2 1454.2,1217.2 1450.4,1216.4C1446.6,1215.6 1443.8,1214.5 1440.9,1214.5C1438.1,1214.5 1434.9,1214.8 1433.3,1216.4C1431.7,1218 1433,1221.1 1431.4,1224C1429.8,1226.8 1425.4,1230.7 1423.8,1233.5C1422.2,1236.4 1421.3,1238.9 1421.9,1241.1C1422.5,1243.3 1424.4,1245.2 1427.6,1246.8C1430.8,1248.4 1436.2,1249 1440.9,1250.6C1445.7,1252.2 1451.4,1254.4 1456.2,1256.3C1460.9,1258.2 1465.3,1260.1 1469.5,1262.1C1473.6,1264 1480.3,1266.2 1480.9,1267.8C1481.5,1269.3 1477.1,1270.3 1473.3,1271.6C1469.5,1272.8 1462.2,1273.5 1458.1,1275.4C1453.9,1277.3 1451.1,1280.1 1448.5,1283C1446,1285.8 1443.5,1289.3 1442.8,1292.5C1442.2,1295.7 1445.4,1298.8 1444.7,1302C1444.1,1305.2 1441.6,1308 1439,1311.5C1436.5,1315 1433,1319.5 1429.5,1322.9C1426,1326.4 1420.9,1329 1418.1,1332.5C1415.2,1335.9 1413.7,1340.4 1412.4,1343.9C1411.1,1347.4 1410.2,1350.9 1410.5,1353.4C1410.8,1355.9 1415.2,1357.5 1414.3,1359.1C1413.3,1360.7 1408.9,1361.6 1404.8,1362.9C1400.6,1364.2 1395.3,1365.1 1389.5,1366.7C1383.8,1368.3 1376.9,1370.8 1370.5,1372.4C1364.2,1374 1357.8,1375 1351.5,1376.2C1345.1,1377.5 1338.8,1378.8 1332.5,1380C1326.1,1381.3 1319.8,1382.9 1313.4,1383.8C1307.1,1384.8 1300.7,1385.3 1294.4,1385.7C1288.1,1386.2 1281.7,1386.5 1275.4,1386.7C1269,1386.9 1262.1,1386.9 1256.3,1386.7C1250.6,1386.5 1246.8,1386.5 1241.1,1385.7C1235.4,1384.9 1228.4,1383.5 1222.1,1381.9C1215.7,1380.4 1208.8,1378.1 1203.1,1376.2C1197.4,1374.3 1192.3,1372.1 1187.8,1370.5C1183.4,1368.9 1178.8,1368.5 1176.4,1366.7C1174,1365 1172.9,1362.3 1173.6,1360.1Z"/><path class="c" d="M1206.9,1362.9C1205.6,1360.1 1210,1356.6 1212.6,1353.4C1215.1,1350.2 1219.2,1347 1222.1,1343.9C1224.9,1340.7 1227.5,1337.5 1229.7,1334.4C1231.9,1331.2 1233.2,1328 1235.4,1324.8C1237.6,1321.7 1239.8,1318.5 1243,1315.3C1246.2,1312.2 1250,1308.7 1254.4,1305.8C1258.9,1303 1264,1300.1 1269.7,1298.2C1275.4,1296.3 1282.3,1296 1288.7,1294.4C1295,1292.8 1303.3,1291.2 1307.7,1288.7C1312.2,1286.2 1313.1,1282 1315.3,1279.2C1317.6,1276.3 1318.2,1274.1 1321,1271.6C1323.9,1269 1328.3,1266.2 1332.5,1264C1336.6,1261.7 1341.3,1260 1345.8,1258.2C1350.2,1256.5 1355,1254.6 1359.1,1253.5C1363.2,1252.4 1366.7,1251.7 1370.5,1251.6C1374.3,1251.4 1378.4,1251.4 1381.9,1252.5C1385.4,1253.6 1388.6,1256.7 1391.5,1258.2C1394.3,1259.8 1395.9,1261.3 1399.1,1262.1C1402.2,1262.8 1406.7,1262.4 1410.5,1263C1414.3,1263.6 1419.4,1264.7 1421.9,1265.9C1424.4,1267 1426,1268.4 1425.7,1269.7C1425.4,1270.9 1423.8,1272.5 1420,1273.5C1416.2,1274.4 1408.6,1275.1 1402.9,1275.4C1397.2,1275.7 1389.9,1274.7 1385.7,1275.4C1381.6,1276 1379.7,1276.6 1378.1,1279.2C1376.5,1281.7 1375.9,1286.8 1376.2,1290.6C1376.5,1294.4 1377.8,1298.2 1380,1302C1382.3,1305.8 1387.6,1309.3 1389.5,1313.4C1391.5,1317.6 1391.8,1322.3 1391.5,1326.8C1391.1,1331.2 1388.6,1335.6 1387.6,1340.1C1386.7,1344.5 1387,1349.6 1385.7,1353.4C1384.5,1357.2 1383.2,1360.7 1380,1362.9C1376.9,1365.1 1372.1,1365.4 1366.7,1366.7C1361.3,1368 1354,1369.2 1347.7,1370.5C1341.3,1371.8 1335,1373.2 1328.7,1374.3C1322.3,1375.4 1316,1376.2 1309.6,1377.2C1303.3,1378.1 1296.9,1379.4 1290.6,1380C1284.3,1380.7 1277.9,1381 1271.6,1381C1265.2,1381 1258.6,1380.8 1252.5,1380C1246.5,1379.2 1240.8,1377.8 1235.4,1376.2C1230,1374.6 1224.9,1372.7 1220.2,1370.5C1215.4,1368.3 1208.1,1365.8 1206.9,1362.9Z"/><path class="c" d="M1222.1,1361C1221.5,1358.5 1224,1355 1225.9,1351.5C1227.8,1348 1231,1343.9 1233.5,1340.1C1236,1336.3 1238.3,1332.5 1241.1,1328.7C1244,1324.8 1246.8,1320.7 1250.6,1317.2C1254.4,1313.7 1259.2,1310.6 1264,1307.7C1268.7,1304.9 1273.5,1302 1279.2,1300.1C1284.9,1298.2 1291.9,1297.6 1298.2,1296.3C1304.5,1295 1310.9,1293.4 1317.2,1292.5C1323.6,1291.5 1331.2,1290.8 1336.3,1290.6C1341.3,1290.4 1344.2,1290.3 1347.7,1291.5C1351.2,1292.8 1354,1295.5 1357.2,1298.2C1360.4,1300.9 1364.2,1304.2 1366.7,1307.7C1369.2,1311.2 1371.5,1315 1372.4,1319.1C1373.4,1323.3 1372.1,1328.3 1372.4,1332.5C1372.7,1336.6 1374.3,1340.4 1374.3,1343.9C1374.3,1347.4 1374,1350.5 1372.4,1353.4C1370.8,1356.2 1368.3,1359.1 1364.8,1361C1361.3,1362.9 1356.9,1363.5 1351.5,1364.8C1346.1,1366.1 1338.8,1367.5 1332.5,1368.6C1326.1,1369.7 1319.8,1370.5 1313.4,1371.5C1307.1,1372.4 1300.7,1373.5 1294.4,1374.3C1288.1,1375.1 1281.7,1376.1 1275.4,1376.2C1269,1376.4 1262.1,1376.1 1256.3,1375.3C1250.6,1374.5 1245.6,1372.9 1241.1,1371.5C1236.7,1370 1232.9,1368.5 1229.7,1366.7C1226.5,1365 1222.7,1363.5 1222.1,1361Z"/><path class="c" d="M1231.6,1359.1C1231.3,1356.4 1233.2,1351.5 1235.4,1347.7C1237.6,1343.9 1241.4,1340.1 1244.9,1336.3C1248.4,1332.5 1251.9,1328.3 1256.3,1324.8C1260.8,1321.4 1266.5,1318.2 1271.6,1315.3C1276.6,1312.5 1281.7,1309.8 1286.8,1307.7C1291.9,1305.7 1296.9,1304.1 1302,1303C1307.1,1301.9 1312.2,1301.2 1317.2,1301.1C1322.3,1300.9 1327.7,1300.9 1332.5,1302C1337.2,1303.1 1342.3,1305.2 1345.8,1307.7C1349.3,1310.3 1351.8,1313.4 1353.4,1317.2C1355,1321 1355,1326.1 1355.3,1330.6C1355.6,1335 1356.2,1340.1 1355.3,1343.9C1354.3,1347.7 1352.4,1350.9 1349.6,1353.4C1346.7,1355.9 1342.9,1357.5 1338.2,1359.1C1333.4,1360.7 1327.1,1361.8 1321,1362.9C1315,1364 1308.4,1364.8 1302,1365.8C1295.7,1366.7 1289.3,1368 1283,1368.6C1276.6,1369.2 1269.7,1369.7 1264,1369.6C1258.2,1369.4 1253.2,1368.6 1248.7,1367.7C1244.3,1366.7 1240.2,1365.3 1237.3,1363.9C1234.5,1362.4 1231.9,1361.8 1231.6,1359.1Z"/><path class="c" d="M1237.3,1359.1C1237,1357 1238.9,1352.8 1241.1,1349.6C1243.3,1346.4 1246.8,1342.9 1250.6,1340.1C1254.4,1337.2 1259.2,1335 1264,1332.5C1268.7,1329.9 1274.7,1327.4 1279.2,1324.8C1283.6,1322.3 1287.1,1319.5 1290.6,1317.2C1294.1,1315 1296.3,1313.1 1300.1,1311.5C1303.9,1309.9 1308.7,1308.2 1313.4,1307.7C1318.2,1307.2 1324.2,1307.4 1328.7,1308.7C1333.1,1309.9 1337.5,1312.3 1340.1,1315.3C1342.6,1318.3 1343.6,1322.6 1343.9,1326.8C1344.2,1330.9 1343.2,1336.3 1342,1340.1C1340.7,1343.9 1339.1,1347 1336.3,1349.6C1333.4,1352.1 1329.3,1353.7 1324.8,1355.3C1320.4,1356.9 1315.3,1358 1309.6,1359.1C1303.9,1360.2 1296.9,1361.2 1290.6,1362C1284.3,1362.7 1277.6,1363.5 1271.6,1363.9C1265.5,1364.2 1259.2,1364.2 1254.4,1363.9C1249.7,1363.5 1245.9,1362.7 1243,1362C1240.2,1361.2 1237.6,1361.2 1237.3,1359.1Z"/><path class="c" d="M1241.1,1359.1C1241.1,1357.5 1242.7,1353.9 1244.9,1351.5C1247.1,1349.1 1250.6,1346.9 1254.4,1344.8C1258.2,1342.8 1263,1340.9 1267.8,1339.1C1272.5,1337.4 1278.5,1336.1 1283,1334.4C1287.4,1332.6 1291.9,1331.2 1294.4,1328.7C1296.9,1326.1 1296.6,1321.4 1298.2,1319.1C1299.8,1316.9 1301.1,1316 1303.9,1315.3C1306.8,1314.7 1311.8,1314.7 1315.3,1315.3C1318.8,1316 1322.3,1316.9 1324.8,1319.1C1327.4,1321.4 1329.6,1325.2 1330.6,1328.7C1331.5,1332.1 1331.2,1336.6 1330.6,1340.1C1329.9,1343.6 1329,1347 1326.8,1349.6C1324.5,1352.1 1321.4,1353.8 1317.2,1355.3C1313.1,1356.8 1307.4,1357.8 1302,1358.7C1296.6,1359.7 1290.6,1360.5 1284.9,1361C1279.2,1361.5 1273.2,1361.9 1267.8,1362C1262.4,1362.1 1256.3,1361.7 1252.5,1361.6C1248.7,1361.4 1246.8,1361.4 1244.9,1361C1243,1360.6 1241.1,1360.7 1241.1,1359.1Z"/><path class="c" d="M1244.9,1359.1C1243.7,1357.8 1246.5,1354.5 1248.7,1352.4C1250.9,1350.4 1254.4,1348.5 1258.2,1346.7C1262.1,1345 1266.8,1343.2 1271.6,1342C1276.3,1340.7 1282.3,1340.1 1286.8,1339.1C1291.2,1338.2 1295,1337.7 1298.2,1336.3C1301.4,1334.8 1303.9,1332.8 1305.8,1330.6C1307.7,1328.3 1308,1324.7 1309.6,1322.9C1311.2,1321.2 1313.4,1320.1 1315.3,1320.1C1317.2,1320.1 1319.8,1320.9 1321,1322.9C1322.3,1325 1322.9,1329 1322.9,1332.5C1322.9,1335.9 1322.3,1340.5 1321,1343.9C1319.8,1347.2 1318.2,1350.2 1315.3,1352.4C1312.5,1354.7 1308.4,1356.1 1303.9,1357.2C1299.5,1358.3 1294.1,1358.6 1288.7,1359.1C1283.3,1359.6 1277,1359.9 1271.6,1360.1C1266.2,1360.2 1260.8,1360.2 1256.3,1360.1C1251.9,1359.9 1246.2,1360.4 1244.9,1359.1Z"/><path class="c" d="M1252.5,1359.1C1251.6,1357.7 1254.1,1355.1 1256.3,1353.4C1258.6,1351.6 1262.1,1350 1265.9,1348.6C1269.7,1347.3 1274.4,1346 1279.2,1345.4C1283.9,1344.8 1290,1344.4 1294.4,1344.8C1298.8,1345.2 1303,1346.3 1305.8,1347.7C1308.7,1349.1 1311.2,1351.6 1311.5,1353.4C1311.8,1355.1 1310.3,1356.9 1307.7,1358.1C1305.2,1359.4 1301.1,1360.4 1296.3,1361C1291.5,1361.6 1284.9,1361.9 1279.2,1362C1273.5,1362.1 1266.5,1362.1 1262.1,1361.6C1257.6,1361.1 1253.5,1360.5 1252.5,1359.1Z"/><path class="c" d="M1260.1,1359.1C1260.1,1358 1261.7,1356.4 1264,1355.3C1266.2,1354.2 1269.7,1353 1273.5,1352.4C1277.3,1351.9 1283,1351.6 1286.8,1351.9C1290.6,1352.2 1294.7,1353.1 1296.3,1354.3C1297.9,1355.5 1297.6,1357.8 1296.3,1359.1C1295,1360.4 1292.2,1361.3 1288.7,1362C1285.2,1362.6 1279.5,1362.9 1275.4,1362.9C1271.2,1362.9 1266.5,1362.6 1264,1362C1261.4,1361.3 1260.1,1360.2 1260.1,1359.1Z"/><path class="c" d="M1313,1319.1C1313.1,1318.5 1314.5,1317.4 1315.3,1317.2C1316.2,1317.1 1317.8,1317.6 1318.2,1318.2C1318.6,1318.8 1318.2,1320.2 1317.6,1320.7C1317.1,1321.1 1315.7,1321.3 1315,1321C1314.2,1320.8 1313,1319.8 1313,1319.1Z"/><path class="c" d="M1383.8,1223C1384.2,1222.3 1385.3,1221 1386.7,1220.6C1388.1,1220.1 1390.8,1219.9 1392.4,1220.2C1394,1220.4 1395.9,1221.2 1396.2,1222.1C1396.5,1223 1395.6,1224.8 1394.3,1225.5C1393,1226.2 1390.2,1226.3 1388.6,1226.3C1387,1226.2 1385.6,1225.7 1384.8,1225.1C1384,1224.6 1383.5,1223.8 1383.8,1223Z"/><line class="dg" x1="1140" y1="1484.5" x2="1521.6" y2="1124.3"/><rect class="fr" x="1140" y="1124.3" width="381.6" height="360.2"/><text class="tt" x="1330.8" y="1081.4">Leaf N per area</text><text class="tt" x="1330.8" y="1115.8">r = 0.53</text><text class="tx" x="1244.3" y="1517.4">0</text><text class="tx" x="1412.1" y="1517.4">1</text><text class="ty" x="1126.4" y="1474.1">−0.5</text><text class="ty" x="1126.4" y="1394.9">0.0</text><text class="ty" x="1126.4" y="1315.8">0.5</text><text class="ty" x="1126.4" y="1236.6">1.0</text><text class="ty" x="1126.4" y="1157.4">1.5</text><text class="lb" x="1330.8" y="1548.6">sPlotOpen plot</text><text class="lb" transform="translate(1054.8,1304.4) rotate(-90)">iNaturalist obs. mean</text></g>
<g><path class="c" d="M1704.4,1332.4C1704.7,1328.9 1707.2,1324.6 1710,1321.1C1712.8,1317.7 1717.5,1314.9 1721.2,1311.8C1725,1308.6 1728.4,1305.8 1732.5,1302.4C1736.5,1299 1741.2,1294.9 1745.6,1291.1C1750,1287.4 1755.3,1283.3 1758.7,1279.9C1762.1,1276.5 1764.3,1273.3 1766.2,1270.5C1768.1,1267.7 1767.8,1265.5 1769.9,1263C1772.1,1260.5 1775.6,1258 1779.3,1255.6C1783.1,1253.1 1787.7,1250.2 1792.4,1248.1C1797.1,1245.9 1803,1244.6 1807.4,1242.4C1811.8,1240.2 1814,1236.8 1818.7,1234.9C1823.3,1233.1 1829.6,1232.8 1835.5,1231.2C1841.4,1229.6 1848,1227.4 1854.3,1225.6C1860.5,1223.7 1866.7,1221.5 1873,1220C1879.2,1218.4 1885.5,1217.3 1891.7,1216.2C1898,1215.1 1904.2,1213.7 1910.5,1213.4C1916.7,1213.1 1923.6,1213.6 1929.2,1214.3C1934.8,1215.1 1939.5,1217.1 1944.2,1218.1C1948.9,1219 1952.6,1219.3 1957.3,1220C1962,1220.6 1967,1220.9 1972.3,1221.8C1977.6,1222.8 1984.8,1224.3 1989.1,1225.6C1993.5,1226.8 1996.5,1227.8 1998.5,1229.3C2000.5,1230.9 2001.6,1232.8 2001.3,1234.9C2001,1237.1 1998.7,1239.9 1996.6,1242.4C1994.6,1244.9 1989.5,1247.4 1989.1,1249.9C1988.8,1252.4 1992.3,1255.2 1994.8,1257.4C1997.3,1259.6 2001.9,1260.5 2004.1,1263C2006.3,1265.5 2007.9,1269 2007.9,1272.4C2007.9,1275.8 2006.3,1280.2 2004.1,1283.7C2001.9,1287.1 1997.6,1289.9 1994.8,1293C1992,1296.1 1989.5,1299.3 1987.3,1302.4C1985.1,1305.5 1982.3,1308.6 1981.7,1311.8C1981,1314.9 1983.5,1318.3 1983.5,1321.1C1983.5,1323.9 1983.8,1326.4 1981.7,1328.6C1979.5,1330.8 1975.1,1332.4 1970.4,1334.2C1965.7,1336.1 1958.9,1337.7 1953.5,1339.9C1948.2,1342 1943.6,1344.9 1938.6,1347.4C1933.6,1349.9 1928.6,1352.3 1923.6,1354.8C1918.6,1357.3 1913.9,1360.2 1908.6,1362.3C1903.3,1364.5 1897.7,1366.4 1891.7,1368C1885.8,1369.5 1879.2,1370.5 1873,1371.7C1866.7,1373 1860.5,1374.5 1854.3,1375.5C1848,1376.4 1841.8,1377.2 1835.5,1377.3C1829.3,1377.5 1823,1376.9 1816.8,1376.4C1810.5,1375.9 1804.3,1375.3 1798,1374.5C1791.8,1373.7 1785.6,1372.8 1779.3,1371.7C1773.1,1370.6 1766.2,1369.5 1760.6,1368C1755,1366.4 1749.3,1364.5 1745.6,1362.3C1741.8,1360.2 1740.9,1356.7 1738.1,1354.8C1735.3,1353 1732.5,1352.3 1728.7,1351.1C1725,1349.9 1719,1348.9 1715.6,1347.4C1712.2,1345.8 1710,1344.2 1708.1,1341.7C1706.2,1339.2 1704.1,1335.8 1704.4,1332.4Z"/><path class="c" d="M1915.1,1175C1915.5,1173.7 1916.9,1171.4 1918.9,1170.3C1920.9,1169.2 1924.7,1168.4 1927.3,1168.4C1930,1168.4 1933.4,1169.2 1934.8,1170.3C1936.2,1171.4 1936.4,1173.6 1935.7,1175C1935.1,1176.4 1933.3,1178 1931.1,1178.7C1928.9,1179.5 1925,1179.8 1922.6,1179.7C1920.3,1179.5 1918.3,1178.6 1917,1177.8C1915.8,1177 1914.8,1176.2 1915.1,1175Z"/><path class="c" d="M1922.6,1238.7C1922.3,1237.3 1924.7,1234.5 1927.3,1233.1C1930,1231.7 1934.2,1230.8 1938.6,1230.3C1942.9,1229.7 1948.9,1229.5 1953.5,1229.7C1958.2,1229.9 1963.4,1230.3 1966.7,1231.2C1969.9,1232.1 1972.6,1233.5 1973.2,1234.9C1973.8,1236.3 1973.1,1238.5 1970.4,1239.6C1967.8,1240.7 1962,1241 1957.3,1241.5C1952.6,1242 1947,1242.4 1942.3,1242.4C1937.6,1242.4 1932.5,1242.1 1929.2,1241.5C1925.9,1240.9 1922.9,1240.1 1922.6,1238.7Z"/><path class="c" d="M1739,1338C1738.9,1335.6 1741.1,1331.4 1743.7,1328.6C1746.4,1325.8 1750.6,1323.6 1755,1321.1C1759.3,1318.6 1765.3,1316.1 1769.9,1313.6C1774.6,1311.1 1779.3,1308.9 1783.1,1306.1C1786.8,1303.3 1788.4,1299.9 1792.4,1296.8C1796.5,1293.6 1802.4,1290.8 1807.4,1287.4C1812.4,1284 1817.4,1279.9 1822.4,1276.2C1827.4,1272.4 1832.7,1269 1837.4,1264.9C1842.1,1260.9 1846.1,1254.8 1850.5,1251.8C1854.9,1248.8 1858.3,1248.2 1863.6,1247.1C1868.9,1246 1876.1,1245.7 1882.4,1245.2C1888.6,1244.8 1894.8,1244.5 1901.1,1244.3C1907.3,1244.1 1915.5,1243.3 1919.8,1243.9C1924.2,1244.6 1924.2,1246.4 1927.3,1248.1C1930.4,1249.7 1934.8,1252.1 1938.6,1253.7C1942.3,1255.2 1946.1,1256.2 1949.8,1257.4C1953.5,1258.7 1957.3,1259.9 1961,1261.2C1964.8,1262.4 1969.5,1263.4 1972.3,1264.9C1975.1,1266.5 1977.3,1268 1977.9,1270.5C1978.5,1273 1977,1276.5 1976,1279.9C1975.1,1283.3 1974.8,1288 1972.3,1291.1C1969.8,1294.3 1965.4,1296.8 1961,1298.6C1956.7,1300.5 1950.7,1301.1 1946.1,1302.4C1941.4,1303.6 1935.7,1304 1932.9,1306.1C1930.1,1308.3 1929.2,1312.1 1929.2,1315.5C1929.2,1318.9 1933.3,1323.3 1932.9,1326.7C1932.6,1330.2 1930.1,1333.3 1927.3,1336.1C1924.5,1338.9 1920.4,1341.1 1916.1,1343.6C1911.7,1346.1 1906.4,1348.9 1901.1,1351.1C1895.8,1353.3 1889.8,1355.2 1884.2,1356.7C1878.6,1358.3 1873.3,1359.4 1867.4,1360.5C1861.4,1361.6 1854.9,1362.7 1848.6,1363.3C1842.4,1363.9 1836.1,1364.4 1829.9,1364.2C1823.6,1364.1 1817.4,1363.3 1811.2,1362.3C1804.9,1361.4 1798.7,1360.2 1792.4,1358.6C1786.2,1357 1779.6,1354.8 1773.7,1353C1767.8,1351.1 1761.7,1349.1 1756.8,1347.4C1752,1345.6 1747.6,1344.2 1744.6,1342.7C1741.7,1341.1 1739.2,1340.3 1739,1338Z"/><path class="c" d="M1755,1336.1C1754.6,1333.6 1756.2,1329.2 1758.7,1326.7C1761.2,1324.2 1765.9,1322.7 1769.9,1321.1C1774,1319.6 1779.3,1319.6 1783.1,1317.4C1786.8,1315.2 1789.6,1311.1 1792.4,1308C1795.2,1304.9 1796.8,1301.8 1799.9,1298.6C1803,1295.5 1806.8,1292.4 1811.2,1289.3C1815.5,1286.2 1821.2,1283 1826.1,1279.9C1831.1,1276.8 1836.1,1273.3 1841.1,1270.5C1846.1,1267.7 1850.8,1265.2 1856.1,1263C1861.4,1260.9 1867.1,1258.7 1873,1257.4C1878.9,1256.2 1886.4,1255.6 1891.7,1255.6C1897,1255.6 1900.2,1256.2 1904.8,1257.4C1909.5,1258.7 1914.8,1261.2 1919.8,1263C1924.8,1264.9 1930.4,1267.1 1934.8,1268.7C1939.2,1270.2 1943.6,1271.2 1946.1,1272.4C1948.6,1273.7 1950.1,1273.7 1949.8,1276.2C1949.5,1278.7 1946.1,1283.7 1944.2,1287.4C1942.3,1291.1 1940.7,1294.9 1938.6,1298.6C1936.4,1302.4 1933.6,1306.4 1931.1,1309.9C1928.6,1313.3 1925.4,1315.8 1923.6,1319.3C1921.7,1322.7 1921.7,1327.1 1919.8,1330.5C1918,1333.9 1915.8,1337.4 1912.3,1339.9C1908.9,1342.4 1904.2,1343.8 1899.2,1345.5C1894.2,1347.2 1888.3,1348.9 1882.4,1350.2C1876.4,1351.4 1869.9,1352.2 1863.6,1353C1857.4,1353.8 1851.1,1354.5 1844.9,1354.8C1838.6,1355.2 1832.4,1355.2 1826.1,1354.8C1819.9,1354.5 1813.7,1353.9 1807.4,1353C1801.2,1352 1794.3,1350.5 1788.7,1349.2C1783.1,1348 1778.4,1346.7 1773.7,1345.5C1769,1344.2 1763.7,1343.3 1760.6,1341.7C1757.5,1340.2 1755.3,1338.6 1755,1336.1Z"/><path class="c" d="M1766.2,1335.2C1764.9,1333 1767.1,1330 1769.9,1327.7C1772.8,1325.3 1778.1,1322.8 1783.1,1321.1C1788.1,1319.4 1795.5,1319.6 1799.9,1317.4C1804.3,1315.2 1806.5,1311.1 1809.3,1308C1812.1,1304.9 1813.3,1301.8 1816.8,1298.6C1820.2,1295.5 1825.2,1292.4 1829.9,1289.3C1834.6,1286.2 1839.9,1283 1844.9,1279.9C1849.9,1276.8 1854.9,1273.2 1859.9,1270.5C1864.9,1267.9 1869.9,1265.2 1874.9,1264C1879.9,1262.7 1885.2,1262.6 1889.8,1263C1894.5,1263.5 1899.5,1264.6 1903,1266.8C1906.4,1269 1909.8,1272.7 1910.5,1276.2C1911.1,1279.6 1908.9,1284 1906.7,1287.4C1904.5,1290.8 1899.5,1293.3 1897.3,1296.8C1895.2,1300.2 1893.6,1304.3 1893.6,1308C1893.6,1311.8 1896.4,1315.8 1897.3,1319.3C1898.3,1322.7 1899.8,1325.5 1899.2,1328.6C1898.6,1331.7 1896.4,1335.5 1893.6,1338C1890.8,1340.5 1887,1342 1882.4,1343.6C1877.7,1345.2 1871.4,1346.4 1865.5,1347.4C1859.6,1348.3 1853,1348.9 1846.8,1349.2C1840.5,1349.5 1834.3,1349.5 1828,1349.2C1821.8,1348.9 1815.2,1348.1 1809.3,1347.4C1803.4,1346.6 1797.7,1345.6 1792.4,1344.5C1787.1,1343.5 1781.8,1342.4 1777.4,1340.8C1773.1,1339.2 1767.4,1337.4 1766.2,1335.2Z"/><path class="c" d="M1771.8,1335.2C1770.9,1333.5 1772.8,1330.5 1775.6,1328.6C1778.4,1326.7 1783.7,1325.2 1788.7,1323.9C1793.7,1322.7 1799.9,1321.9 1805.5,1321.1C1811.2,1320.3 1817.1,1320.2 1822.4,1319.3C1827.7,1318.3 1833.6,1317.4 1837.4,1315.5C1841.1,1313.6 1842.4,1311.4 1844.9,1308C1847.4,1304.6 1849.3,1298.6 1852.4,1294.9C1855.5,1291.1 1859.6,1287.7 1863.6,1285.5C1867.7,1283.3 1872.4,1282.1 1876.7,1281.8C1881.1,1281.5 1886.7,1282.4 1889.8,1283.7C1893,1284.9 1895.5,1287.1 1895.5,1289.3C1895.5,1291.5 1892.3,1294.3 1889.8,1296.8C1887.3,1299.3 1882.4,1301.5 1880.5,1304.3C1878.6,1307.1 1878,1310.5 1878.6,1313.6C1879.2,1316.8 1883,1320.2 1884.2,1323C1885.5,1325.8 1886.7,1328 1886.1,1330.5C1885.5,1333 1883.6,1336 1880.5,1338C1877.4,1340 1872.4,1341.6 1867.4,1342.7C1862.4,1343.8 1856.4,1344.1 1850.5,1344.5C1844.6,1344.9 1838,1345.2 1831.8,1345.1C1825.5,1345 1819,1344.5 1813,1344C1807.1,1343.4 1801.5,1342.6 1796.2,1341.7C1790.9,1340.9 1785.2,1340 1781.2,1338.9C1777.1,1337.8 1772.8,1336.9 1771.8,1335.2Z"/><path class="c" d="M1777.4,1335.2C1775.9,1333.3 1778.4,1330.3 1781.2,1328.6C1784,1326.9 1789.3,1326 1794.3,1324.9C1799.3,1323.8 1805.5,1322.8 1811.2,1322.1C1816.8,1321.3 1823,1321 1828,1320.2C1833,1319.4 1837.4,1318.8 1841.1,1317.4C1844.9,1316 1847.7,1313 1850.5,1311.8C1853.3,1310.5 1854.9,1309.3 1858,1309.9C1861.1,1310.5 1866.4,1313.3 1869.2,1315.5C1872,1317.7 1873.9,1320.5 1874.9,1323C1875.8,1325.5 1875.8,1328.1 1874.9,1330.5C1873.9,1332.8 1872.4,1335.3 1869.2,1337C1866.1,1338.8 1861.1,1339.9 1856.1,1340.8C1851.1,1341.7 1844.9,1342.3 1839.3,1342.7C1833.6,1343.1 1828,1343.3 1822.4,1343.2C1816.8,1343.1 1810.8,1342.7 1805.5,1342.1C1800.2,1341.5 1795.2,1341 1790.6,1339.9C1785.9,1338.7 1779,1337 1777.4,1335.2Z"/><path class="c" d="M1784.9,1334.2C1783.4,1332.7 1785.9,1330 1788.7,1328.6C1791.5,1327.2 1796.8,1326.6 1801.8,1325.8C1806.8,1325 1813,1324.4 1818.7,1323.9C1824.3,1323.5 1830.2,1323.3 1835.5,1323C1840.8,1322.7 1846.1,1321.7 1850.5,1322.1C1854.9,1322.4 1859.2,1323.5 1861.7,1324.9C1864.2,1326.3 1865.8,1328.6 1865.5,1330.5C1865.2,1332.4 1863,1334.7 1859.9,1336.1C1856.7,1337.5 1851.8,1338.2 1846.8,1338.9C1841.8,1339.6 1835.5,1340.1 1829.9,1340.2C1824.3,1340.4 1818.3,1340.2 1813,1339.9C1807.7,1339.5 1802.7,1338.9 1798,1338C1793.4,1337 1786.5,1335.8 1784.9,1334.2Z"/><path class="c" d="M1798,1333.3C1798,1332.1 1799,1329.8 1801.8,1328.6C1804.6,1327.5 1809.9,1326.9 1814.9,1326.4C1819.9,1325.8 1826.1,1325.4 1831.8,1325.2C1837.4,1325.1 1844.6,1324.7 1848.6,1325.2C1852.7,1325.8 1855.2,1327.3 1856.1,1328.6C1857.1,1330 1856.4,1332 1854.3,1333.3C1852.1,1334.6 1847.7,1335.8 1843,1336.5C1838.3,1337.2 1831.5,1337.5 1826.1,1337.6C1820.8,1337.7 1815.2,1337.4 1811.2,1337C1807.1,1336.7 1804,1336.4 1801.8,1335.7C1799.6,1335.1 1798,1334.5 1798,1333.3Z"/><path class="c" d="M1811.2,1332.4C1811.5,1331.3 1813.7,1329.6 1816.8,1328.6C1819.9,1327.7 1825.2,1327.1 1829.9,1326.7C1834.6,1326.4 1840.8,1326.3 1844.9,1326.7C1848.9,1327.2 1853,1328.5 1854.3,1329.6C1855.5,1330.6 1854.6,1332.2 1852.4,1333.3C1850.2,1334.4 1845.5,1335.6 1841.1,1336.1C1836.8,1336.7 1830.5,1336.8 1826.1,1336.7C1821.8,1336.5 1817.4,1335.9 1814.9,1335.2C1812.4,1334.5 1810.8,1333.5 1811.2,1332.4Z"/><line class="dg" x1="1667.5" y1="1484.5" x2="2049.1" y2="1124.3"/><rect class="fr" x="1667.5" y="1124.3" width="381.6" height="360.2"/><text class="tt" x="1858.3" y="1081.4">Leaf N P ratio</text><text class="tt" x="1858.3" y="1115.8">r = 0.43</text><text class="tx" x="1739.6" y="1517.4">2.0</text><text class="tx" x="1859" y="1517.4">2.5</text><text class="tx" x="1978.4" y="1517.4">3.0</text><text class="ty" x="1653.9" y="1425.3">2.0</text><text class="ty" x="1653.9" y="1312.6">2.5</text><text class="ty" x="1653.9" y="1199.9">3.0</text><text class="lb" x="1858.3" y="1548.6">sPlotOpen plot</text><text class="lb" transform="translate(1602.8,1304.4) rotate(-90)">iNaturalist obs. mean</text></g>
<g><path class="c" d="M139.1,1831.1C139.1,1826 141.2,1819 142.7,1813C144.2,1806.9 146.6,1800.9 148.1,1794.8C149.7,1788.8 149.4,1780.9 151.8,1776.7C154.2,1772.4 158.4,1771.5 162.7,1769.4C166.9,1767.3 173,1765.8 177.2,1764C181.4,1762.2 184.7,1760.6 188.1,1758.5C191.4,1756.4 194.4,1754 197.2,1751.3C199.9,1748.5 202.9,1745.5 204.4,1742.2C205.9,1738.9 205,1734.9 206.2,1731.3C207.4,1727.7 208.6,1723.7 211.7,1720.4C214.7,1717.1 219.8,1714.1 224.4,1711.3C228.9,1708.6 233.4,1705.1 238.9,1704.1C244.3,1703 252.2,1704.4 257,1705C261.9,1705.6 263.4,1707.7 267.9,1707.7C272.5,1707.7 278.5,1705.7 284.3,1705C290,1704.2 296.4,1703.3 302.4,1703.2C308.5,1703 314.5,1703.8 320.6,1704.1C326.6,1704.4 334.2,1705.1 338.7,1705C343.2,1704.8 343.9,1703.2 347.8,1703.2C351.7,1703.2 357.8,1705 362.3,1705C366.8,1705 370.5,1703.5 375,1703.2C379.5,1702.9 385,1702.3 389.5,1703.2C394.1,1704.1 399.2,1706.3 402.2,1708.6C405.3,1710.9 406.8,1713.9 407.7,1716.8C408.6,1719.7 408.6,1722.2 407.7,1725.9C406.8,1729.5 403.7,1734 402.2,1738.6C400.7,1743.1 399.2,1748.2 398.6,1753.1C398,1757.9 397.7,1763.1 398.6,1767.6C399.5,1772.1 401.9,1776.7 404,1780.3C406.2,1783.9 409.5,1785.4 411.3,1789.4C413.1,1793.3 414.3,1799.7 414.9,1803.9C415.5,1808.1 414,1812.1 414.9,1814.8C415.8,1817.5 418,1818.4 420.4,1820.2C422.8,1822 427.9,1823.6 429.5,1825.7C431,1827.8 431,1830.8 429.5,1832.9C427.9,1835 423.4,1836.9 420.4,1838.4C417.4,1839.9 414,1839.9 411.3,1842C408.6,1844.1 406.2,1847.8 404,1851.1C401.9,1854.4 400.1,1858.3 398.6,1862C397.1,1865.6 397.1,1869.5 395,1872.9C392.9,1876.2 389.5,1878.9 385.9,1881.9C382.3,1885 377.1,1888 373.2,1891C369.3,1894 365.3,1897.1 362.3,1900.1C359.3,1903.1 356.9,1905.8 355,1909.2C353.2,1912.5 352.3,1916.1 351.4,1920C350.5,1924 351.7,1929.7 349.6,1932.7C347.5,1935.8 343.6,1936.4 338.7,1938.2C333.9,1940 326.6,1941.8 320.6,1943.6C314.5,1945.5 308.5,1947 302.4,1949.1C296.4,1951.2 290.3,1954.2 284.3,1956.3C278.2,1958.5 272.2,1960.3 266.1,1961.8C260.1,1963.3 253.1,1964.5 248,1965.4C242.8,1966.3 239.8,1967.5 235.3,1967.2C230.7,1966.9 225.6,1965.4 220.7,1963.6C215.9,1961.8 211.1,1958.8 206.2,1956.3C201.4,1953.9 196.5,1952.1 191.7,1949.1C186.9,1946.1 182,1942.1 177.2,1938.2C172.3,1934.3 166.6,1929.7 162.7,1925.5C158.7,1921.3 155.4,1917.9 153.6,1912.8C151.8,1907.6 152.1,1900.7 151.8,1894.6C151.5,1888.6 152.4,1882.5 151.8,1876.5C151.2,1870.4 149.7,1863.8 148.1,1858.3C146.6,1852.9 144.2,1848.4 142.7,1843.8C141.2,1839.3 139.1,1836.3 139.1,1831.1Z"/><path class="c" d="M166.3,1876.5C166.3,1871 165.7,1864.4 166.3,1858.3C166.9,1852.3 168.7,1846.2 169.9,1840.2C171.1,1834.1 171.7,1827.5 173.6,1822C175.4,1816.6 178.1,1812.4 180.8,1807.5C183.5,1802.7 186.9,1797.5 189.9,1793C192.9,1788.5 195.6,1784.5 199,1780.3C202.3,1776.1 206.2,1771.8 209.9,1767.6C213.5,1763.4 217.1,1758.5 220.7,1754.9C224.4,1751.3 228,1748.5 231.6,1745.8C235.3,1743.1 238.9,1739.2 242.5,1738.6C246.2,1738 249.8,1741.3 253.4,1742.2C257,1743.1 260.1,1744.3 264.3,1744C268.5,1743.7 274.6,1742.2 278.8,1740.4C283.1,1738.6 286.7,1735.2 289.7,1733.1C292.7,1731 293.3,1729.2 297,1727.7C300.6,1726.2 306.6,1724.5 311.5,1724C316.3,1723.6 323,1724 326,1724.9C329,1725.9 329.6,1727.5 329.6,1729.5C329.6,1731.4 328.1,1734.6 326,1736.7C323.9,1738.9 319.1,1740.1 316.9,1742.2C314.8,1744.3 313.3,1747 313.3,1749.4C313.3,1751.9 314.8,1754.3 316.9,1756.7C319.1,1759.1 322.4,1761.8 326,1764C329.6,1766.1 335.1,1767.3 338.7,1769.4C342.3,1771.5 346,1773.3 347.8,1776.7C349.6,1780 349,1785.1 349.6,1789.4C350.2,1793.6 349.3,1798.1 351.4,1802.1C353.5,1806 359,1809.6 362.3,1813C365.6,1816.3 369.6,1818.7 371.4,1822C373.2,1825.4 373.8,1829.3 373.2,1832.9C372.6,1836.6 370.5,1841.4 367.7,1843.8C365,1846.2 359.9,1845.6 356.9,1847.5C353.8,1849.3 351.4,1851.4 349.6,1854.7C347.8,1858 347.8,1862.9 346,1867.4C344.2,1872 342,1877.4 338.7,1881.9C335.4,1886.5 329.9,1890.7 326,1894.6C322.1,1898.6 319.1,1901.9 315.1,1905.5C311.2,1909.2 306.6,1913.1 302.4,1916.4C298.2,1919.7 294.2,1923.1 289.7,1925.5C285.2,1927.9 280,1929.1 275.2,1930.9C270.4,1932.7 265.5,1934.9 260.7,1936.4C255.8,1937.9 251,1939.4 246.2,1940C241.3,1940.6 236.5,1940.9 231.6,1940C226.8,1939.1 222,1936.4 217.1,1934.6C212.3,1932.7 207.1,1931.2 202.6,1929.1C198.1,1927 193.8,1924.6 189.9,1921.9C186,1919.1 182.3,1915.8 179,1912.8C175.7,1909.8 172,1907.3 169.9,1903.7C167.8,1900.1 166.9,1895.5 166.3,1891C165.7,1886.5 166.3,1881.9 166.3,1876.5Z"/><path class="c" d="M179,1876.5C179,1869.8 181.7,1864.4 182.6,1858.3C183.5,1852.3 183.5,1846.2 184.4,1840.2C185.4,1834.1 186.6,1828.1 188.1,1822C189.6,1816 191.1,1809.9 193.5,1803.9C195.9,1797.8 199,1791.2 202.6,1785.7C206.2,1780.3 210.8,1775.2 215.3,1771.2C219.8,1767.3 224.4,1764.6 229.8,1762.2C235.3,1759.7 241.6,1757.9 248,1756.7C254.3,1755.5 261.9,1754.9 267.9,1754.9C274,1754.9 279.4,1755.5 284.3,1756.7C289.1,1757.9 293.3,1760 297,1762.2C300.6,1764.3 303.6,1766.7 306,1769.4C308.5,1772.1 310,1775.5 311.5,1778.5C313,1781.5 313.3,1784.5 315.1,1787.6C316.9,1790.6 320,1793.3 322.4,1796.6C324.8,1800 328.1,1803.3 329.6,1807.5C331.1,1811.8 331.5,1817.2 331.5,1822C331.5,1826.9 330.5,1831.7 329.6,1836.6C328.7,1841.4 327.8,1846.2 326,1851.1C324.2,1855.9 321.5,1860.5 318.7,1865.6C316,1870.7 312.1,1877.1 309.7,1881.9C307.3,1886.8 306.3,1890.1 304.2,1894.6C302.1,1899.2 300,1905.2 297,1909.2C293.9,1913.1 290.3,1915.8 286.1,1918.2C281.8,1920.7 276.4,1922.2 271.6,1923.7C266.7,1925.2 261.9,1926.2 257,1927.3C252.2,1928.4 247.4,1929.7 242.5,1930C237.7,1930.3 232.8,1929.9 228,1929.1C223.2,1928.4 218,1927 213.5,1925.5C208.9,1924 204.7,1922.5 200.8,1920C196.8,1917.6 192.9,1914.6 189.9,1911C186.9,1907.3 184.4,1904 182.6,1898.3C180.8,1892.5 179,1883.1 179,1876.5Z"/><path class="c" d="M189.9,1876.5C189.7,1870 191.1,1864.4 191.7,1858.3C192.3,1852.3 192.6,1846.2 193.5,1840.2C194.4,1834.1 195.6,1828.1 197.2,1822C198.7,1816 200.5,1809.3 202.6,1803.9C204.7,1798.4 206.8,1793.9 209.9,1789.4C212.9,1784.8 216.8,1780.3 220.7,1776.7C224.7,1773 228.6,1769.9 233.4,1767.6C238.3,1765.3 244,1764 249.8,1763.1C255.5,1762.2 262.5,1761.8 267.9,1762.2C273.4,1762.5 278.2,1763.4 282.5,1764.9C286.7,1766.4 290.3,1768.7 293.3,1771.2C296.4,1773.8 298.8,1777 300.6,1780.3C302.4,1783.6 303,1787.9 304.2,1791.2C305.4,1794.5 306,1797.2 307.9,1800.3C309.7,1803.3 313.6,1805.7 315.1,1809.3C316.6,1813 317.2,1817.5 316.9,1822C316.6,1826.6 314.8,1832 313.3,1836.6C311.8,1841.1 310,1845 307.9,1849.3C305.7,1853.5 302.7,1857.7 300.6,1862C298.5,1866.2 297,1870.2 295.2,1874.7C293.3,1879.2 291.2,1884.5 289.7,1889C288.2,1893.4 288.2,1897.6 286.1,1901.4C284,1905.2 280.6,1908.9 277,1911.8C273.4,1914.8 268.8,1917 264.3,1919.1C259.8,1921.2 254.6,1923.1 249.8,1924.3C244.9,1925.5 240.1,1926.2 235.3,1926.4C230.4,1926.5 225.3,1926.4 220.7,1925.3C216.2,1924.3 211.7,1922.4 208,1920.1C204.4,1917.9 201.5,1915.6 199,1911.8C196.4,1908 194.1,1903.2 192.6,1897.3C191.1,1891.4 190,1883 189.9,1876.5Z"/><path class="c" d="M197.2,1876.5C197.2,1869.7 198.2,1864.4 199,1858.3C199.7,1852.3 200.5,1846.2 201.7,1840.2C202.9,1834.1 204.6,1827.8 206.2,1822C207.9,1816.3 209.6,1810.5 211.7,1805.7C213.8,1800.9 216.2,1796.9 218.9,1793C221.7,1789.1 224.4,1785.1 228,1782.1C231.6,1779.1 235.9,1776.8 240.7,1774.9C245.5,1772.9 251.6,1771.1 257,1770.3C262.5,1769.6 268.5,1769.6 273.4,1770.3C278.2,1771.1 282.8,1772.6 286.1,1774.9C289.4,1777.1 291.8,1780.6 293.3,1783.9C294.9,1787.3 294.5,1791.2 295.2,1794.8C295.8,1798.4 295.8,1802.4 297,1805.7C298.2,1809 301.2,1811.5 302.4,1814.8C303.6,1818.1 304.5,1821.7 304.2,1825.7C303.9,1829.6 302.4,1834.4 300.6,1838.4C298.8,1842.3 295.8,1845.6 293.3,1849.3C290.9,1852.9 287.9,1856.2 286.1,1860.2C284.3,1864.1 283.4,1868.3 282.5,1872.9C281.5,1877.5 281.5,1883 280.6,1887.8C279.7,1892.5 279.1,1897.6 277,1901.3C274.9,1905.1 271.6,1907.7 267.9,1910.4C264.3,1913 259.8,1915.3 255.2,1917.2C250.7,1919 245.5,1920.7 240.7,1921.7C235.9,1922.6 230.7,1923.2 226.2,1922.8C221.7,1922.4 217.1,1921.1 213.5,1919.4C209.9,1917.7 206.8,1916 204.4,1912.6C202,1909.3 200.2,1905.1 199,1899.1C197.8,1893.1 197.2,1883.3 197.2,1876.5Z"/><path class="c" d="M202.6,1878.9C202.6,1872.9 203.5,1867.8 204.4,1862C205.3,1856.1 206.5,1849.9 208,1843.8C209.6,1837.8 211.7,1831.1 213.5,1825.7C215.3,1820.2 216.8,1815.7 218.9,1811.2C221,1806.6 223.5,1802.1 226.2,1798.4C228.9,1794.8 231.6,1792.1 235.3,1789.4C238.9,1786.7 243.4,1783.9 248,1782.1C252.5,1780.3 257.9,1778.9 262.5,1778.5C267,1778 271.9,1778.2 275.2,1779.4C278.5,1780.6 280.9,1782.9 282.5,1785.7C284,1788.6 283.4,1793 284.3,1796.6C285.2,1800.3 286.4,1804.2 287.9,1807.5C289.4,1810.8 292.4,1813.3 293.3,1816.6C294.2,1819.9 294.2,1823.9 293.3,1827.5C292.4,1831.1 290,1835 287.9,1838.4C285.8,1841.7 282.8,1844.1 280.6,1847.5C278.5,1850.8 276.4,1854.4 275.2,1858.3C274,1862.3 273.7,1866.4 273.4,1871C273.1,1875.7 274,1881.2 273.4,1886.2C272.8,1891.1 271.9,1896.7 269.7,1900.7C267.6,1904.8 264.3,1907.8 260.7,1910.4C257,1913 252.5,1914.9 248,1916.5C243.4,1918.1 238,1919.7 233.4,1920.1C228.9,1920.5 224.7,1920.1 220.7,1918.9C216.8,1917.7 212.6,1916.3 209.9,1912.8C207.1,1909.4 205.6,1903.9 204.4,1898.3C203.2,1892.6 202.6,1885 202.6,1878.9Z"/><path class="c" d="M205.3,1881.8C205.3,1876 206.7,1870.7 208,1865.6C209.4,1860.5 211.4,1855.9 213.5,1851.1C215.6,1846.2 218.6,1841.1 220.7,1836.6C222.9,1832 224.4,1828.1 226.2,1823.9C228,1819.6 229.5,1814.8 231.6,1811.2C233.8,1807.5 235.9,1804.5 238.9,1802.1C241.9,1799.7 246.2,1797.8 249.8,1796.6C253.4,1795.4 257.6,1794.5 260.7,1794.8C263.7,1795.1 266.1,1796.3 267.9,1798.4C269.7,1800.6 270,1804.8 271.6,1807.5C273.1,1810.2 275.5,1812.4 277,1814.8C278.5,1817.2 280.9,1819.6 280.6,1822C280.3,1824.5 277.6,1826.6 275.2,1829.3C272.8,1832 268.2,1835 266.1,1838.4C264,1841.7 262.8,1845.3 262.5,1849.3C262.2,1853.2 263.4,1857.7 264.3,1862C265.2,1866.2 267,1870.1 267.9,1874.7C268.8,1879.3 270.4,1885 269.7,1889.6C269.1,1894.3 267,1899.1 264.3,1902.8C261.6,1906.5 257.6,1909.6 253.4,1912C249.2,1914.4 243.4,1916.4 238.9,1917.3C234.4,1918.2 230.1,1918.2 226.2,1917.3C222.3,1916.4 218.3,1914.9 215.3,1912C212.3,1909.2 209.7,1905.2 208,1900.2C206.4,1895.1 205.3,1887.5 205.3,1881.8Z"/><path class="c" d="M209.9,1887.5C209.9,1883 210.5,1877.1 211.7,1872.9C212.9,1868.6 215,1865.3 217.1,1862C219.2,1858.6 222,1855.6 224.4,1852.9C226.8,1850.2 230.4,1848.1 231.6,1845.6C232.8,1843.2 232.2,1841.1 231.6,1838.4C231,1835.7 228.3,1832 228,1829.3C227.7,1826.6 228,1823.7 229.8,1822C231.6,1820.4 235,1819.8 238.9,1819.3C242.8,1818.9 250.4,1818.6 253.4,1819.3C256.4,1820.1 257.3,1822.2 257,1823.9C256.7,1825.5 254,1827.5 251.6,1829.3C249.2,1831.1 244.6,1832.3 242.5,1834.7C240.4,1837.2 238.9,1841.1 238.9,1843.8C238.9,1846.5 240.7,1849.3 242.5,1851.1C244.3,1852.9 247.4,1853.2 249.8,1854.7C252.2,1856.2 255.2,1858 257,1860.2C258.9,1862.3 259.8,1864.2 260.7,1867.4C261.6,1870.6 261.9,1875 262.5,1879.2C263.1,1883.5 264.6,1888.9 264.3,1893C264,1897.1 262.8,1901 260.7,1904C258.6,1907 255.2,1909 251.6,1910.9C248,1912.7 243.1,1914.3 238.9,1915C234.7,1915.7 229.8,1915.9 226.2,1915C222.6,1914.1 219.5,1912 217.1,1909.5C214.7,1907 212.9,1903.5 211.7,1899.9C210.5,1896.2 209.9,1892 209.9,1887.5Z"/><path class="c" d="M214.4,1898.3C214.4,1894.9 214.5,1889.8 215.3,1885.6C216.1,1881.3 217.7,1876.5 218.9,1872.9C220.1,1869.2 220.4,1866.1 222.6,1863.8C224.7,1861.5 228.6,1859.4 231.6,1859.2C234.7,1859.1 238.6,1860.6 240.7,1862.9C242.8,1865.1 242.5,1869.7 244.3,1872.9C246.2,1876 249.5,1878.9 251.6,1881.9C253.7,1885 256.4,1888 257,1891C257.6,1894 257,1897.4 255.2,1900.1C253.4,1902.8 249.8,1905.4 246.2,1907.3C242.5,1909.3 237.7,1911.3 233.4,1911.9C229.2,1912.5 223.8,1912 220.7,1911C217.7,1909.9 216.4,1907.6 215.3,1905.5C214.2,1903.4 214.4,1901.6 214.4,1898.3Z"/><line class="dg" x1="85.1" y1="2013.7" x2="466.7" y2="1653.5"/><rect class="fr" x="85.1" y="1653.5" width="381.6" height="360.2"/><text class="tt" x="275.9" y="1610.5">Leaf delta15N</text><text class="tt" x="275.9" y="1645">r = 0.25</text><text class="tx" x="98.5" y="2046.6">−1</text><text class="tx" x="202" y="2046.6">0</text><text class="tx" x="305.4" y="2046.6">1</text><text class="tx" x="408.8" y="2046.6">2</text><text class="ty" x="71.5" y="2009.9">−1</text><text class="ty" x="71.5" y="1912.2">0</text><text class="ty" x="71.5" y="1814.6">1</text><text class="ty" x="71.5" y="1717">2</text><text class="lb" x="275.9" y="2077.8">sPlotOpen plot</text><text class="lb" transform="translate(23.3,1833.6) rotate(-90)">iNaturalist obs. mean</text></g>
<g><path class="c" d="M644.4,1808.6C645,1807.4 647.8,1806.1 650,1804.9C652.2,1803.6 656.4,1803.6 657.5,1801.1C658.6,1798.6 656.5,1793 656.5,1789.9C656.5,1786.8 656.1,1784.6 657.5,1782.4C658.9,1780.2 662.5,1779 665,1776.8C667.5,1774.6 669.3,1771.8 672.5,1769.3C675.6,1766.8 679.7,1764.3 683.7,1761.8C687.8,1759.3 692.5,1756.5 696.8,1754.3C701.2,1752.1 705.6,1751.5 709.9,1748.7C714.3,1745.9 719,1740.2 723.1,1737.4C727.1,1734.6 730.2,1733.1 734.3,1731.8C738.4,1730.6 742.7,1730.9 747.4,1729.9C752.1,1729 756.8,1727.1 762.4,1726.2C768,1725.3 774.9,1724.8 781.1,1724.3C787.4,1723.9 793.6,1723.6 799.9,1723.4C806.1,1723.1 812.4,1722.7 818.6,1722.8C824.9,1723 831.7,1723.8 837.3,1724.3C843,1724.9 848.6,1725.3 852.3,1726.2C856.1,1727.1 858.3,1727.8 859.8,1729.9C861.4,1732.1 860.8,1736.5 861.7,1739.3C862.6,1742.1 863.6,1744.6 865.4,1746.8C867.3,1749 870.1,1750.7 872.9,1752.4C875.7,1754.1 878.9,1755.5 882.3,1757.1C885.7,1758.7 889.8,1760.1 893.5,1761.8C897.3,1763.5 900.4,1765.9 904.8,1767.4C909.2,1769 915.7,1769.6 919.8,1771.2C923.8,1772.7 926,1774.9 929.1,1776.8C932.3,1778.7 936.2,1780.5 938.5,1782.4C940.9,1784.3 943.5,1786.5 943.2,1788C942.9,1789.6 939,1790.8 936.6,1791.8C934.3,1792.7 930.7,1792.4 929.1,1793.6C927.6,1794.9 927.3,1797.7 927.3,1799.3C927.3,1800.8 930.4,1801.8 929.1,1803C927.9,1804.3 923.5,1805.5 919.8,1806.8C916,1808 911,1809.3 906.7,1810.5C902.3,1811.8 898.2,1813 893.5,1814.3C888.9,1815.5 883.6,1816.7 878.6,1818C873.6,1819.2 868.6,1820.5 863.6,1821.7C858.6,1823 853,1823.9 848.6,1825.5C844.2,1827.1 840.8,1829.6 837.3,1831.1C833.9,1832.7 832,1833.6 828,1834.9C823.9,1836.1 817.7,1837.5 813,1838.6C808.3,1839.7 803.6,1840.2 799.9,1841.4C796.1,1842.7 792.7,1844.4 790.5,1846.1C788.3,1847.8 786.8,1849.8 786.8,1851.7C786.8,1853.6 791.4,1855.8 790.5,1857.3C789.6,1858.9 785.2,1860.2 781.1,1861.1C777.1,1862 771.8,1862.3 766.1,1863C760.5,1863.6 753.7,1864.5 747.4,1864.8C741.2,1865.1 734.3,1865.1 728.7,1864.8C723.1,1864.5 718.4,1863.9 713.7,1863C709,1862 703.4,1861.1 700.6,1859.2C697.8,1857.3 697.5,1854.2 696.8,1851.7C696.2,1849.2 698.4,1846.4 696.8,1844.2C695.3,1842 689.3,1841.1 687.5,1838.6C685.6,1836.1 686.8,1832 685.6,1829.2C684.3,1826.4 682.8,1823.6 680,1821.7C677.2,1819.9 673.1,1819.2 668.7,1818C664.4,1816.7 657.5,1815.2 653.7,1814.3C650,1813.3 647.8,1813.3 646.2,1812.4C644.7,1811.4 643.7,1809.9 644.4,1808.6Z"/><path class="c" d="M682.8,1804.9C683.1,1802.1 684.2,1798.6 685.6,1795.5C687,1792.4 689.6,1789.6 691.2,1786.1C692.8,1782.7 693.7,1777.7 695,1774.9C696.2,1772.1 696.2,1770.8 698.7,1769.3C701.2,1767.7 706.2,1766.8 709.9,1765.5C713.7,1764.3 716.8,1764.3 721.2,1761.8C725.6,1759.3 731.2,1753.2 736.2,1750.6C741.2,1747.9 746.2,1747.1 751.2,1745.9C756.2,1744.6 760.5,1744 766.1,1743.1C771.8,1742.1 778.6,1740.9 784.9,1740.2C791.1,1739.6 797.7,1739.3 803.6,1739.3C809.6,1739.3 815.5,1739.6 820.5,1740.2C825.5,1740.9 830.8,1741.3 833.6,1743.1C836.4,1744.8 835.5,1748.7 837.3,1750.6C839.2,1752.4 842,1752.7 844.8,1754.3C847.6,1755.9 851.7,1757.7 854.2,1759.9C856.7,1762.1 856.7,1764.9 859.8,1767.4C862.9,1769.9 868.9,1772.4 872.9,1774.9C877,1777.4 881.5,1779.9 884.2,1782.4C886.8,1784.9 889.5,1788 888.9,1789.9C888.2,1791.8 881.2,1792.4 880.4,1793.6C879.7,1794.9 882.6,1795.8 884.2,1797.4C885.7,1799 889.8,1801.4 889.8,1803C889.8,1804.6 887,1805.8 884.2,1806.8C881.4,1807.7 877,1807.7 872.9,1808.6C868.9,1809.6 864.2,1811.1 859.8,1812.4C855.5,1813.6 851.1,1814.9 846.7,1816.1C842.3,1817.4 838,1818.6 833.6,1819.9C829.2,1821.1 824.9,1822.4 820.5,1823.6C816.1,1824.9 811.4,1826.1 807.4,1827.4C803.3,1828.6 800.2,1829.9 796.1,1831.1C792.1,1832.4 787.4,1833.6 783,1834.9C778.6,1836.1 774.6,1837.7 769.9,1838.6C765.2,1839.5 759.9,1840.2 754.9,1840.5C749.9,1840.8 744.9,1840.6 739.9,1840.5C734.9,1840.3 729,1840.2 724.9,1839.5C720.9,1838.9 716.8,1838.1 715.6,1836.7C714.3,1835.3 718.1,1832.7 717.4,1831.1C716.8,1829.6 714.9,1828.6 711.8,1827.4C708.7,1826.1 702.4,1825.2 698.7,1823.6C695,1822.1 691.8,1819.9 689.3,1818C686.8,1816.1 684.8,1814.6 683.7,1812.4C682.6,1810.2 682.5,1807.7 682.8,1804.9Z"/><path class="c" d="M695,1804.9C694.5,1802.1 695.9,1797.1 696.8,1793.6C697.8,1790.2 699,1787.4 700.6,1784.3C702.1,1781.2 704,1777.4 706.2,1774.9C708.4,1772.4 710.6,1770.8 713.7,1769.3C716.8,1767.7 721.2,1767.1 724.9,1765.5C728.7,1764 731.8,1761.3 736.2,1759.9C740.5,1758.5 746.2,1758 751.2,1757.1C756.2,1756.2 760.5,1754.9 766.1,1754.3C771.8,1753.7 778.6,1753.4 784.9,1753.4C791.1,1753.4 798,1753.7 803.6,1754.3C809.2,1754.9 814.2,1755.9 818.6,1757.1C823,1758.4 826.1,1760.1 829.8,1761.8C833.6,1763.5 837.7,1765.2 841.1,1767.4C844.5,1769.6 847.3,1772.4 850.5,1774.9C853.6,1777.4 857.6,1779.6 859.8,1782.4C862,1785.2 863.6,1789 863.6,1791.8C863.6,1794.6 862,1797.4 859.8,1799.3C857.6,1801.1 853.9,1801.8 850.5,1803C847,1804.3 843.3,1805.5 839.2,1806.8C835.2,1808 830.5,1809.3 826.1,1810.5C821.7,1811.8 817.4,1813 813,1814.3C808.6,1815.5 804.6,1816.9 799.9,1818C795.2,1819.1 789.9,1820.2 784.9,1820.8C779.9,1821.4 774.9,1821.6 769.9,1821.7C764.9,1821.9 759.9,1821.9 754.9,1821.7C749.9,1821.6 744.9,1821.4 739.9,1820.8C734.9,1820.2 729.9,1819.1 724.9,1818C719.9,1816.9 714.2,1815.5 709.9,1814.3C705.7,1813 702.1,1812.1 699.6,1810.5C697.1,1808.9 695.4,1807.7 695,1804.9Z"/><path class="c" d="M706.2,1804.9C705.3,1802.7 707.1,1797.1 708.1,1793.6C709,1790.2 710.3,1787.1 711.8,1784.3C713.4,1781.5 714.6,1779 717.4,1776.8C720.2,1774.6 724.3,1772.7 728.7,1771.2C733,1769.6 738.7,1768.5 743.7,1767.4C748.7,1766.3 753.3,1765.4 758.7,1764.6C764,1763.8 769.6,1763.1 775.5,1762.7C781.4,1762.3 788.3,1762 794.3,1762.2C800.2,1762.3 806.1,1762.8 811.1,1763.7C816.1,1764.5 820.5,1765.9 824.2,1767.4C828,1769 830.8,1770.8 833.6,1773C836.4,1775.2 839.2,1778 841.1,1780.5C843,1783 844.8,1785.2 844.8,1788C844.8,1790.8 843.6,1794.9 841.1,1797.4C838.6,1799.9 833.9,1801.4 829.8,1803C825.8,1804.6 821.4,1805.7 816.7,1806.8C812,1807.8 806.7,1808.8 801.7,1809.6C796.7,1810.3 792.1,1811 786.8,1811.4C781.4,1811.8 775.2,1812 769.9,1812C764.6,1812 759.9,1811.8 754.9,1811.4C749.9,1811.1 744.9,1810.7 739.9,1810.1C734.9,1809.6 729.3,1808.8 724.9,1808.3C720.6,1807.7 716.8,1807.3 713.7,1806.8C710.6,1806.2 707.1,1807.1 706.2,1804.9Z"/><path class="c" d="M713.7,1803C713.1,1801.1 714.3,1796.5 715.6,1793.6C716.8,1790.8 718.7,1788.3 721.2,1786.1C723.7,1784 726.8,1782.1 730.6,1780.5C734.3,1779 739,1778 743.7,1776.8C748.3,1775.5 753.3,1774 758.7,1773C764,1772.1 769.9,1771.5 775.5,1771.2C781.1,1770.8 787.1,1770.6 792.4,1770.8C797.7,1770.9 802.7,1771.3 807.4,1772.1C812,1772.9 817,1774.1 820.5,1775.8C823.9,1777.6 826.1,1780.1 828,1782.4C829.8,1784.7 831.7,1787.4 831.7,1789.9C831.7,1792.4 830.2,1795.4 828,1797.4C825.8,1799.4 822.4,1800.8 818.6,1802.1C814.9,1803.3 810.2,1804.1 805.5,1804.9C800.8,1805.7 795.5,1806.3 790.5,1806.8C785.5,1807.2 780.5,1807.5 775.5,1807.7C770.5,1807.8 765.5,1807.8 760.5,1807.7C755.5,1807.5 750.5,1807.1 745.5,1806.8C740.5,1806.4 734.9,1806.1 730.6,1805.8C726.2,1805.5 722.1,1805.4 719.3,1804.9C716.5,1804.4 714.3,1804.9 713.7,1803Z"/><path class="c" d="M721.2,1801.1C720.9,1799.7 721.8,1795.8 723.1,1793.6C724.3,1791.5 725.9,1789.6 728.7,1788C731.5,1786.5 735.5,1785.5 739.9,1784.3C744.3,1783.1 749.6,1781.8 754.9,1780.9C760.2,1780 766.1,1779.4 771.8,1779C777.4,1778.7 783.3,1778.4 788.6,1778.7C793.9,1778.9 799.2,1779.4 803.6,1780.5C808,1781.6 812,1783.3 814.9,1785.2C817.7,1787.1 820.2,1789.6 820.5,1791.8C820.8,1794 818.9,1796.6 816.7,1798.3C814.5,1800 811.1,1801.1 807.4,1802.1C803.6,1803 798.9,1803.5 794.3,1803.9C789.6,1804.4 784.3,1804.7 779.3,1804.9C774.3,1805 769.3,1805 764.3,1804.9C759.3,1804.7 754.3,1804.3 749.3,1803.9C744.3,1803.6 738.4,1803.3 734.3,1803C730.2,1802.7 727.1,1802.4 724.9,1802.1C722.7,1801.8 721.5,1802.5 721.2,1801.1Z"/><path class="c" d="M728.7,1799.3C728.1,1798.1 729,1795.4 730.6,1793.6C732.1,1791.9 734.6,1790.2 738,1789C741.5,1787.7 746.5,1786.9 751.2,1786.1C755.8,1785.4 760.8,1784.6 766.1,1784.3C771.5,1783.9 777.7,1783.7 783,1783.9C788.3,1784.1 793.9,1784.4 798,1785.2C802.1,1786.1 805.5,1787.4 807.4,1789C809.2,1790.5 809.9,1792.9 809.2,1794.6C808.6,1796.3 806.4,1798 803.6,1799.3C800.8,1800.5 796.7,1801.4 792.4,1802.1C788,1802.7 782.4,1802.9 777.4,1803C772.4,1803.2 767.4,1803.2 762.4,1803C757.4,1802.9 752.1,1802.4 747.4,1802.1C742.7,1801.7 737.4,1801.2 734.3,1800.8C731.2,1800.3 729.3,1800.4 728.7,1799.3Z"/><path class="c" d="M739.9,1797.4C739.9,1796.1 740.5,1793.3 742.7,1791.8C744.9,1790.3 748.8,1789.2 753,1788.4C757.2,1787.6 763,1787.3 768,1787.1C773,1786.9 778.6,1786.6 783,1787.1C787.4,1787.6 791.8,1788.6 794.3,1789.9C796.7,1791.1 798.3,1793 798,1794.6C797.7,1796.1 795.2,1798.2 792.4,1799.3C789.6,1800.4 785.5,1800.8 781.1,1801.1C776.8,1801.5 771.1,1801.6 766.1,1801.5C761.2,1801.4 755.1,1801.1 751.2,1800.8C747.3,1800.4 744.6,1799.8 742.7,1799.3C740.9,1798.7 739.9,1798.6 739.9,1797.4Z"/><path class="c" d="M751.2,1796.5C751.5,1794.9 752.4,1792.4 754.9,1790.8C757.4,1789.3 762.1,1787.9 766.1,1787.1C770.2,1786.3 775.5,1786.1 779.3,1786.1C783,1786.1 786.6,1786.3 788.6,1787.1C790.7,1787.9 791.8,1789.3 791.4,1790.8C791.1,1792.4 789.4,1794.9 786.8,1796.5C784.1,1798 779.6,1799.3 775.5,1800.2C771.5,1801.1 766.1,1802.1 762.4,1802.1C758.7,1802.1 754.9,1801.1 753,1800.2C751.2,1799.3 750.8,1798 751.2,1796.5Z"/><path class="c" d="M695,1672.8C695.3,1671.6 697.1,1670 700.6,1669.1C704,1668.1 710.3,1667.6 715.6,1667.2C720.9,1666.8 726.5,1666.6 732.4,1666.6C738.4,1666.6 745.9,1666.8 751.2,1667.2C756.5,1667.6 761.5,1668.1 764.3,1669.1C767.1,1670 768.3,1671.5 768,1672.8C767.7,1674 765.8,1675.6 762.4,1676.5C759,1677.5 753,1678 747.4,1678.4C741.8,1678.8 734.9,1679.1 728.7,1679C722.4,1678.9 714.9,1678.4 709.9,1677.9C704.9,1677.4 701.2,1676.8 698.7,1676C696.2,1675.1 694.6,1674 695,1672.8Z"/><path class="c" d="M743.4,1854.9C743.4,1855.2 742.9,1855.6 742.2,1855.8C741.5,1856 740.3,1856.2 739.4,1856.2C738.4,1856.2 737.2,1856 736.5,1855.8C735.9,1855.6 735.4,1855.2 735.4,1854.9C735.4,1854.6 735.9,1854.2 736.5,1854C737.2,1853.8 738.4,1853.6 739.4,1853.6C740.3,1853.6 741.5,1853.8 742.2,1854C742.9,1854.2 743.4,1854.6 743.4,1854.9Z"/><path class="c" d="M724,1878C724.5,1877.4 726.6,1876.2 728.7,1875.7C730.7,1875.2 733.4,1875.1 736.2,1875.1C739,1875.2 743.7,1875.6 745.5,1876.1C747.4,1876.5 748,1877.4 747.4,1878C746.8,1878.5 744.3,1879.1 741.8,1879.4C739.3,1879.8 735.1,1879.9 732.4,1879.8C729.8,1879.8 727.3,1879.6 725.9,1879.3C724.5,1879 723.5,1878.5 724,1878Z"/><line class="dg" x1="612.6" y1="2013.7" x2="994.2" y2="1653.5"/><rect class="fr" x="612.6" y="1653.5" width="381.6" height="360.2"/><text class="tt" x="803.4" y="1610.5">Seeds per rep. unit</text><text class="tt" x="803.4" y="1645">r = 0.13</text><text class="tx" x="745.5" y="2046.6">5</text><text class="tx" x="899" y="2046.6">10</text><text class="ty" x="599" y="1969.5">2.5</text><text class="ty" x="599" y="1897.1">5.0</text><text class="ty" x="599" y="1824.6">7.5</text><text class="ty" x="599" y="1752.2">10.0</text><text class="ty" x="599" y="1679.7">12.5</text><text class="lb" x="803.4" y="2077.8">sPlotOpen plot</text><text class="lb" transform="translate(532.3,1833.6) rotate(-90)">iNaturalist obs. mean</text></g>
<g><path class="c" d="M1160.9,1829.3C1161.5,1827.8 1164.5,1826.1 1168.1,1824.7C1171.8,1823.4 1177.8,1822.3 1182.7,1821.1C1187.5,1819.9 1192.6,1819 1197.2,1817.5C1201.7,1816 1206.3,1813.9 1209.9,1812C1213.5,1810.2 1215.3,1808.4 1219,1806.6C1222.6,1804.8 1226.5,1803.3 1231.7,1801.2C1236.8,1799 1243.8,1796.2 1249.8,1793.9C1255.9,1791.6 1261.9,1789.5 1268,1787.5C1274,1785.6 1280.1,1783.8 1286.1,1782.1C1292.2,1780.4 1298.2,1778.6 1304.3,1777.6C1310.3,1776.5 1316.4,1776.2 1322.4,1775.7C1328.5,1775.3 1334.5,1775.1 1340.6,1774.8C1346.6,1774.5 1352.7,1774.2 1358.7,1773.9C1364.8,1773.6 1372.9,1773.6 1376.9,1773C1380.8,1772.4 1381.1,1771.7 1382.3,1770.3C1383.5,1768.9 1382.9,1766.4 1384.1,1764.9C1385.3,1763.3 1388.1,1762.7 1389.6,1761.2C1391.1,1759.7 1392.9,1757.9 1393.2,1755.8C1393.5,1753.7 1392.9,1750.6 1391.4,1748.5C1389.9,1746.4 1385.9,1745.2 1384.1,1743.1C1382.3,1741 1380.5,1738.5 1380.5,1735.8C1380.5,1733.1 1382,1729.2 1384.1,1726.7C1386.2,1724.3 1389.9,1722.7 1393.2,1721.3C1396.5,1719.9 1400.2,1718.9 1404.1,1718.6C1408,1718.3 1412.9,1718.7 1416.8,1719.5C1420.7,1720.2 1425.1,1721.3 1427.7,1723.1C1430.2,1724.9 1431.6,1727.6 1432.2,1730.4C1432.8,1733.1 1432.4,1736.7 1431.3,1739.4C1430.2,1742.2 1427.4,1744.3 1425.9,1746.7C1424.3,1749.1 1422.8,1751.2 1422.2,1754C1421.6,1756.7 1423.1,1760.3 1422.2,1763C1421.3,1765.8 1418.3,1767.9 1416.8,1770.3C1415.3,1772.7 1412.6,1774.8 1413.2,1777.6C1413.8,1780.3 1418.3,1783.6 1420.4,1786.6C1422.5,1789.7 1424.7,1792.1 1425.9,1795.7C1427.1,1799.3 1426.8,1804.5 1427.7,1808.4C1428.6,1812.3 1429.2,1816.9 1431.3,1819.3C1433.4,1821.7 1437.7,1821.7 1440.4,1822.9C1443.1,1824.1 1447,1825.4 1447.6,1826.6C1448.2,1827.8 1446.4,1829.3 1444,1830.2C1441.6,1831.1 1436.8,1831.1 1433.1,1832C1429.5,1832.9 1425.9,1834.1 1422.2,1835.6C1418.6,1837.1 1414.4,1839 1411.3,1841.1C1408.3,1843.2 1407.1,1845.9 1404.1,1848.3C1401.1,1850.8 1397.1,1853.5 1393.2,1855.6C1389.3,1857.7 1384.7,1859.5 1380.5,1861C1376.3,1862.6 1371.4,1863.5 1367.8,1864.7C1364.2,1865.9 1360.5,1866.5 1358.7,1868.3C1356.9,1870.1 1357.8,1873.4 1356.9,1875.6C1356,1877.7 1355.7,1879.2 1353.3,1881C1350.8,1882.8 1345.4,1884.6 1342.4,1886.5C1339.4,1888.3 1337.5,1890.1 1335.1,1891.9C1332.7,1893.7 1330.9,1895.8 1327.9,1897.3C1324.8,1898.9 1320.9,1900.1 1317,1901C1313,1901.9 1308.5,1902.6 1304.3,1902.8C1300,1902.9 1296.1,1902.2 1291.6,1901.9C1287,1901.6 1281.3,1902 1277,1901C1272.8,1899.9 1269.8,1897.3 1266.2,1895.5C1262.5,1893.7 1258.3,1891.9 1255.3,1890.1C1252.2,1888.3 1250.4,1885.8 1248,1884.6C1245.6,1883.4 1244.4,1883.7 1240.7,1882.8C1237.1,1881.9 1230.5,1880.7 1226.2,1879.2C1222,1877.7 1217.8,1875.6 1215.3,1873.7C1212.9,1871.9 1211.4,1870.1 1211.7,1868.3C1212,1866.5 1215.9,1864.4 1217.2,1862.9C1218.4,1861.3 1220.2,1860.7 1219,1859.2C1217.8,1857.7 1212.6,1856.2 1209.9,1853.8C1207.2,1851.4 1205.7,1847.1 1202.6,1844.7C1199.6,1842.3 1196,1840.8 1191.7,1839.3C1187.5,1837.8 1181.8,1836.5 1177.2,1835.6C1172.7,1834.7 1167.2,1834.9 1164.5,1833.8C1161.8,1832.8 1160.3,1830.8 1160.9,1829.3Z"/><path class="c" d="M1370,1705C1370.4,1703.5 1372.4,1701 1375,1699.5C1377.7,1698 1381.7,1696.8 1385.9,1695.9C1390.2,1695 1395.6,1694.2 1400.5,1694.1C1405.3,1693.9 1410.4,1694.2 1415,1695C1419.5,1695.7 1424.7,1697.3 1427.7,1698.6C1430.6,1700 1432.5,1701.5 1432.8,1703.1C1433.1,1704.8 1431.9,1707.1 1429.5,1708.6C1427.1,1710.1 1422.5,1711.3 1418.6,1712.2C1414.7,1713.2 1410.1,1714.1 1405.9,1714.4C1401.7,1714.7 1397.7,1714.6 1393.2,1714C1388.7,1713.5 1382.2,1712.3 1378.7,1711.3C1375.2,1710.3 1373.8,1709.3 1372.3,1708.2C1370.9,1707.2 1369.5,1706.4 1370,1705Z"/><path class="c" d="M1386.3,1705C1386.3,1703.8 1388.7,1702.5 1391.4,1701.7C1394,1700.9 1398.6,1700.5 1402.3,1700.4C1405.9,1700.4 1410.7,1700.7 1413.2,1701.3C1415.6,1701.9 1417.2,1703 1417.2,1704.1C1417.2,1705.1 1415.6,1706.8 1413.2,1707.7C1410.7,1708.5 1405.9,1709 1402.3,1709.1C1398.6,1709.3 1394,1709.3 1391.4,1708.6C1388.7,1707.9 1386.3,1706.1 1386.3,1705Z"/><path class="c" d="M1291.9,1758.5C1292.5,1757.4 1294.3,1755.8 1297,1754.9C1299.7,1754 1304.3,1753.4 1307.9,1753.2C1311.5,1753.1 1316.1,1753.2 1318.8,1754C1321.5,1754.7 1323.9,1756.4 1324.2,1757.6C1324.5,1758.8 1323,1760.3 1320.6,1761.2C1318.2,1762.2 1313.3,1763 1309.7,1763.4C1306.1,1763.8 1301.5,1763.8 1298.8,1763.4C1296.1,1763 1294.5,1762 1293.4,1761.2C1292.2,1760.4 1291.3,1759.6 1291.9,1758.5Z"/><path class="c" d="M1392.8,1733.1C1393.1,1731.2 1394.6,1729.4 1396.8,1728.2C1399,1727 1402.9,1726 1405.9,1725.8C1408.9,1725.7 1412.9,1726.2 1415,1727.1C1417.1,1728 1418.3,1729.5 1418.6,1731.3C1418.9,1733 1418.3,1735.8 1416.8,1737.6C1415.3,1739.4 1411.9,1741.3 1409.5,1742.2C1407.1,1743 1404.7,1743.2 1402.3,1742.7C1399.8,1742.3 1396.6,1741 1395,1739.4C1393.4,1737.8 1392.5,1735 1392.8,1733.1Z"/><path class="c" d="M1407.6,1732.5C1407.6,1732.8 1407.4,1733.1 1407.2,1733.2C1407,1733.4 1406.6,1733.4 1406.4,1733.2C1406.2,1733.1 1406,1732.8 1406,1732.5C1406,1732.3 1406.2,1732 1406.4,1731.9C1406.6,1731.7 1407,1731.7 1407.2,1731.9C1407.4,1732 1407.6,1732.3 1407.6,1732.5Z"/><path class="c" d="M1209,1828.4C1209.3,1826.9 1209.4,1826.3 1211.7,1824.7C1214,1823.2 1218.4,1821.4 1222.6,1819.3C1226.8,1817.2 1232.3,1814.5 1237.1,1812C1242,1809.6 1246.8,1806.9 1251.6,1804.8C1256.5,1802.7 1261.3,1800.8 1266.2,1799.3C1271,1797.8 1275.8,1796.9 1280.7,1795.7C1285.5,1794.5 1290.4,1793.3 1295.2,1792.1C1300,1790.9 1304.9,1789.5 1309.7,1788.4C1314.5,1787.4 1318.8,1786.5 1324.2,1785.7C1329.7,1785 1336.3,1784.4 1342.4,1783.9C1348.4,1783.5 1354.5,1783.3 1360.5,1783C1366.6,1782.7 1373.2,1782.1 1378.7,1782.1C1384.1,1782.1 1389,1782.2 1393.2,1783C1397.4,1783.8 1401.7,1785.1 1404.1,1786.6C1406.5,1788.1 1407.7,1790 1407.7,1792.1C1407.7,1794.2 1405,1796.6 1404.1,1799.3C1403.2,1802.1 1402,1805.7 1402.3,1808.4C1402.6,1811.1 1404.4,1813.3 1405.9,1815.7C1407.4,1818.1 1410.4,1820.5 1411.3,1822.9C1412.3,1825.4 1412.6,1828.1 1411.3,1830.2C1410.1,1832.3 1407.1,1834.1 1404.1,1835.6C1401.1,1837.1 1396.8,1838.1 1393.2,1839.3C1389.6,1840.5 1385.9,1841.4 1382.3,1842.9C1378.7,1844.4 1375,1846.5 1371.4,1848.3C1367.8,1850.2 1364.2,1852.3 1360.5,1853.8C1356.9,1855.3 1353.3,1856.2 1349.6,1857.4C1346,1858.6 1343,1859.8 1338.7,1861C1334.5,1862.3 1327.9,1863.5 1324.2,1864.7C1320.6,1865.9 1318.2,1866.2 1317,1868.3C1315.8,1870.4 1317.6,1875.3 1317,1877.4C1316.4,1879.5 1315.2,1880.7 1313.3,1881C1311.5,1881.3 1308.2,1879.8 1306.1,1879.2C1304,1878.6 1302.5,1878 1300.6,1877.4C1298.8,1876.8 1297.9,1876.2 1295.2,1875.6C1292.5,1875 1288.5,1874.4 1284.3,1873.7C1280.1,1873.1 1274.6,1872.5 1269.8,1871.9C1264.9,1871.3 1259.5,1870.7 1255.3,1870.1C1251,1869.5 1246.8,1869.8 1244.4,1868.3C1242,1866.8 1242,1863.5 1240.7,1861C1239.5,1858.6 1238.9,1855.9 1237.1,1853.8C1235.3,1851.7 1232.6,1849.9 1229.9,1848.3C1227.1,1846.8 1223.5,1846.2 1220.8,1844.7C1218.1,1843.2 1215.3,1841.1 1213.5,1839.3C1211.7,1837.5 1210.6,1835.6 1209.9,1833.8C1209.1,1832 1208.7,1829.9 1209,1828.4Z"/><path class="c" d="M1347.5,1795.7C1347.5,1794.7 1349,1793.7 1351.5,1793C1353.9,1792.3 1358.4,1791.9 1362.3,1791.7C1366.3,1791.5 1371.3,1791.4 1375,1791.7C1378.8,1792 1383.5,1792.7 1385,1793.5C1386.5,1794.3 1385.8,1795.7 1384.1,1796.6C1382.5,1797.5 1378.7,1798.5 1375,1799C1371.4,1799.5 1366.3,1799.7 1362.3,1799.7C1358.4,1799.7 1353.9,1799.6 1351.5,1799C1349,1798.3 1347.5,1796.7 1347.5,1795.7Z"/><path class="c" d="M1228,1826.6C1228.6,1824.7 1229.2,1822.9 1231.7,1821.1C1234.1,1819.3 1238.3,1817.3 1242.6,1815.7C1246.8,1814 1252.2,1812.5 1257.1,1811.1C1261.9,1809.8 1266.5,1808.6 1271.6,1807.5C1276.7,1806.4 1282.2,1805.4 1287.9,1804.8C1293.7,1804.2 1300,1804 1306.1,1803.9C1312.1,1803.7 1318.2,1804 1324.2,1803.9C1330.3,1803.7 1336.6,1803.3 1342.4,1803C1348.1,1802.7 1353.6,1802.4 1358.7,1802.1C1363.9,1801.8 1369.3,1801 1373.2,1801.2C1377.2,1801.3 1380.2,1801.5 1382.3,1803C1384.4,1804.5 1385,1807.8 1385.9,1810.2C1386.8,1812.6 1386.8,1815.1 1387.7,1817.5C1388.7,1819.9 1390.5,1822.6 1391.4,1824.7C1392.3,1826.9 1393.8,1828.5 1393.2,1830.2C1392.6,1831.9 1390.5,1833.5 1387.7,1834.7C1385,1835.9 1380.8,1836.4 1376.9,1837.5C1372.9,1838.5 1368.7,1839.6 1364.2,1841.1C1359.6,1842.6 1354.5,1844.7 1349.6,1846.5C1344.8,1848.3 1340,1850.5 1335.1,1852C1330.3,1853.5 1325.4,1854.4 1320.6,1855.6C1315.8,1856.8 1310.9,1858.2 1306.1,1859.2C1301.2,1860.3 1296.4,1861.5 1291.6,1862C1286.7,1862.4 1281.9,1862.4 1277,1862C1272.2,1861.5 1267.1,1860.3 1262.5,1859.2C1258,1858.2 1253.8,1857.4 1249.8,1855.6C1245.9,1853.8 1242,1851.1 1238.9,1848.3C1235.9,1845.6 1233.4,1842 1231.7,1839.3C1229.9,1836.5 1229,1834.1 1228.4,1832C1227.8,1829.9 1227.5,1828.4 1228,1826.6Z"/><path class="c" d="M1235.3,1826.6C1235.8,1824.4 1236.5,1822.8 1238.9,1821.1C1241.3,1819.5 1245.6,1817.9 1249.8,1816.6C1254.1,1815.2 1259.2,1814 1264.3,1812.9C1269.5,1811.9 1274.9,1810.9 1280.7,1810.2C1286.4,1809.5 1292.8,1809 1298.8,1808.8C1304.9,1808.5 1310.9,1808.7 1317,1808.8C1323,1808.9 1329.4,1809.1 1335.1,1809.3C1340.9,1809.6 1346.6,1809.6 1351.5,1810.2C1356.3,1810.8 1360.5,1811.4 1364.2,1812.9C1367.8,1814.5 1371.1,1817 1373.2,1819.3C1375.3,1821.6 1376.9,1824.4 1376.9,1826.6C1376.9,1828.7 1375.3,1830.5 1373.2,1832C1371.1,1833.5 1367.8,1834.4 1364.2,1835.6C1360.5,1836.8 1356,1837.9 1351.5,1839.3C1346.9,1840.6 1341.8,1842.3 1336.9,1843.8C1332.1,1845.3 1327.3,1847 1322.4,1848.3C1317.6,1849.7 1312.7,1850.9 1307.9,1852C1303.1,1853 1298.2,1854.2 1293.4,1854.7C1288.5,1855.1 1283.7,1855.1 1278.9,1854.7C1274,1854.2 1268.9,1853.2 1264.3,1852C1259.8,1850.8 1255.6,1849.2 1251.6,1847.4C1247.7,1845.6 1243.3,1843.3 1240.7,1841.1C1238.2,1838.8 1237.1,1836.2 1236.2,1833.8C1235.3,1831.4 1234.8,1828.7 1235.3,1826.6Z"/><path class="c" d="M1242.6,1826.6C1243,1825 1243.8,1823.4 1246.2,1822C1248.6,1820.7 1252.8,1819.5 1257.1,1818.4C1261.3,1817.3 1266.5,1816.1 1271.6,1815.3C1276.7,1814.5 1282.2,1813.9 1287.9,1813.5C1293.7,1813.1 1300,1812.9 1306.1,1812.9C1312.1,1812.9 1318.5,1813.2 1324.2,1813.5C1330,1813.8 1335.4,1814.1 1340.6,1814.8C1345.7,1815.4 1351.1,1816.1 1355.1,1817.5C1359,1818.8 1362.5,1821.1 1364.2,1822.9C1365.8,1824.7 1366.3,1826.9 1365.1,1828.4C1363.9,1829.9 1360.4,1830.9 1356.9,1832C1353.4,1833.1 1348.7,1833.7 1344.2,1834.7C1339.7,1835.8 1334.5,1837.1 1329.7,1838.4C1324.8,1839.6 1320,1840.9 1315.2,1842C1310.3,1843 1305.5,1844.1 1300.6,1844.7C1295.8,1845.3 1291,1845.8 1286.1,1845.6C1281.3,1845.5 1276.1,1844.7 1271.6,1843.8C1267.1,1842.9 1262.7,1841.5 1258.9,1840.2C1255.1,1838.8 1251.5,1837.1 1248.9,1835.6C1246.3,1834.1 1244.5,1832.6 1243.5,1831.1C1242.4,1829.6 1242.1,1828.1 1242.6,1826.6Z"/><path class="c" d="M1249.8,1826.6C1250,1825 1251,1823.2 1253.4,1822C1255.9,1820.8 1260.1,1820.1 1264.3,1819.3C1268.6,1818.5 1273.7,1817.7 1278.9,1817.1C1284,1816.6 1289.4,1816.2 1295.2,1816C1300.9,1815.9 1307.3,1815.8 1313.3,1816C1319.4,1816.3 1326,1816.8 1331.5,1817.5C1336.9,1818.2 1342.1,1819 1346,1820.2C1349.9,1821.4 1353.7,1823.2 1355.1,1824.7C1356.4,1826.3 1356,1828.1 1354.2,1829.3C1352.4,1830.5 1348.3,1831.2 1344.2,1832C1340.1,1832.8 1334.5,1833.4 1329.7,1834.2C1324.8,1834.9 1320,1835.8 1315.2,1836.5C1310.3,1837.2 1305.5,1838 1300.6,1838.4C1295.8,1838.8 1291,1839.1 1286.1,1838.9C1281.3,1838.8 1275.8,1838.1 1271.6,1837.5C1267.4,1836.8 1263.9,1835.8 1260.7,1834.7C1257.5,1833.7 1254.4,1832.5 1252.5,1831.1C1250.7,1829.7 1249.7,1828.1 1249.8,1826.6Z"/><path class="c" d="M1258.9,1826.6C1258.9,1825.3 1260.1,1823.6 1262.5,1822.6C1264.9,1821.5 1269.2,1820.8 1273.4,1820.2C1277.6,1819.6 1282.8,1819.2 1287.9,1818.9C1293.1,1818.7 1298.8,1818.8 1304.3,1818.9C1309.7,1819.1 1315.5,1819.2 1320.6,1819.7C1325.7,1820.2 1331.5,1821 1335.1,1822C1338.7,1823 1341.8,1824.4 1342.4,1825.7C1343,1826.9 1341.2,1828.3 1338.7,1829.3C1336.3,1830.3 1332.1,1831 1327.9,1831.6C1323.6,1832.2 1318.2,1832.5 1313.3,1832.9C1308.5,1833.3 1303.7,1833.7 1298.8,1833.8C1294,1834 1288.8,1834.1 1284.3,1833.8C1279.8,1833.6 1275.2,1833 1271.6,1832.4C1268,1831.8 1264.6,1831.2 1262.5,1830.2C1260.4,1829.2 1258.9,1827.8 1258.9,1826.6Z"/><path class="c" d="M1268,1827.5C1268,1826.4 1269.2,1824.8 1271.6,1823.8C1274,1822.8 1278.3,1822 1282.5,1821.5C1286.7,1821 1292.2,1820.8 1297,1820.8C1301.8,1820.7 1307,1820.7 1311.5,1821.1C1316.1,1821.5 1321.4,1822.2 1324.2,1823.3C1327.1,1824.4 1329.1,1826.3 1328.8,1827.5C1328.5,1828.6 1325.6,1829.5 1322.4,1830.2C1319.2,1830.9 1314.2,1831.3 1309.7,1831.6C1305.2,1832 1300,1832.3 1295.2,1832.4C1290.4,1832.4 1284.6,1832.4 1280.7,1832C1276.7,1831.6 1273.7,1830.9 1271.6,1830.2C1269.5,1829.4 1268,1828.5 1268,1827.5Z"/><path class="c" d="M1282.5,1828.4C1282.9,1827.5 1284.9,1825.9 1287.9,1825.1C1291,1824.4 1296.1,1824 1300.6,1823.8C1305.2,1823.7 1311.2,1823.9 1315.2,1824.4C1319.1,1824.9 1323.3,1826 1324.2,1826.9C1325.1,1827.9 1323.3,1829.4 1320.6,1830.2C1317.9,1831 1312.4,1831.4 1307.9,1831.6C1303.4,1831.9 1297.2,1831.8 1293.4,1831.6C1289.6,1831.5 1287,1831.1 1285.2,1830.6C1283.4,1830 1282,1829.3 1282.5,1828.4Z"/><line class="dg" x1="1140" y1="2013.7" x2="1521.6" y2="1653.5"/><rect class="fr" x="1140" y="1653.5" width="381.6" height="360.2"/><text class="tt" x="1330.8" y="1610.5">Leaf fresh mass</text><text class="tt" x="1330.8" y="1645">r = 0.41</text><text class="tx" x="1206.3" y="2046.6">−5.0</text><text class="tx" x="1302.1" y="2046.6">−2.5</text><text class="tx" x="1397.8" y="2046.6">0.0</text><text class="tx" x="1493.6" y="2046.6">2.5</text><text class="ty" x="1126.4" y="1996.1">−6</text><text class="ty" x="1126.4" y="1923.8">−4</text><text class="ty" x="1126.4" y="1851.5">−2</text><text class="ty" x="1126.4" y="1779.2">0</text><text class="ty" x="1126.4" y="1706.8">2</text><text class="lb" x="1330.8" y="2077.8">sPlotOpen plot</text><text class="lb" transform="translate(1078.2,1833.6) rotate(-90)">iNaturalist obs. mean</text></g>
<g><path class="c" d="M1855.6,1699.1C1859,1699.1 1861.4,1699.5 1864.7,1700.9C1868,1702.3 1870.5,1706.6 1875.6,1707.2C1880.7,1707.8 1889.2,1705.3 1895.6,1704.5C1901.9,1703.8 1908.6,1702.7 1913.7,1702.7C1918.9,1702.7 1923.4,1703 1926.4,1704.5C1929.4,1706 1930,1709.4 1931.9,1711.8C1933.7,1714.2 1934.3,1716.9 1937.3,1719C1940.3,1721.2 1945.8,1722.7 1950,1724.5C1954.2,1726.3 1958.2,1728.1 1962.7,1729.9C1967.3,1731.7 1972.4,1733.9 1977.2,1735.4C1982.1,1736.9 1987.5,1737.5 1991.8,1739C1996,1740.5 2000.2,1741.7 2002.6,1744.4C2005.1,1747.2 2005.4,1751.1 2006.3,1755.3C2007.2,1759.6 2008.1,1765 2008.1,1769.9C2008.1,1774.7 2006.9,1779.5 2006.3,1784.4C2005.7,1789.2 2005.4,1794.7 2004.5,1798.9C2003.5,1803.1 2002.9,1806.8 2000.8,1809.8C1998.7,1812.8 1996.3,1815.2 1991.8,1817C1987.2,1818.9 1979,1819.5 1973.6,1820.7C1968.2,1821.9 1963.6,1822.5 1959.1,1824.3C1954.5,1826.1 1950.9,1829.4 1946.4,1831.6C1941.8,1833.7 1936.4,1835.2 1931.9,1837C1927.3,1838.8 1923.7,1840.3 1919.2,1842.5C1914.6,1844.6 1908.3,1847 1904.6,1849.7C1901,1852.4 1898.7,1855.8 1897.4,1858.8C1896,1861.8 1895.9,1865.1 1896.5,1867.9C1897.1,1870.6 1899.3,1872.7 1901,1875.1C1902.7,1877.5 1905.8,1879.7 1906.5,1882.4C1907.1,1885.1 1906.1,1889 1904.6,1891.5C1903.1,1893.9 1900.4,1896 1897.4,1896.9C1894.4,1897.8 1889.2,1896.4 1886.5,1896.9C1883.8,1897.4 1881.3,1898.7 1881,1899.6C1880.7,1900.5 1882.9,1901.6 1884.7,1902.3C1886.5,1903.1 1890.3,1902.3 1891.9,1904.2C1893.6,1906 1895,1910.5 1894.7,1913.2C1894.4,1916 1893,1918.4 1890.1,1920.5C1887.2,1922.6 1882.6,1924.4 1877.4,1925.9C1872.3,1927.4 1865.3,1928.4 1859.3,1929.6C1853.2,1930.8 1847.2,1932 1841.1,1933.2C1835.1,1934.4 1828.7,1935.8 1823,1936.8C1817.2,1937.9 1812.1,1938.9 1806.6,1939.5C1801.2,1940.2 1794.5,1939.7 1790.3,1940.5C1786.1,1941.2 1783,1942.6 1781.2,1944.1C1779.4,1945.6 1778.5,1947.7 1779.4,1949.5C1780.3,1951.3 1783.3,1953.2 1786.7,1955C1790,1956.8 1796.2,1958.6 1799.4,1960.4C1802.5,1962.2 1804.8,1963.7 1805.7,1965.9C1806.6,1968 1806.5,1971 1804.8,1973.1C1803.2,1975.2 1799.7,1977.2 1795.7,1978.6C1791.8,1979.9 1786.4,1980.7 1781.2,1981.3C1776.1,1981.9 1770,1982.5 1764.9,1982.2C1759.7,1981.9 1754.3,1980.7 1750.4,1979.5C1746.4,1978.3 1743.3,1976.9 1741.3,1974.9C1739.3,1973 1738.6,1970.1 1738.6,1967.7C1738.6,1965.3 1739.6,1962.8 1741.3,1960.4C1743,1958 1746.4,1955.6 1748.6,1953.2C1750.7,1950.7 1753.4,1948.3 1754,1945.9C1754.6,1943.5 1753.4,1940.8 1752.2,1938.6C1751,1936.5 1749.2,1935 1746.7,1933.2C1744.3,1931.4 1740.4,1929.6 1737.7,1927.7C1734.9,1925.9 1731.9,1924.1 1730.4,1922.3C1728.9,1920.5 1728,1918.7 1728.6,1916.9C1729.2,1915 1732.2,1913.8 1734,1911.4C1735.9,1909 1738.3,1906 1739.5,1902.3C1740.7,1898.7 1741,1893.6 1741.3,1889.6C1741.6,1885.7 1740.7,1882.4 1741.3,1878.7C1741.9,1875.1 1743.4,1872.1 1744.9,1867.9C1746.4,1863.6 1748.3,1857.6 1750.4,1853.3C1752.5,1849.1 1756.1,1846.1 1757.6,1842.5C1759.1,1838.8 1759.7,1835.2 1759.4,1831.6C1759.1,1827.9 1756.7,1824.6 1755.8,1820.7C1754.9,1816.7 1753.7,1811.9 1754,1808C1754.3,1804 1755.5,1800.4 1757.6,1797.1C1759.7,1793.8 1764,1791 1766.7,1788C1769.4,1785 1771.5,1782 1774,1778.9C1776.4,1775.9 1779.1,1773.2 1781.2,1769.9C1783.3,1766.5 1785.5,1762.6 1786.7,1759C1787.9,1755.3 1787.3,1752 1788.5,1748.1C1789.7,1744.1 1791.5,1739.3 1793.9,1735.4C1796.3,1731.4 1799.1,1728.1 1803,1724.5C1806.9,1720.9 1812.7,1716.6 1817.5,1713.6C1822.4,1710.6 1827.5,1708.5 1832,1706.3C1836.6,1704.2 1840.8,1702.1 1844.7,1700.9C1848.7,1699.7 1852.3,1699.1 1855.6,1699.1Z"/><path class="c" d="M1813.9,1740.8C1815.4,1738.1 1817.5,1737 1821.2,1735.4C1824.8,1733.7 1830.8,1731.9 1835.7,1730.8C1840.5,1729.8 1844.7,1729.2 1850.2,1729C1855.6,1728.9 1862.3,1729.7 1868.3,1729.9C1874.4,1730.1 1880.4,1730.3 1886.5,1730.3C1892.5,1730.3 1898.6,1730 1904.6,1729.9C1910.7,1729.9 1917.3,1729.6 1922.8,1729.9C1928.2,1730.2 1933.1,1730.8 1937.3,1731.7C1941.5,1732.6 1944.9,1733.6 1948.2,1735.4C1951.5,1737.2 1954.2,1740.2 1957.3,1742.6C1960.3,1745.1 1963.9,1746.9 1966.3,1749.9C1968.8,1752.9 1970.6,1756.8 1971.8,1760.8C1973,1764.7 1973.3,1769.2 1973.6,1773.5C1973.9,1777.7 1973.6,1782 1973.6,1786.2C1973.6,1790.4 1974.5,1795.3 1973.6,1798.9C1972.7,1802.5 1971.2,1805.5 1968.2,1808C1965.1,1810.4 1960,1811.6 1955.5,1813.4C1950.9,1815.2 1945.8,1817 1940.9,1818.9C1936.1,1820.7 1931,1822.5 1926.4,1824.3C1921.9,1826.1 1917.9,1828.2 1913.7,1829.7C1909.5,1831.3 1905.5,1831.9 1901,1833.4C1896.5,1834.9 1891.3,1837 1886.5,1838.8C1881.6,1840.6 1875.9,1841.8 1872,1844.3C1868,1846.7 1865.3,1850.3 1862.9,1853.3C1860.5,1856.4 1859.6,1859.4 1857.5,1862.4C1855.3,1865.4 1852.3,1868.5 1850.2,1871.5C1848.1,1874.5 1846.9,1877.8 1844.7,1880.6C1842.6,1883.3 1840.2,1886 1837.5,1887.8C1834.8,1889.6 1831.7,1890.2 1828.4,1891.5C1825.1,1892.7 1819.9,1893.6 1817.5,1895.1C1815.1,1896.6 1813,1899.2 1813.9,1900.5C1814.8,1901.9 1819,1902.3 1823,1903.2C1826.9,1904.2 1833.9,1904.3 1837.5,1906C1841.1,1907.6 1843.8,1910.8 1844.7,1913.2C1845.7,1915.7 1845,1918.4 1842.9,1920.5C1840.8,1922.6 1836.9,1924.4 1832,1925.9C1827.2,1927.4 1819.9,1928.8 1813.9,1929.6C1807.8,1930.3 1801.8,1930.5 1795.7,1930.5C1789.7,1930.5 1783.3,1930 1777.6,1929.6C1771.8,1929.1 1765.5,1928.7 1761.3,1927.7C1757,1926.8 1754.2,1926.2 1752.2,1924.1C1750.2,1922 1749.8,1918.1 1749.5,1915C1749.2,1912 1749.3,1909 1750.4,1906C1751.4,1902.9 1753.7,1899.9 1755.8,1896.9C1757.9,1893.9 1761.9,1891.5 1763.1,1887.8C1764.3,1884.2 1763.4,1879.4 1763.1,1875.1C1762.8,1870.9 1761,1866 1761.3,1862.4C1761.6,1858.8 1762.8,1855.8 1764.9,1853.3C1767,1850.9 1771.2,1850 1774,1847.9C1776.7,1845.8 1780.6,1844 1781.2,1840.6C1781.8,1837.3 1778.8,1832.5 1777.6,1827.9C1776.4,1823.4 1774.3,1818.3 1774,1813.4C1773.7,1808.6 1774,1803.1 1775.8,1798.9C1777.6,1794.7 1781.5,1791.6 1784.9,1788C1788.2,1784.4 1792.1,1780.7 1795.7,1777.1C1799.4,1773.5 1803.9,1770.5 1806.6,1766.2C1809.4,1762 1810.9,1755.9 1812.1,1751.7C1813.3,1747.5 1812.4,1743.5 1813.9,1740.8Z"/><path class="c" d="M1823,1766.2C1825.7,1762.6 1827.5,1757.5 1832,1753.5C1836.6,1749.6 1844.1,1745.1 1850.2,1742.6C1856.2,1740.2 1862.3,1739.8 1868.3,1739C1874.4,1738.2 1880.4,1738 1886.5,1737.5C1892.5,1737.1 1898.6,1736.5 1904.6,1736.3C1910.7,1736.1 1917.3,1735.7 1922.8,1736.3C1928.2,1736.9 1933.4,1737.9 1937.3,1739.9C1941.2,1741.9 1944.3,1744.3 1946.4,1748.1C1948.5,1751.9 1948.8,1758.1 1950,1762.6C1951.2,1767.1 1952.7,1771.1 1953.6,1775.3C1954.5,1779.5 1955.8,1784.1 1955.5,1788C1955.2,1791.9 1954.2,1795.7 1951.8,1798.9C1949.4,1802.1 1945.2,1804.8 1940.9,1807.1C1936.7,1809.3 1931.3,1810.7 1926.4,1812.5C1921.6,1814.3 1916.7,1816.1 1911.9,1817.9C1907.1,1819.8 1902.2,1821.6 1897.4,1823.4C1892.5,1825.2 1887.4,1826.9 1882.9,1828.8C1878.3,1830.8 1873.8,1832.9 1870.2,1835.2C1866.5,1837.5 1863.8,1839.7 1861.1,1842.5C1858.4,1845.2 1856.5,1848.8 1853.8,1851.5C1851.1,1854.2 1848.4,1856.7 1844.7,1858.8C1841.1,1860.9 1836.3,1863.3 1832,1864.2C1827.8,1865.1 1822.4,1864.8 1819.3,1864.2C1816.3,1863.6 1815.1,1863 1813.9,1860.6C1812.7,1858.2 1813.3,1853 1812.1,1849.7C1810.9,1846.4 1809.4,1843.1 1806.6,1840.6C1803.9,1838.2 1798.8,1837.3 1795.7,1835.2C1792.7,1833.1 1790.3,1831 1788.5,1827.9C1786.7,1824.9 1785.2,1820.7 1784.9,1817C1784.6,1813.4 1785.2,1809.8 1786.7,1806.2C1788.2,1802.5 1790.6,1798.9 1793.9,1795.3C1797.3,1791.6 1803,1787.7 1806.6,1784.4C1810.3,1781 1813,1778.3 1815.7,1775.3C1818.4,1772.3 1820.2,1769.9 1823,1766.2Z"/><path class="c" d="M1825.8,1773.9C1827.1,1772.2 1828.1,1770.2 1829.4,1768.5C1830.8,1766.8 1832.1,1765 1833.7,1763.6C1835.3,1762.1 1837.3,1761 1839.1,1759.8C1841,1758.7 1842.9,1757.6 1844.9,1756.6C1846.9,1755.7 1848.9,1754.8 1851,1754.1C1853.1,1753.5 1855.3,1753.1 1857.4,1752.7C1859.6,1752.3 1861.8,1752.1 1864,1751.9C1866.2,1751.6 1868.4,1751.4 1870.6,1751.2C1872.8,1751 1875,1751 1877.2,1750.8C1879.4,1750.7 1881.6,1750.5 1883.8,1750.4C1886,1750.2 1888.2,1750 1890.4,1749.9C1892.6,1749.8 1894.8,1749.7 1897,1749.7C1899.2,1749.6 1901.4,1749.5 1903.6,1749.5C1905.8,1749.6 1908,1749.6 1910.2,1749.8C1912.4,1750.1 1914.6,1750.4 1916.7,1750.9C1918.8,1751.5 1921,1752.1 1923,1753.1C1924.9,1754.1 1926.9,1755.3 1928.3,1756.9C1929.8,1758.4 1930.9,1760.4 1931.7,1762.4C1932.5,1764.4 1932.7,1766.7 1933.2,1768.8C1933.8,1770.9 1934.4,1773 1935,1775.1C1935.7,1777.2 1936.4,1779.3 1937,1781.4C1937.5,1783.5 1938.1,1785.7 1938.4,1787.9C1938.7,1790 1938.9,1792.3 1938.6,1794.4C1938.3,1796.6 1937.7,1798.9 1936.7,1800.7C1935.6,1802.6 1933.9,1804.2 1932.3,1805.6C1930.6,1807 1928.7,1808.1 1926.7,1809.2C1924.8,1810.2 1922.7,1811 1920.7,1811.8C1918.6,1812.6 1916.5,1813.2 1914.4,1814C1912.3,1814.7 1910.3,1815.5 1908.2,1816.3C1906.2,1817.1 1904.1,1817.8 1902,1818.6C1899.9,1819.4 1897.9,1820.1 1895.8,1820.9C1893.7,1821.6 1891.7,1822.4 1889.6,1823.1C1887.5,1823.9 1885.4,1824.6 1883.4,1825.3C1881.3,1826.1 1879.2,1826.8 1877.2,1827.7C1875.1,1828.5 1873.1,1829.3 1871.1,1830.3C1869.2,1831.3 1867.2,1832.3 1865.4,1833.5C1863.5,1834.7 1861.7,1835.9 1860.1,1837.4C1858.5,1838.8 1857.2,1840.6 1855.7,1842.2C1854.2,1843.7 1852.9,1845.5 1851.3,1846.9C1849.7,1848.4 1847.9,1849.7 1846.1,1850.8C1844.2,1852 1842.2,1853 1840.2,1853.8C1838.2,1854.6 1836.1,1855.5 1834,1855.9C1831.8,1856.3 1829.6,1856.4 1827.4,1856.3C1825.2,1856.1 1822.5,1856.2 1820.9,1855.1C1819.3,1854 1818.5,1851.7 1817.8,1849.8C1817.1,1847.8 1817.3,1845.5 1816.5,1843.5C1815.7,1841.5 1814.7,1839.4 1813.2,1837.9C1811.7,1836.4 1809.6,1835.4 1807.7,1834.3C1805.8,1833.3 1803.6,1832.6 1801.9,1831.4C1800.1,1830.1 1798.4,1828.5 1797.2,1826.7C1795.9,1825 1795,1822.8 1794.4,1820.8C1793.8,1818.7 1793.4,1816.4 1793.5,1814.2C1793.6,1812.1 1794.2,1809.8 1794.9,1807.8C1795.7,1805.8 1796.8,1803.8 1798,1802C1799.3,1800.2 1800.7,1798.5 1802.3,1796.9C1803.8,1795.4 1805.6,1794 1807.3,1792.6C1808.9,1791.2 1810.7,1789.8 1812.3,1788.4C1814,1786.9 1815.6,1785.4 1817.1,1783.8C1818.7,1782.3 1820.2,1780.7 1821.6,1779C1823.1,1777.4 1824.5,1775.7 1825.8,1773.9Z"/><path class="c" d="M1828.2,1780.5C1829.3,1779.1 1830.3,1777.5 1831.4,1776.1C1832.6,1774.7 1833.8,1773.3 1835.2,1772.2C1836.6,1771 1838.2,1770 1839.8,1769.1C1841.4,1768.2 1843,1767.3 1844.7,1766.6C1846.4,1765.8 1848.1,1765.1 1849.9,1764.5C1851.6,1764 1853.5,1763.7 1855.3,1763.4C1857.1,1763.1 1859,1762.9 1860.8,1762.7C1862.7,1762.5 1864.5,1762.3 1866.4,1762.2C1868.3,1762.1 1870.1,1762 1872,1761.9C1873.8,1761.8 1875.7,1761.7 1877.5,1761.6C1879.4,1761.5 1881.3,1761.3 1883.1,1761.3C1885,1761.2 1886.8,1761.1 1888.7,1761.1C1890.5,1761.1 1892.4,1761 1894.3,1761.1C1896.1,1761.1 1898,1761.2 1899.8,1761.4C1901.7,1761.6 1903.5,1761.9 1905.3,1762.3C1907.1,1762.8 1908.9,1763.3 1910.6,1764.2C1912.2,1765 1913.9,1766 1915.1,1767.3C1916.4,1768.6 1917.4,1770.2 1918.1,1771.8C1918.9,1773.5 1919.1,1775.3 1919.6,1777.1C1920.2,1778.8 1920.7,1780.5 1921.3,1782.3C1921.9,1784 1922.5,1785.8 1923,1787.6C1923.5,1789.4 1924,1791.2 1924.3,1793C1924.5,1794.8 1924.7,1796.8 1924.4,1798.6C1924.2,1800.4 1923.6,1802.3 1922.8,1803.9C1921.9,1805.4 1920.5,1806.8 1919.1,1808C1917.7,1809.2 1916.1,1810.2 1914.4,1811.1C1912.8,1812 1911.1,1812.7 1909.4,1813.4C1907.7,1814.1 1905.9,1814.6 1904.1,1815.3C1902.4,1815.9 1900.7,1816.6 1898.9,1817.2C1897.2,1817.9 1895.4,1818.5 1893.7,1819.1C1891.9,1819.8 1890.2,1820.4 1888.4,1821C1886.7,1821.6 1884.9,1822.3 1883.2,1822.9C1881.4,1823.5 1879.6,1824 1877.9,1824.6C1876.1,1825.2 1874.4,1825.8 1872.6,1826.5C1870.9,1827.2 1869.2,1827.9 1867.5,1828.6C1865.8,1829.4 1864.2,1830.2 1862.6,1831.2C1861,1832.1 1859.5,1833.1 1858.1,1834.3C1856.7,1835.4 1855.5,1836.8 1854.3,1838C1853,1839.3 1851.8,1840.6 1850.4,1841.8C1849,1842.9 1847.5,1843.9 1845.9,1844.8C1844.3,1845.7 1842.6,1846.5 1840.9,1847.2C1839.2,1847.8 1837.5,1848.5 1835.7,1848.8C1833.8,1849.1 1831.9,1849.1 1830.1,1849C1828.3,1848.9 1826,1849 1824.6,1848.1C1823.2,1847.2 1822.5,1845.3 1821.8,1843.8C1821.1,1842.2 1821.1,1840.4 1820.4,1838.8C1819.7,1837.2 1818.7,1835.5 1817.5,1834.2C1816.2,1833 1814.4,1832.2 1812.8,1831.3C1811.2,1830.3 1809.4,1829.8 1807.9,1828.7C1806.4,1827.6 1805,1826.3 1804,1824.8C1802.9,1823.3 1802.1,1821.5 1801.6,1819.7C1801.1,1818 1800.8,1816.1 1800.9,1814.2C1801,1812.4 1801.4,1810.5 1802.1,1808.8C1802.7,1807.1 1803.6,1805.4 1804.6,1803.9C1805.6,1802.3 1806.9,1800.9 1808.1,1799.6C1809.4,1798.2 1810.9,1797.1 1812.3,1795.9C1813.7,1794.7 1815.2,1793.5 1816.6,1792.3C1818,1791.1 1819.4,1789.8 1820.7,1788.5C1822,1787.3 1823.3,1785.9 1824.6,1784.6C1825.8,1783.3 1827.1,1781.9 1828.2,1780.5Z"/><path class="c" d="M1830.5,1786.6C1831.5,1785.5 1832.3,1784.3 1833.3,1783.3C1834.3,1782.2 1835.3,1781.1 1836.5,1780.2C1837.7,1779.3 1839.1,1778.6 1840.4,1777.9C1841.7,1777.1 1843.1,1776.5 1844.5,1775.9C1845.9,1775.3 1847.3,1774.7 1848.8,1774.3C1850.3,1773.9 1851.8,1773.7 1853.3,1773.5C1854.8,1773.2 1856.4,1773.1 1857.9,1773C1859.4,1772.8 1860.9,1772.7 1862.5,1772.6C1864,1772.5 1865.5,1772.4 1867.1,1772.4C1868.6,1772.3 1870.1,1772.2 1871.7,1772.1C1873.2,1772.1 1874.7,1772 1876.3,1771.9C1877.8,1771.9 1879.3,1771.9 1880.9,1771.9C1882.4,1771.9 1883.9,1771.9 1885.5,1771.9C1887,1772 1888.5,1772.1 1890,1772.3C1891.6,1772.5 1893.1,1772.7 1894.6,1773.1C1896,1773.5 1897.5,1773.9 1898.9,1774.6C1900.3,1775.3 1901.7,1776.1 1902.7,1777.1C1903.8,1778.1 1904.7,1779.4 1905.4,1780.7C1906,1782 1906.3,1783.5 1906.8,1784.8C1907.3,1786.2 1907.9,1787.7 1908.4,1789.1C1908.9,1790.5 1909.5,1791.9 1909.9,1793.4C1910.4,1794.9 1910.8,1796.4 1911,1797.9C1911.2,1799.4 1911.3,1801 1911.1,1802.4C1910.9,1803.9 1910.4,1805.5 1909.7,1806.8C1908.9,1808.1 1907.8,1809.2 1906.7,1810.3C1905.5,1811.3 1904.2,1812.1 1902.9,1812.9C1901.6,1813.6 1900.2,1814.2 1898.8,1814.8C1897.4,1815.4 1895.9,1815.9 1894.5,1816.5C1893,1817 1891.6,1817.5 1890.1,1818.1C1888.7,1818.6 1887.3,1819.1 1885.8,1819.6C1884.4,1820.1 1882.9,1820.6 1881.5,1821.1C1880,1821.6 1878.6,1822.1 1877.1,1822.6C1875.6,1823.1 1874.2,1823.5 1872.7,1824C1871.3,1824.5 1869.8,1824.9 1868.4,1825.4C1866.9,1826 1865.5,1826.5 1864.1,1827.1C1862.7,1827.7 1861.3,1828.3 1860,1829C1858.7,1829.7 1857.4,1830.5 1856.2,1831.3C1855,1832.2 1854,1833.2 1852.9,1834.1C1851.8,1835.1 1850.8,1836.1 1849.6,1836.9C1848.4,1837.8 1847.1,1838.5 1845.8,1839.2C1844.4,1839.9 1843,1840.4 1841.6,1840.9C1840.2,1841.4 1838.7,1841.9 1837.2,1842.1C1835.7,1842.3 1834.2,1842.3 1832.6,1842.2C1831.1,1842.1 1829.3,1842.1 1828.1,1841.4C1826.9,1840.8 1826.3,1839.3 1825.6,1838.2C1824.9,1837 1824.8,1835.5 1824.1,1834.3C1823.4,1833.1 1822.6,1831.7 1821.5,1830.8C1820.4,1829.8 1819,1829.1 1817.6,1828.4C1816.3,1827.6 1814.8,1827.1 1813.6,1826.2C1812.4,1825.3 1811.2,1824.2 1810.3,1823C1809.5,1821.7 1808.8,1820.3 1808.4,1818.8C1808,1817.3 1807.8,1815.8 1807.9,1814.3C1807.9,1812.7 1808.3,1811.2 1808.8,1809.8C1809.3,1808.3 1810,1806.9 1810.8,1805.7C1811.7,1804.4 1812.6,1803.2 1813.7,1802C1814.7,1800.9 1815.9,1799.9 1817,1798.9C1818.2,1797.9 1819.4,1797 1820.6,1796C1821.7,1795 1822.9,1794 1824,1793C1825.2,1792 1826.3,1790.9 1827.3,1789.9C1828.4,1788.8 1829.5,1787.7 1830.5,1786.6Z"/><path class="c" d="M1832.6,1792.4C1833.4,1791.6 1834.2,1790.7 1835,1790C1835.9,1789.2 1836.8,1788.4 1837.8,1787.8C1838.8,1787.1 1839.9,1786.6 1841,1786.1C1842.1,1785.5 1843.2,1785.1 1844.3,1784.6C1845.5,1784.2 1846.6,1783.8 1847.8,1783.5C1849,1783.2 1850.2,1783.1 1851.4,1782.9C1852.6,1782.7 1853.9,1782.6 1855.1,1782.5C1856.3,1782.4 1857.6,1782.3 1858.8,1782.3C1860,1782.2 1861.2,1782.2 1862.5,1782.1C1863.7,1782.1 1864.9,1782.1 1866.2,1782C1867.4,1782 1868.6,1781.9 1869.8,1781.9C1871.1,1781.9 1872.3,1781.9 1873.5,1782C1874.8,1782 1876,1782 1877.2,1782.1C1878.4,1782.2 1879.7,1782.3 1880.9,1782.5C1882.1,1782.6 1883.3,1782.8 1884.5,1783.2C1885.7,1783.5 1886.9,1783.8 1888,1784.4C1889.1,1784.9 1890.2,1785.5 1891.1,1786.3C1892,1787.1 1892.7,1788 1893.4,1789C1894,1790 1894.3,1791.1 1894.8,1792.2C1895.3,1793.2 1895.8,1794.3 1896.3,1795.4C1896.7,1796.5 1897.2,1797.7 1897.6,1798.8C1898,1800 1898.4,1801.2 1898.5,1802.4C1898.7,1803.6 1898.8,1804.9 1898.6,1806.1C1898.4,1807.3 1898,1808.5 1897.4,1809.6C1896.8,1810.6 1895.9,1811.5 1895,1812.4C1894.1,1813.2 1893.1,1813.9 1892.1,1814.5C1891,1815.2 1889.9,1815.7 1888.8,1816.2C1887.7,1816.7 1886.5,1817.1 1885.4,1817.6C1884.2,1818 1883.1,1818.5 1881.9,1818.9C1880.8,1819.3 1879.6,1819.7 1878.4,1820.1C1877.3,1820.5 1876.1,1820.9 1874.9,1821.2C1873.8,1821.6 1872.6,1822 1871.4,1822.3C1870.2,1822.7 1869.1,1823 1867.9,1823.4C1866.7,1823.7 1865.5,1824.1 1864.4,1824.4C1863.2,1824.8 1862,1825.2 1860.9,1825.6C1859.8,1826 1858.6,1826.5 1857.6,1826.9C1856.5,1827.4 1855.4,1828 1854.4,1828.6C1853.4,1829.1 1852.5,1829.8 1851.6,1830.5C1850.7,1831.1 1849.8,1831.8 1848.8,1832.4C1847.8,1833 1846.7,1833.5 1845.6,1833.9C1844.6,1834.4 1843.4,1834.7 1842.3,1835.1C1841.1,1835.4 1839.9,1835.7 1838.7,1835.8C1837.5,1835.9 1836.3,1835.9 1835,1835.8C1833.8,1835.8 1832.4,1835.7 1831.4,1835.2C1830.4,1834.7 1829.8,1833.7 1829.1,1832.9C1828.5,1832 1828.2,1831 1827.6,1830.1C1827,1829.2 1826.2,1828.2 1825.3,1827.5C1824.4,1826.8 1823.2,1826.2 1822.1,1825.6C1821.1,1825 1819.9,1824.6 1818.9,1823.9C1817.9,1823.2 1817,1822.3 1816.3,1821.3C1815.7,1820.3 1815.1,1819.1 1814.8,1817.9C1814.5,1816.7 1814.3,1815.5 1814.4,1814.3C1814.4,1813.1 1814.7,1811.8 1815.1,1810.6C1815.5,1809.5 1816.1,1808.4 1816.7,1807.3C1817.3,1806.3 1818,1805.3 1818.8,1804.4C1819.6,1803.4 1820.6,1802.6 1821.5,1801.8C1822.4,1801 1823.4,1800.2 1824.3,1799.5C1825.3,1798.7 1826.2,1797.9 1827.2,1797.1C1828.1,1796.4 1829,1795.6 1829.9,1794.8C1830.8,1794 1831.7,1793.2 1832.6,1792.4Z"/><path class="c" d="M1834.7,1798.2C1835.4,1797.7 1836.1,1797.1 1836.8,1796.7C1837.5,1796.2 1838.3,1795.7 1839.1,1795.3C1839.8,1794.9 1840.7,1794.6 1841.6,1794.3C1842.4,1793.9 1843.3,1793.6 1844.1,1793.4C1845,1793.1 1845.9,1792.9 1846.8,1792.7C1847.7,1792.6 1848.6,1792.4 1849.6,1792.3C1850.5,1792.2 1851.4,1792.2 1852.3,1792.1C1853.3,1792.1 1854.2,1792 1855.1,1792C1856,1791.9 1857,1791.9 1857.9,1791.9C1858.8,1791.9 1859.7,1791.9 1860.7,1791.9C1861.6,1791.9 1862.5,1791.9 1863.4,1791.9C1864.4,1792 1865.3,1792 1866.2,1792.1C1867.1,1792.1 1868,1792.2 1869,1792.3C1869.9,1792.4 1870.8,1792.5 1871.7,1792.6C1872.6,1792.8 1873.5,1793 1874.4,1793.2C1875.3,1793.5 1876.2,1793.8 1877,1794.1C1877.9,1794.5 1878.7,1795 1879.5,1795.5C1880.2,1796 1880.8,1796.6 1881.4,1797.3C1882,1798 1882.4,1798.7 1882.8,1799.5C1883.3,1800.2 1883.8,1801 1884.2,1801.8C1884.6,1802.6 1885,1803.4 1885.3,1804.3C1885.6,1805.2 1885.9,1806.1 1886.1,1807C1886.2,1807.9 1886.2,1808.8 1886.1,1809.7C1885.9,1810.6 1885.6,1811.5 1885.1,1812.3C1884.7,1813.1 1884,1813.8 1883.4,1814.5C1882.7,1815.1 1882,1815.7 1881.2,1816.2C1880.5,1816.7 1879.7,1817.2 1878.8,1817.6C1878,1818 1877.2,1818.4 1876.3,1818.7C1875.5,1819.1 1874.6,1819.4 1873.7,1819.7C1872.8,1820 1872,1820.3 1871.1,1820.6C1870.2,1820.8 1869.3,1821.1 1868.4,1821.4C1867.5,1821.6 1866.6,1821.9 1865.7,1822.1C1864.8,1822.3 1863.9,1822.5 1863,1822.8C1862.1,1823 1861.3,1823.2 1860.4,1823.4C1859.5,1823.7 1858.6,1823.9 1857.7,1824.1C1856.8,1824.4 1856,1824.6 1855.1,1824.9C1854.3,1825.2 1853.4,1825.5 1852.6,1825.8C1851.8,1826.1 1851.1,1826.5 1850.3,1826.8C1849.5,1827.2 1848.8,1827.5 1848,1827.8C1847.2,1828.1 1846.4,1828.4 1845.5,1828.6C1844.7,1828.9 1843.8,1829 1842.9,1829.2C1842,1829.3 1841.1,1829.5 1840.2,1829.5C1839.3,1829.6 1838.3,1829.6 1837.4,1829.5C1836.5,1829.4 1835.5,1829.3 1834.7,1829C1833.9,1828.7 1833.3,1828.1 1832.7,1827.6C1832.1,1827.1 1831.7,1826.5 1831.1,1825.9C1830.5,1825.3 1829.8,1824.8 1829.1,1824.3C1828.3,1823.8 1827.5,1823.4 1826.7,1822.9C1825.9,1822.5 1825,1822.1 1824.2,1821.6C1823.5,1821 1822.8,1820.3 1822.3,1819.6C1821.8,1818.8 1821.4,1817.9 1821.2,1817C1821,1816.1 1820.9,1815.2 1820.9,1814.3C1821,1813.4 1821.2,1812.4 1821.4,1811.5C1821.7,1810.7 1822.1,1809.8 1822.5,1809C1822.9,1808.2 1823.4,1807.4 1824,1806.7C1824.6,1806 1825.3,1805.3 1825.9,1804.7C1826.6,1804.1 1827.4,1803.5 1828.1,1802.9C1828.8,1802.4 1829.6,1801.8 1830.3,1801.3C1831,1800.8 1831.8,1800.3 1832.5,1799.7C1833.3,1799.2 1834,1798.7 1834.7,1798.2Z"/><path class="c" d="M1828.4,1813.4C1828.7,1811.4 1829.6,1808.7 1832,1807.1C1834.5,1805.4 1838.7,1804 1842.9,1803.4C1847.2,1802.8 1853.2,1802.8 1857.5,1803.4C1861.7,1804 1865.9,1805.4 1868.3,1807.1C1870.8,1808.7 1872.3,1811.3 1872,1813.4C1871.7,1815.5 1869.5,1818.3 1866.5,1819.8C1863.5,1821.3 1858.4,1822.1 1853.8,1822.5C1849.3,1822.9 1843.2,1822.7 1839.3,1822.1C1835.4,1821.5 1832,1820.3 1830.2,1818.9C1828.4,1817.4 1828.1,1815.4 1828.4,1813.4Z"/><path class="c" d="M1908.6,1749.5C1908.9,1748.7 1910.1,1747.4 1911.9,1746.8C1913.7,1746.3 1917,1746 1919.2,1746.3C1921.3,1746.5 1924.1,1747.5 1924.6,1748.4C1925.1,1749.3 1923.4,1751 1921.9,1751.7C1920.4,1752.4 1917.5,1752.8 1915.5,1752.8C1913.6,1752.8 1911.2,1752.3 1910.1,1751.7C1908.9,1751.2 1908.3,1750.3 1908.6,1749.5Z"/><path class="c" d="M1775.8,1871.5C1776.1,1869.7 1777.3,1866.7 1779.4,1865.1C1781.5,1863.6 1785.2,1862.6 1788.5,1862.1C1791.8,1861.5 1796.7,1861.5 1799.4,1862.1C1802.1,1862.6 1804.2,1863.6 1804.8,1865.1C1805.4,1866.7 1804.5,1869.5 1803,1871.5C1801.5,1873.5 1798.8,1875.7 1795.7,1876.9C1792.7,1878.1 1787.9,1878.9 1784.9,1878.7C1781.8,1878.6 1779.1,1877.2 1777.6,1876C1776.1,1874.8 1775.5,1873.3 1775.8,1871.5Z"/><path class="c" d="M1764.9,1873.3C1764.9,1870.3 1765.5,1865.4 1767.6,1862.4C1769.7,1859.4 1773.5,1856.8 1777.6,1855.2C1781.7,1853.5 1787.6,1852.6 1792.1,1852.4C1796.7,1852.3 1801.8,1852.9 1804.8,1854.2C1807.8,1855.6 1809.7,1857.7 1810.3,1860.6C1810.9,1863.5 1810,1868.2 1808.4,1871.5C1806.9,1874.8 1804.5,1878.3 1801.2,1880.6C1797.9,1882.8 1792.7,1884.3 1788.5,1885.1C1784.2,1885.9 1779.3,1885.9 1775.8,1885.1C1772.3,1884.3 1769.4,1882.5 1767.6,1880.6C1765.8,1878.6 1764.9,1876.3 1764.9,1873.3Z"/><path class="c" d="M1764.9,1915C1764.7,1913.1 1765.8,1910.1 1767.6,1908.7C1769.4,1907.2 1772.9,1906.5 1775.8,1906.3C1778.7,1906.2 1782.7,1906.6 1784.9,1907.8C1787,1908.9 1788.3,1911.4 1788.5,1913.2C1788.6,1915.1 1787.6,1917.7 1785.8,1919C1783.9,1920.4 1780.5,1921.2 1777.6,1921.4C1774.7,1921.6 1770.6,1921.2 1768.5,1920.1C1766.4,1919.1 1765,1917 1764.9,1915Z"/><path class="c" d="M1763.4,1975.3C1764,1974.5 1765.9,1973.3 1767.6,1972.8C1769.4,1972.2 1771.8,1972.1 1774,1972.2C1776.1,1972.3 1779.1,1972.8 1780.3,1973.5C1781.5,1974.2 1781.8,1975.5 1781.2,1976.4C1780.6,1977.2 1778.7,1978.1 1776.7,1978.6C1774.7,1979 1771.5,1979.1 1769.4,1978.9C1767.4,1978.8 1765.5,1978.3 1764.5,1977.7C1763.5,1977.1 1762.9,1976.1 1763.4,1975.3Z"/><path class="c" d="M1764.9,1721.8C1765,1720.6 1766.4,1718.9 1767.6,1718.1C1768.8,1717.4 1770.7,1717 1772.2,1717.2C1773.6,1717.4 1775.5,1718.3 1776.1,1719.4C1776.7,1720.5 1776.6,1722.5 1775.8,1723.6C1775,1724.7 1772.8,1725.6 1771.2,1725.9C1769.7,1726.2 1767.8,1726.1 1766.7,1725.4C1765.6,1724.7 1764.7,1723 1764.9,1721.8Z"/><path class="c" d="M1720.3,1917.4C1720.3,1917.7 1720,1918.1 1719.5,1918.3C1719.1,1918.5 1718.3,1918.7 1717.7,1918.7C1717.1,1918.7 1716.3,1918.5 1715.9,1918.3C1715.4,1918.1 1715.1,1917.7 1715.1,1917.4C1715.1,1917.1 1715.4,1916.7 1715.9,1916.5C1716.3,1916.3 1717.1,1916.1 1717.7,1916.1C1718.3,1916.1 1719.1,1916.3 1719.5,1916.5C1720,1916.7 1720.3,1917.1 1720.3,1917.4Z"/><line class="dg" x1="1667.5" y1="2013.7" x2="2049.1" y2="1653.5"/><rect class="fr" x="1667.5" y="1653.5" width="381.6" height="360.2"/><text class="tt" x="1858.3" y="1610.5">Stem conduit density</text><text class="tt" x="1858.3" y="1645">r = 0.47</text><text class="tx" x="1721.2" y="2046.6">2</text><text class="tx" x="1829.8" y="2046.6">4</text><text class="tx" x="1938.4" y="2046.6">6</text><text class="tx" x="2046.9" y="2046.6">8</text><text class="ty" x="1653.9" y="1971.8">2</text><text class="ty" x="1653.9" y="1869.3">4</text><text class="ty" x="1653.9" y="1766.9">6</text><text class="ty" x="1653.9" y="1664.4">8</text><text class="lb" x="1858.3" y="2077.8">sPlotOpen plot</text><text class="lb" transform="translate(1626.2,1833.6) rotate(-90)">iNaturalist obs. mean</text></g>
<g><path class="c" d="M109,2391.6C109.3,2389 112.4,2387.5 115.9,2385.6C119.4,2383.8 124.2,2382.2 129.9,2380.7C135.5,2379.2 143.1,2378 149.8,2376.7C156.4,2375.4 164,2374.9 169.7,2372.7C175.3,2370.5 179.6,2366.9 183.6,2363.7C187.6,2360.6 191.2,2357.1 193.6,2353.8C195.9,2350.5 195.5,2346.5 197.5,2343.8C199.5,2341.2 201.8,2339.5 205.5,2337.9C209.1,2336.2 214.5,2335.4 219.4,2333.9C224.4,2332.4 230.4,2329.6 235.4,2328.9C240.3,2328.2 244.6,2330.2 249.3,2329.9C253.9,2329.6 258.9,2328.2 263.2,2326.9C267.5,2325.6 271.5,2322.9 275.2,2321.9C278.8,2320.9 281.8,2320.4 285.1,2320.9C288.4,2321.4 291.1,2323.4 295.1,2324.9C299,2326.4 304,2328.6 309,2329.9C314,2331.2 319.3,2332.1 324.9,2332.9C330.6,2333.7 337.9,2333.9 342.8,2334.9C347.8,2335.9 352.5,2336.9 354.8,2338.9C357.1,2340.9 355.8,2344.7 356.8,2346.8C357.8,2349 357.8,2350 360.7,2351.8C363.7,2353.6 369.7,2355.9 374.7,2357.8C379.7,2359.6 385,2361.4 390.6,2362.7C396.2,2364.1 403.2,2364.7 408.5,2365.7C413.8,2366.7 418.8,2367.1 422.5,2368.7C426.1,2370.4 428.8,2372.5 430.4,2375.7C432.1,2378.8 432.4,2384 432.4,2387.6C432.4,2391.3 432.1,2394.9 430.4,2397.6C428.8,2400.2 425.8,2401.9 422.5,2403.6C419.1,2405.2 414.5,2405.9 410.5,2407.5C406.5,2409.2 402.9,2411.3 398.6,2413.5C394.3,2415.7 389.6,2418.5 384.6,2420.5C379.7,2422.5 373.4,2424 368.7,2425.4C364.1,2426.9 359.4,2427.8 356.8,2429.4C354.1,2431.1 351.8,2433.9 352.8,2435.4C353.8,2436.9 358.4,2437.4 362.7,2438.4C367.1,2439.4 374.8,2440 378.7,2441.4C382.5,2442.7 385.3,2444.9 385.6,2446.3C386,2447.8 384.1,2449.2 380.7,2450.3C377.2,2451.5 370.7,2452.5 364.7,2453.3C358.8,2454.1 351.5,2455 344.8,2455.3C338.2,2455.6 331.6,2455.5 324.9,2455.3C318.3,2455.1 311.7,2454.6 305,2454.3C298.4,2454 291.7,2453.8 285.1,2453.3C278.5,2452.8 271.8,2452 265.2,2451.3C258.6,2450.7 251.9,2450 245.3,2449.3C238.7,2448.7 232,2447.8 225.4,2447.3C218.8,2446.8 212.1,2446.7 205.5,2446.3C198.9,2446 191.9,2445.8 185.6,2445.4C179.3,2444.9 171.8,2444.2 167.7,2443.4C163.5,2442.5 160.7,2441.4 160.7,2440.4C160.7,2439.4 163.9,2438.4 167.7,2437.4C171.5,2436.4 178.3,2435.1 183.6,2434.4C188.9,2433.7 196.2,2434.1 199.5,2433.4C202.8,2432.7 204.8,2431.4 203.5,2430.4C202.2,2429.4 196.2,2428.3 191.6,2427.4C186.9,2426.6 180.9,2426.4 175.6,2425.4C170.3,2424.5 164,2422.8 159.7,2421.5C155.4,2420.1 153.1,2418.8 149.8,2417.5C146.4,2416.2 143.8,2415.2 139.8,2413.5C135.8,2411.8 130.2,2409.5 125.9,2407.5C121.6,2405.5 116.8,2404.2 113.9,2401.6C111.1,2398.9 108.6,2394.3 109,2391.6Z"/><path class="c" d="M285.1,2445.4C285.6,2444.5 287.1,2443.9 291.1,2443.4C295.1,2442.9 302.7,2442.6 309,2442.4C315.3,2442.1 322.3,2441.9 328.9,2442C335.5,2442.1 343.7,2442.4 348.8,2443C353.9,2443.5 358.4,2444.4 359.8,2445.4C361.1,2446.3 360.3,2448 356.8,2448.9C353.3,2449.9 345.2,2450.5 338.9,2450.9C332.6,2451.3 325.6,2451.4 318.9,2451.3C312.3,2451.2 304.2,2450.8 299,2450.3C293.9,2449.8 290.4,2449.2 288.1,2448.3C285.8,2447.5 284.6,2446.2 285.1,2445.4Z"/><path class="c" d="M147.8,2401.6C148.3,2399.2 149.1,2395.9 151.8,2393.6C154.4,2391.3 159,2389.9 163.7,2387.6C168.3,2385.3 174.6,2382.7 179.6,2379.7C184.6,2376.7 188.9,2372.7 193.6,2369.7C198.2,2366.7 202.5,2364.6 207.5,2361.8C212.5,2358.9 218.1,2355.3 223.4,2352.8C228.7,2350.3 234,2348 239.3,2346.8C244.6,2345.7 249.9,2345.5 255.3,2345.8C260.6,2346.2 266.5,2347.7 271.2,2348.8C275.8,2350 278.8,2351.3 283.1,2352.8C287.4,2354.3 291.7,2356.1 297.1,2357.8C302.4,2359.4 308.7,2361.6 315,2362.7C321.3,2363.9 328.2,2363.9 334.9,2364.7C341.5,2365.6 348.1,2366.7 354.8,2367.7C361.4,2368.7 368.7,2369.7 374.7,2370.7C380.7,2371.7 386,2372.5 390.6,2373.7C395.2,2374.9 399.7,2375.7 402.5,2377.7C405.4,2379.7 406.9,2383 407.5,2385.6C408.2,2388.3 408,2391.3 406.5,2393.6C405,2395.9 401.9,2397.6 398.6,2399.6C395.2,2401.6 391.3,2403.7 386.6,2405.5C382,2407.4 376,2409 370.7,2410.5C365.4,2412 360.1,2413.3 354.8,2414.5C349.5,2415.7 344.8,2416.7 338.9,2417.5C332.9,2418.3 325.6,2418.8 318.9,2419.5C312.3,2420.1 305.7,2420.8 299,2421.5C292.4,2422.1 285.8,2422.8 279.1,2423.5C272.5,2424.1 265.9,2424.8 259.2,2425.4C252.6,2426.1 246,2426.9 239.3,2427.4C232.7,2427.9 225.4,2428.1 219.4,2428.4C213.5,2428.8 208.5,2429.6 203.5,2429.4C198.5,2429.3 194.2,2428.4 189.6,2427.4C184.9,2426.4 180.6,2424.9 175.6,2423.5C170.7,2422 163.7,2420.1 159.7,2418.5C155.7,2416.8 153.6,2415.3 151.8,2413.5C149.9,2411.7 149.4,2409.5 148.8,2407.5C148.1,2405.5 147.3,2403.9 147.8,2401.6Z"/><path class="c" d="M171.7,2397.6C172,2394.8 173,2392.3 175.6,2389.6C178.3,2387 182.9,2384.3 187.6,2381.7C192.2,2379 198.2,2376.2 203.5,2373.7C208.8,2371.2 213.5,2368.6 219.4,2366.7C225.4,2364.9 232.7,2363.5 239.3,2362.7C246,2362 252.6,2362.1 259.2,2362.1C265.9,2362.2 272.5,2362.9 279.1,2363.3C285.8,2363.8 292.4,2364.2 299,2364.7C305.7,2365.3 312.3,2365.9 318.9,2366.7C325.6,2367.6 332.2,2368.7 338.9,2369.7C345.5,2370.7 352.8,2371.5 358.8,2372.7C364.7,2373.9 370.4,2375.2 374.7,2376.7C379,2378.2 382.3,2379.5 384.6,2381.7C387,2383.8 388.9,2387.3 388.6,2389.6C388.3,2391.9 385.6,2393.6 382.6,2395.6C379.7,2397.6 375.3,2399.7 370.7,2401.6C366.1,2403.4 360.1,2405 354.8,2406.5C349.5,2408 344.8,2409.4 338.9,2410.5C332.9,2411.7 325.6,2412.7 318.9,2413.5C312.3,2414.3 305.7,2414.8 299,2415.5C292.4,2416.2 285.8,2416.8 279.1,2417.5C272.5,2418.1 265.9,2419 259.2,2419.5C252.6,2420 246,2420.3 239.3,2420.5C232.7,2420.6 226.1,2420.8 219.4,2420.5C212.8,2420.1 205.5,2419.6 199.5,2418.5C193.6,2417.3 187.9,2415.5 183.6,2413.5C179.3,2411.5 175.6,2409.2 173.6,2406.5C171.7,2403.9 171.3,2400.4 171.7,2397.6Z"/><path class="c" d="M187.6,2395.6C187.9,2393.3 188.9,2390.1 191.6,2387.6C194.2,2385.1 198.9,2383 203.5,2380.7C208.1,2378.3 213.5,2375.5 219.4,2373.7C225.4,2371.9 232.7,2370.6 239.3,2369.7C246,2368.8 252.6,2368.3 259.2,2368.1C265.9,2368 272.5,2368.4 279.1,2368.7C285.8,2369 292.4,2369.5 299,2370.1C305.7,2370.7 312.3,2371.3 318.9,2372.1C325.6,2372.9 332.6,2373.6 338.9,2374.7C345.2,2375.8 352.1,2377 356.8,2378.7C361.4,2380.3 364.7,2382.7 366.7,2384.6C368.7,2386.6 369.7,2388.8 368.7,2390.6C367.7,2392.4 364.4,2393.9 360.7,2395.6C357.1,2397.2 351.8,2399.1 346.8,2400.6C341.8,2402.1 336.9,2403.4 330.9,2404.5C324.9,2405.7 317.6,2406.7 311,2407.5C304.4,2408.4 297.7,2408.9 291.1,2409.5C284.4,2410.2 277.8,2410.9 271.2,2411.5C264.5,2412.1 257.9,2412.8 251.3,2413.1C244.6,2413.4 237.7,2413.8 231.4,2413.5C225.1,2413.2 218.8,2412.5 213.5,2411.5C208.1,2410.5 203.5,2409.2 199.5,2407.5C195.5,2405.9 191.6,2403.6 189.6,2401.6C187.6,2399.6 187.2,2397.9 187.6,2395.6Z"/><path class="c" d="M199.5,2394.2C199.9,2392 200.8,2388.1 203.5,2385.6C206.2,2383.2 210.8,2381.3 215.4,2379.7C220.1,2378 225.7,2376.7 231.4,2375.7C237,2374.7 243,2374.1 249.3,2373.7C255.6,2373.3 262.6,2373.2 269.2,2373.3C275.8,2373.4 282.5,2373.6 289.1,2374.1C295.7,2374.6 302.4,2375.2 309,2376.1C315.6,2376.9 322.9,2378 328.9,2379.3C334.9,2380.5 341,2381.9 344.8,2383.6C348.6,2385.4 351.5,2387.7 351.8,2389.6C352.1,2391.6 350,2393.8 346.8,2395.3C343.7,2396.9 338.2,2397.6 332.9,2398.8C327.6,2399.9 320.9,2401.1 315,2402.2C309,2403.4 303,2404.7 297.1,2405.6C291.1,2406.6 285.4,2407.3 279.1,2407.9C272.8,2408.6 265.9,2409.2 259.2,2409.5C252.6,2409.9 245.6,2410.4 239.3,2410.2C233,2410 226.6,2409.5 221.4,2408.4C216.3,2407.3 211.8,2405.4 208.5,2403.8C205.2,2402.2 203,2400.4 201.5,2398.8C200,2397.2 199.2,2396.4 199.5,2394.2Z"/><path class="c" d="M208.5,2392.4C208.8,2390.3 209,2386.8 211.5,2384.6C214,2382.5 218.8,2381 223.4,2379.7C228.1,2378.3 233.7,2377.4 239.3,2376.7C245,2376 251.3,2375.5 257.2,2375.3C263.2,2375.1 269.2,2375.3 275.2,2375.7C281.1,2376.1 287.1,2376.8 293.1,2377.7C299,2378.5 305,2379.5 311,2380.7C317,2381.8 324.8,2383.1 328.9,2384.6C333,2386.1 335.5,2387.9 335.9,2389.6C336.2,2391.4 334,2393.6 330.9,2395.1C327.7,2396.6 322.3,2397.3 317,2398.4C311.7,2399.6 305,2400.8 299,2402C293.1,2403.2 287.1,2404.6 281.1,2405.5C275.2,2406.5 269.2,2407 263.2,2407.5C257.2,2407.9 250.9,2408.4 245.3,2408.3C239.7,2408.2 234.4,2407.7 229.4,2406.6C224.4,2405.6 218.8,2403.5 215.4,2402C212.1,2400.4 210.6,2398.9 209.5,2397.3C208.3,2395.7 208.1,2394.5 208.5,2392.4Z"/><path class="c" d="M215.4,2391C215.6,2389 216.1,2386.4 218.4,2384.6C220.8,2382.9 224.9,2381.7 229.4,2380.7C233.9,2379.7 240,2379.1 245.3,2378.7C250.6,2378.2 255.9,2378 261.2,2378.1C266.5,2378.2 271.8,2378.6 277.1,2379.3C282.5,2379.9 288.1,2380.8 293.1,2382.1C298,2383.3 304.4,2385.1 307,2386.6C309.7,2388.1 310,2389.7 309,2391C308,2392.3 304.7,2393.5 301,2394.6C297.4,2395.8 292.1,2396.9 287.1,2398C282.1,2399.1 276.5,2400.4 271.2,2401.3C265.9,2402.3 260.6,2403.2 255.3,2403.6C249.9,2403.9 244.3,2404 239.3,2403.6C234.4,2403.1 229,2401.9 225.4,2400.8C221.7,2399.6 219.1,2398.2 217.4,2396.6C215.8,2395 215.3,2393 215.4,2391Z"/><path class="c" d="M221.4,2389.6C221.1,2387.7 222.1,2385.9 224.4,2384.6C226.7,2383.4 230.9,2382.6 235.4,2382.1C239.8,2381.5 246,2381.3 251.3,2381.3C256.6,2381.3 262.6,2381.4 267.2,2382.1C271.8,2382.7 276.5,2384 279.1,2385.2C281.8,2386.5 283.5,2388 283.1,2389.6C282.8,2391.2 280.1,2393.3 277.1,2394.8C274.2,2396.3 269.5,2397.7 265.2,2398.7C260.9,2399.6 255.9,2400.3 251.3,2400.5C246.6,2400.7 241.5,2400.7 237.3,2400C233.2,2399.2 229,2397.8 226.4,2396.1C223.7,2394.4 221.7,2391.5 221.4,2389.6Z"/><path class="c" d="M230.4,2389.6C230.4,2388.3 231.2,2386.6 233.4,2385.6C235.5,2384.6 239,2384 243.3,2383.6C247.6,2383.3 254.3,2383.2 259.2,2383.6C264.2,2384 270.3,2384.8 273.2,2386C276,2387.2 276.8,2389.3 276.2,2390.8C275.5,2392.2 272.7,2393.8 269.2,2394.9C265.7,2396 259.9,2396.8 255.3,2397.2C250.6,2397.5 245,2397.5 241.3,2396.9C237.6,2396.4 234.8,2395 233,2393.7C231.1,2392.5 230.3,2391 230.4,2389.6Z"/><line class="dg" x1="85.1" y1="2542.8" x2="466.7" y2="2182.6"/><rect class="fr" x="85.1" y="2182.6" width="381.6" height="360.2"/><text class="tt" x="275.9" y="2139.7">Dispersal unit length</text><text class="tt" x="275.9" y="2174.1">r = 0.03</text><text class="tx" x="149.5" y="2575.7">0</text><text class="tx" x="336.1" y="2575.7">2</text><text class="ty" x="71.5" y="2490.9">0</text><text class="ty" x="71.5" y="2402.9">1</text><text class="ty" x="71.5" y="2314.8">2</text><text class="ty" x="71.5" y="2226.7">3</text><text class="lb" x="275.9" y="2606.9">sPlotOpen plot</text><text class="lb" transform="translate(43.8,2362.7) rotate(-90)">iNaturalist obs. mean</text></g>
<g><path class="c" d="M650.5,2378.7C650.1,2376.2 651.9,2373.5 653.3,2370.1C654.7,2366.8 657.1,2361.6 659,2358.7C660.9,2355.9 661.6,2354.3 664.7,2353C667.9,2351.8 673.3,2352.4 678.1,2351.1C682.8,2349.8 688.8,2347.6 693.3,2345.4C697.7,2343.2 702.5,2339.7 704.7,2337.8C706.9,2335.9 707.9,2335.3 706.6,2334C705.3,2332.7 698.4,2331.5 697.1,2330.2C695.8,2328.9 696.5,2327.3 699,2326.4C701.5,2325.4 707.6,2325.1 712.3,2324.5C717.1,2323.8 722.5,2323.4 727.5,2322.6C732.6,2321.8 738.3,2320.8 742.8,2319.7C747.2,2318.6 752,2317.7 754.2,2315.9C756.4,2314.2 755.4,2311.3 756.1,2309.3C756.7,2307.2 755.8,2305.4 758,2303.5C760.2,2301.6 765,2299.7 769.4,2297.8C773.8,2295.9 779.2,2293.7 784.6,2292.1C790,2290.5 795.7,2289.3 801.8,2288.3C807.8,2287.3 814.4,2286.6 820.8,2286C827.1,2285.5 833.5,2285.1 839.8,2284.9C846.2,2284.7 852.5,2284.5 858.8,2284.9C865.2,2285.3 872.5,2285.8 877.9,2287.4C883.3,2288.9 887.1,2292 891.2,2294C895.3,2296.1 898.8,2297.8 902.6,2299.7C906.4,2301.6 911.2,2303.2 914,2305.4C916.9,2307.7 918.5,2309.9 919.7,2313.1C921,2316.2 920.1,2321.3 921.6,2324.5C923.2,2327.6 926.1,2329.6 929.2,2332.1C932.4,2334.6 937.2,2337.2 940.7,2339.7C944.2,2342.2 948.1,2345.1 950.2,2347.3C952.2,2349.5 953.4,2351.1 953,2353C952.7,2354.9 951,2356.8 948.3,2358.7C945.6,2360.6 941.3,2362.5 936.9,2364.4C932.4,2366.3 926.7,2368.6 921.6,2370.1C916.6,2371.7 911.5,2372.7 906.4,2374C901.3,2375.2 895.6,2376.5 891.2,2377.8C886.7,2379 882.3,2379.7 879.8,2381.6C877.2,2383.5 875.3,2387 876,2389.2C876.6,2391.4 882.9,2393 883.6,2394.9C884.2,2396.8 882.3,2398.7 879.8,2400.6C877.2,2402.5 871.8,2404.4 868.4,2406.3C864.9,2408.2 862,2410.1 858.8,2412C855.7,2413.9 851.5,2415.8 849.3,2417.7C847.1,2419.6 846.5,2421.5 845.5,2423.4C844.6,2425.3 846.2,2427.6 843.6,2429.1C841.1,2430.7 835.7,2432.2 830.3,2432.9C824.9,2433.7 817.6,2433.7 811.3,2433.9C804.9,2434.1 798.6,2434.1 792.2,2433.9C785.9,2433.7 779.5,2433.3 773.2,2432.9C766.9,2432.6 760.5,2432.5 754.2,2432C747.8,2431.5 740.9,2430.6 735.1,2430.1C729.4,2429.6 724.5,2429.5 719.9,2429.1C715.3,2428.8 708.8,2428.7 707.6,2428.2C706.3,2427.7 709.3,2426.9 712.3,2426.3C715.3,2425.7 721.2,2425 725.6,2424.4C730.1,2423.7 735.6,2423.3 739,2422.5C742.3,2421.7 745.3,2420.7 745.6,2419.6C745.9,2418.5 744.2,2416.8 740.9,2415.8C737.5,2414.9 730.4,2414.5 725.6,2413.9C720.9,2413.3 716.8,2412.6 712.3,2412C707.9,2411.4 701.8,2411.4 699,2410.1C696.1,2408.8 696.5,2406.9 695.2,2404.4C693.9,2401.9 693,2397.7 691.4,2394.9C689.8,2392 688.5,2388.9 685.7,2387.3C682.8,2385.7 678.1,2385.5 674.3,2385.4C670.4,2385.2 666,2386.3 662.8,2386.3C659.7,2386.3 657.3,2386.6 655.2,2385.4C653.2,2384.1 650.8,2381.2 650.5,2378.7Z"/><path class="c" d="M704.7,2356.8C705,2355.2 706,2352.7 708.5,2351.1C711,2349.5 715.5,2349.5 719.9,2347.3C724.4,2345.1 730.4,2340.3 735.1,2337.8C739.9,2335.3 744,2333.5 748.5,2332.1C752.9,2330.7 757,2330.5 761.8,2329.2C766.5,2328 772.9,2326.5 777,2324.5C781.1,2322.4 784.3,2319.7 786.5,2316.9C788.7,2314 788.4,2310.5 790.3,2307.4C792.2,2304.2 794.5,2300.1 797.9,2297.8C801.4,2295.6 805.9,2294.9 811.3,2294C816.7,2293.1 824,2292.8 830.3,2292.5C836.6,2292.2 843,2291.9 849.3,2292.1C855.7,2292.4 862.6,2293.1 868.4,2294C874.1,2295 879.1,2296.2 883.6,2297.8C888,2299.4 892.1,2301.6 895,2303.5C897.8,2305.4 899.8,2306.7 900.7,2309.3C901.7,2311.8 900.4,2315.6 900.7,2318.8C901,2321.9 901,2325.1 902.6,2328.3C904.2,2331.5 907.4,2334.9 910.2,2337.8C913.1,2340.7 917.5,2342.9 919.7,2345.4C922,2347.9 923.5,2350.8 923.5,2353C923.5,2355.2 922.6,2356.8 919.7,2358.7C916.9,2360.6 911.2,2362.5 906.4,2364.4C901.7,2366.3 896.3,2368.2 891.2,2370.1C886.1,2372.1 880.7,2374 876,2375.9C871.2,2377.8 865.5,2379.3 862.6,2381.6C859.8,2383.8 858.8,2386.6 858.8,2389.2C858.8,2391.7 863.3,2394.9 862.6,2396.8C862,2398.7 858.8,2399.6 855,2400.6C851.2,2401.5 845.5,2401.9 839.8,2402.5C834.1,2403.1 827.1,2403.9 820.8,2404.4C814.4,2404.9 807.8,2405.2 801.8,2405.4C795.7,2405.5 790,2405.7 784.6,2405.4C779.2,2405 774.5,2404.6 769.4,2403.4C764.3,2402.3 759.3,2400.1 754.2,2398.7C749.1,2397.3 743.7,2396.2 739,2394.9C734.2,2393.6 729.4,2392.7 725.6,2391.1C721.8,2389.5 718.3,2387.6 716.1,2385.4C713.9,2383.2 711.7,2380.3 712.3,2377.8C712.9,2375.2 719.3,2372.4 719.9,2370.1C720.6,2367.9 718.3,2366 716.1,2364.4C713.9,2362.9 708.5,2361.9 706.6,2360.6C704.7,2359.4 704.4,2358.4 704.7,2356.8Z"/><path class="c" d="M725.5,2352.5C726.1,2351.2 727.9,2349.6 729.4,2348.7C731,2347.7 733.1,2347.4 734.9,2346.7C736.7,2346.1 738.6,2345.5 740.3,2344.7C742.1,2344 743.7,2343 745.5,2342.1C747.2,2341.3 748.8,2340.3 750.5,2339.5C752.3,2338.6 754,2337.8 755.8,2337C757.5,2336.2 759.3,2335.5 761.1,2334.8C762.9,2334.1 764.8,2333.5 766.6,2332.9C768.5,2332.4 770.3,2332 772.2,2331.4C774,2330.9 775.9,2330.3 777.7,2329.7C779.5,2329.1 781.4,2328.6 783.2,2327.9C785,2327.1 786.8,2326.4 788.4,2325.4C790.1,2324.4 791.7,2323.3 793.1,2322C794.5,2320.7 795.7,2319.2 796.8,2317.7C798,2316.2 798.7,2314.6 799.9,2313.1C801.1,2311.7 802.3,2310.2 803.7,2308.9C805.1,2307.7 806.7,2306.5 808.3,2305.5C809.9,2304.4 811.7,2303.7 813.3,2302.9C815,2302.1 816.6,2301.2 818.3,2300.6C820.1,2300 822,2299.6 823.9,2299.3C825.7,2298.9 827.7,2298.7 829.6,2298.5C831.5,2298.2 833.4,2298 835.3,2297.9C837.2,2297.7 839.2,2297.6 841.1,2297.5C843,2297.4 845,2297.4 846.9,2297.4C848.8,2297.4 850.8,2297.4 852.7,2297.5C854.6,2297.6 856.5,2297.7 858.5,2297.9C860.4,2298.1 862.3,2298.3 864.2,2298.6C866.1,2298.9 868,2299.2 869.9,2299.7C871.8,2300.1 873.7,2300.6 875.5,2301.3C877.2,2302.1 878.8,2303.1 880.2,2304.3C881.7,2305.4 882.9,2306.7 884.2,2308.1C885.4,2309.5 886.9,2310.8 887.7,2312.5C888.5,2314.1 888.7,2316.1 889.1,2318C889.5,2319.8 889.7,2321.7 890.2,2323.5C890.7,2325.3 891.2,2327.2 892.2,2328.8C893.1,2330.5 894.6,2331.8 895.9,2333.2C897.2,2334.6 898.7,2335.9 900.2,2337.1C901.7,2338.3 903.4,2339.3 904.8,2340.6C906.2,2341.9 907.6,2343.3 908.5,2345C909.3,2346.6 910.1,2348.8 909.9,2350.5C909.7,2352.2 908.5,2353.8 907.3,2355.2C906.2,2356.6 904.8,2357.6 903.3,2358.7C901.8,2359.8 900.1,2360.7 898.4,2361.6C896.7,2362.5 895,2363.3 893.2,2364.1C891.4,2364.9 889.6,2365.5 887.8,2366.3C886,2367 884.3,2367.7 882.5,2368.4C880.7,2369.2 878.9,2369.9 877.1,2370.6C875.3,2371.3 873.5,2372 871.7,2372.8C869.9,2373.5 868.1,2374.1 866.4,2375C864.6,2375.8 862.7,2376.6 861.4,2377.8C860,2379 858.8,2380.6 858.2,2381.9C857.6,2383.3 858.7,2384.6 857.9,2385.7C857.1,2386.8 855.1,2387.9 853.4,2388.6C851.7,2389.3 849.7,2389.6 847.8,2390C845.9,2390.4 844,2390.7 842.1,2391C840.2,2391.3 838.3,2391.5 836.4,2391.8C834.5,2392.1 832.6,2392.4 830.6,2392.6C828.7,2392.8 826.8,2393 824.9,2393.2C823,2393.4 821,2393.6 819.1,2393.7C817.2,2393.8 815.2,2393.9 813.3,2393.9C811.4,2393.9 809.4,2394 807.5,2393.9C805.6,2393.9 803.7,2393.8 801.8,2393.6C799.9,2393.5 798,2393.1 796.1,2392.8C794.2,2392.6 792.3,2392.3 790.4,2392C788.5,2391.8 786.6,2391.5 784.7,2391.2C782.8,2390.9 780.9,2390.6 779,2390.3C777.1,2390 775.2,2389.5 773.3,2389.3C771.5,2389.1 769.7,2389.3 767.9,2389C766.1,2388.8 764.3,2388.2 762.5,2387.6C760.7,2387 759,2386.2 757.2,2385.6C755.4,2385 753.5,2384.5 751.6,2383.9C749.8,2383.4 747.9,2382.9 746.1,2382.2C744.3,2381.5 742.5,2380.9 740.7,2380C739,2379.2 737.3,2378.2 735.8,2377.1C734.3,2375.9 732.6,2374.4 731.9,2373.1C731.3,2371.7 731.8,2370.4 731.8,2369C731.9,2367.7 732.8,2366.2 732.3,2364.7C731.9,2363.2 730.2,2361.5 729.2,2360.1C728.2,2358.8 726.7,2357.9 726.1,2356.7C725.5,2355.4 725,2353.9 725.5,2352.5Z"/><path class="c" d="M743.2,2353.2C743.4,2351.7 743.5,2350.4 745.3,2349C747,2347.6 750.2,2346.2 753.7,2344.8C757.2,2343.4 761.6,2342.3 766.3,2340.6C771.1,2338.8 777.1,2336.4 782.2,2334.3C787.2,2332.2 792.7,2330.2 796.9,2327.9C801.1,2325.7 803.9,2323 807.4,2320.6C811,2318.1 815.2,2315.5 818,2313.2C820.8,2310.9 821.5,2308.4 824.3,2306.9C827.1,2305.3 831,2304.4 834.8,2303.7C838.7,2303 843.3,2302.7 847.5,2302.6C851.7,2302.6 856.5,2302.6 860.1,2303.2C863.8,2303.7 867.5,2304.5 869.6,2305.8C871.7,2307.1 871.7,2309 872.8,2311.1C873.8,2313.2 874.9,2316.2 875.9,2318.5C877,2320.7 878.1,2322.8 879.1,2324.8C880.2,2326.7 880.9,2328.5 882.3,2330C883.7,2331.6 885.6,2332.7 887.5,2334.3C889.5,2335.8 892.4,2337.4 893.9,2339.5C895.4,2341.6 896.3,2344.4 896.5,2346.9C896.7,2349.4 896.1,2352.2 894.9,2354.3C893.8,2356.4 891.9,2358 889.6,2359.6C887.4,2361.1 884.2,2362.4 881.2,2363.8C878.2,2365.2 874.9,2366.6 871.7,2368C868.6,2369.4 865.6,2370.8 862.2,2372.2C858.9,2373.6 855.2,2375.2 851.7,2376.4C848.2,2377.6 844.7,2378.7 841.2,2379.6C837.7,2380.5 834.1,2381.2 830.6,2381.7C827.1,2382.2 823.6,2382.7 820.1,2382.7C816.6,2382.8 812.4,2382.7 809.6,2382.2C806.7,2381.8 805.7,2380.8 803.2,2380.1C800.8,2379.4 797.8,2378.4 794.8,2378C791.8,2377.6 788,2377.2 785.3,2377.5C782.7,2377.7 780.7,2379.8 779,2379.6C777.2,2379.4 776.9,2377.5 774.8,2376.4C772.7,2375.4 769.5,2374.5 766.3,2373.3C763.2,2372 759,2370.6 755.8,2369C752.6,2367.5 749.4,2365.5 747.4,2363.8C745.4,2362 744.4,2360.3 743.7,2358.5C743,2356.7 742.9,2354.8 743.2,2353.2Z"/><path class="c" d="M838.5,2308.4C838.5,2307.7 839.5,2306.9 841.2,2306.3C842.8,2305.8 845.7,2305.5 848.5,2305.3C851.4,2305.1 855.7,2305 858,2305.3C860.4,2305.5 862.1,2306.2 862.8,2306.9C863.5,2307.6 863.2,2308.8 862.2,2309.5C861.3,2310.2 859.3,2310.7 857,2311.1C854.7,2311.4 851.2,2311.7 848.5,2311.6C845.9,2311.5 842.8,2311.1 841.2,2310.6C839.5,2310 838.5,2309.1 838.5,2308.4Z"/><path class="c" d="M751.6,2353.2C751.9,2351.8 751.9,2350.4 753.7,2349C755.5,2347.6 758.6,2346.2 762.1,2344.8C765.6,2343.4 770.4,2342.2 774.8,2340.6C779.2,2339 784.1,2337.1 788.5,2335.3C792.9,2333.6 796.9,2331.8 801.1,2330C805.3,2328.3 810.3,2326.5 813.8,2324.8C817.3,2323 819,2320.6 822.2,2319.5C825.4,2318.4 828.9,2318.3 832.7,2317.9C836.6,2317.6 841.5,2317.3 845.4,2317.4C849.2,2317.5 852.8,2317.8 855.9,2318.5C859.1,2319.2 862.1,2320.2 864.4,2321.6C866.6,2323 868.2,2325 869.6,2326.9C871,2328.8 871.6,2331.5 872.8,2333.2C874,2335 874.9,2335.8 877,2337.4C879.1,2339 883.3,2340.8 885.4,2342.7C887.5,2344.6 889.1,2346.9 889.6,2349C890.2,2351.1 889.6,2353.4 888.6,2355.3C887.5,2357.3 885.8,2359 883.3,2360.6C880.9,2362.2 877.2,2363.4 873.8,2364.8C870.5,2366.2 867,2367.7 863.3,2369C859.6,2370.4 855.7,2371.7 851.7,2372.7C847.7,2373.8 843.3,2374.7 839.1,2375.4C834.8,2376.1 830.6,2376.6 826.4,2376.9C822.2,2377.3 818,2377.5 813.8,2377.5C809.6,2377.5 805.3,2377.4 801.1,2376.9C796.9,2376.5 792.7,2375.6 788.5,2374.8C784.3,2374 779.9,2373.3 775.8,2372.2C771.8,2371.1 767.6,2369.6 764.2,2368C760.9,2366.4 757.8,2364.5 755.8,2362.7C753.8,2361 752.8,2359 752.1,2357.4C751.4,2355.9 751.3,2354.6 751.6,2353.2Z"/><path class="c" d="M761.1,2353.2C761.1,2351.7 760.7,2350.4 762.1,2349C763.5,2347.6 766.2,2346.2 769.5,2344.8C772.8,2343.4 777.6,2342 782.2,2340.6C786.7,2339.2 792,2337.8 796.9,2336.4C801.8,2335 807.1,2333.7 811.7,2332.2C816.2,2330.6 820.4,2328.3 824.3,2326.9C828.2,2325.5 831.3,2324.4 834.8,2323.7C838.4,2323 841.9,2322.7 845.4,2322.7C848.9,2322.7 852.9,2322.8 855.9,2323.7C858.9,2324.6 861.5,2326.2 863.3,2327.9C865.1,2329.7 865.2,2332.3 866.5,2334.3C867.7,2336.2 868.9,2338 870.7,2339.5C872.4,2341.1 875.4,2342.2 877,2343.7C878.6,2345.3 879.8,2347.1 880.2,2349C880.5,2350.9 880.2,2353.4 879.1,2355.3C878.1,2357.3 876.3,2359 873.8,2360.6C871.4,2362.2 867.9,2363.5 864.4,2364.8C860.8,2366.1 856.8,2367.5 852.8,2368.5C848.7,2369.6 844.3,2370.4 840.1,2371.1C835.9,2371.8 831.7,2372.4 827.5,2372.7C823.3,2373.1 819,2373.3 814.8,2373.3C810.6,2373.3 806.4,2373.2 802.2,2372.7C798,2372.3 793.7,2371.5 789.5,2370.6C785.3,2369.7 780.7,2368.8 776.9,2367.5C773,2366.1 768.8,2364.2 766.3,2362.7C763.9,2361.2 763,2360.1 762.1,2358.5C761.3,2356.9 761.1,2354.8 761.1,2353.2Z"/><path class="c" d="M771.6,2353.2C771.6,2351.7 771.3,2350.2 772.7,2349C774.1,2347.8 776.7,2346.9 780,2345.9C783.4,2344.8 788.1,2343.7 792.7,2342.7C797.3,2341.6 802.5,2340.7 807.4,2339.5C812.4,2338.4 817.6,2337.1 822.2,2335.8C826.8,2334.6 831,2333.2 834.8,2332.2C838.7,2331.2 842.6,2330 845.4,2329.8C848.2,2329.7 850.2,2330.2 851.7,2331.3C853.2,2332.4 853.1,2334.8 854.3,2336.4C855.6,2337.9 857.1,2339.2 859.1,2340.6C861.1,2342 864.5,2343.1 866.5,2344.8C868.4,2346.5 870.2,2348.6 870.7,2350.6C871.1,2352.6 870.5,2355.1 869.1,2356.9C867.7,2358.8 865.1,2360.3 862.2,2361.7C859.3,2363.1 855.6,2364.3 851.7,2365.4C847.8,2366.4 843.3,2367.3 839.1,2368C834.8,2368.7 830.6,2369.2 826.4,2369.6C822.2,2369.9 818,2370 813.8,2369.9C809.6,2369.8 805.3,2369.4 801.1,2368.8C796.9,2368.2 792.3,2367.4 788.5,2366.4C784.6,2365.4 780.6,2364 777.9,2362.7C775.3,2361.4 773.7,2360.1 772.7,2358.5C771.6,2356.9 771.6,2354.8 771.6,2353.2Z"/><path class="c" d="M782.2,2353.2C782.4,2352.2 782.5,2351.1 784.3,2350.1C786,2349 789.2,2348 792.7,2346.9C796.2,2345.9 800.8,2344.6 805.3,2343.7C809.9,2342.9 815.5,2342.2 820.1,2341.6C824.7,2341.1 828.5,2340.8 832.7,2340.6C837,2340.4 841.5,2340.2 845.4,2340.6C849.2,2340.9 853.3,2341.6 855.9,2342.7C858.6,2343.7 860.1,2345.4 861.2,2346.9C862.2,2348.4 862.8,2350.2 862.2,2351.7C861.7,2353.1 860.3,2354.5 858,2355.9C855.7,2357.2 852.1,2358.5 848.5,2359.6C845,2360.6 841,2361.5 837,2362.2C832.9,2362.9 828.5,2363.4 824.3,2363.8C820.1,2364.1 815.9,2364.5 811.7,2364.3C807.4,2364.1 803.1,2363.5 799,2362.7C795,2361.9 790.1,2360.6 787.4,2359.6C784.7,2358.5 783.6,2357.4 782.7,2356.4C781.8,2355.3 781.9,2354.3 782.2,2353.2Z"/><path class="c" d="M794.8,2353.2C795.4,2352.2 796.6,2350.6 799,2349.5C801.5,2348.5 805.5,2347.5 809.6,2346.9C813.6,2346.3 818.7,2346 823.3,2345.9C827.8,2345.7 832.9,2345.6 837,2345.9C841,2346.1 845.3,2346.6 847.5,2347.4C849.7,2348.2 850.3,2349.5 850.1,2350.6C850,2351.7 848.6,2353.2 846.4,2354.3C844.2,2355.3 840.6,2356.1 837,2356.9C833.3,2357.7 828.5,2358.6 824.3,2359C820.1,2359.5 815.7,2359.7 811.7,2359.6C807.6,2359.4 802.8,2358.6 800.1,2358C797.3,2357.4 796.2,2356.7 795.3,2355.9C794.4,2355.1 794.2,2354.3 794.8,2353.2Z"/><line class="dg" x1="612.6" y1="2542.8" x2="994.2" y2="2182.6"/><rect class="fr" x="612.6" y="2182.6" width="381.6" height="360.2"/><text class="tt" x="803.4" y="2139.7">Conduit element length</text><text class="tt" x="803.4" y="2174.1">r = 0.26</text><text class="tx" x="701.7" y="2575.7">5</text><text class="tx" x="821.8" y="2575.7">6</text><text class="tx" x="942" y="2575.7">7</text><text class="ty" x="599" y="2467.6">5</text><text class="ty" x="599" y="2354.2">6</text><text class="ty" x="599" y="2240.8">7</text><text class="lb" x="803.4" y="2606.9">sPlotOpen plot</text><text class="lb" transform="translate(571.3,2362.7) rotate(-90)">iNaturalist obs. mean</text></g>
</svg></body></html>
